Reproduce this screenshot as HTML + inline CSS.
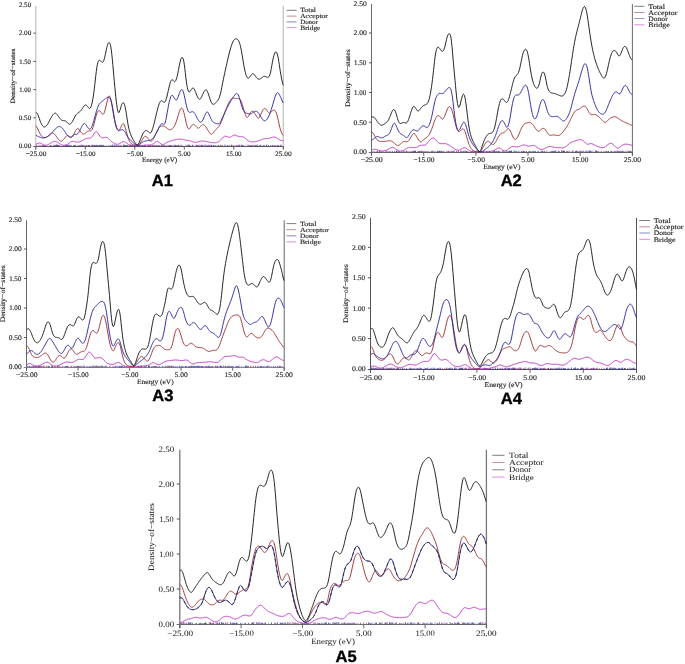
<!DOCTYPE html>
<html><head><meta charset="utf-8"><title>DOS</title>
<style>html,body{margin:0;padding:0;background:#fff}svg{display:block;opacity:0.999;will-change:transform}text{fill:#222;text-rendering:geometricPrecision;stroke:#333;stroke-width:0.15px}#A5 text{stroke-width:0.04px}</style>
</head><body>
<svg width="685" height="664" viewBox="0 0 685 664">
<rect width="685" height="664" fill="#fff"/>
<g id="A1">
<path d="M35.8,5.8 V149.6 M283.3,5.8 V149.6" fill="none" stroke="#c4c4c4" stroke-width="1.3"/>
<text x="25.0" y="148.2" font-family="Liberation Serif" font-size="6.71" font-weight="normal" text-anchor="middle" textLength="12.6" lengthAdjust="spacingAndGlyphs" >0.00</text>
<path d="M35.8,117.8 h-2.4" stroke="#444" stroke-width="0.9"/>
<text x="25.0" y="120.0" font-family="Liberation Serif" font-size="6.71" font-weight="normal" text-anchor="middle" textLength="12.6" lengthAdjust="spacingAndGlyphs" >0.50</text>
<path d="M35.8,89.6 h-2.4" stroke="#444" stroke-width="0.9"/>
<text x="25.0" y="91.8" font-family="Liberation Serif" font-size="6.71" font-weight="normal" text-anchor="middle" textLength="11.6" lengthAdjust="spacingAndGlyphs" >1.00</text>
<path d="M35.8,61.4 h-2.4" stroke="#444" stroke-width="0.9"/>
<text x="25.0" y="63.6" font-family="Liberation Serif" font-size="6.71" font-weight="normal" text-anchor="middle" textLength="11.6" lengthAdjust="spacingAndGlyphs" >1.50</text>
<path d="M35.8,33.2 h-2.4" stroke="#444" stroke-width="0.9"/>
<text x="25.0" y="35.4" font-family="Liberation Serif" font-size="6.71" font-weight="normal" text-anchor="middle" textLength="12.6" lengthAdjust="spacingAndGlyphs" >2.00</text>
<text x="25.0" y="7.2" font-family="Liberation Serif" font-size="6.71" font-weight="normal" text-anchor="middle" textLength="12.6" lengthAdjust="spacingAndGlyphs" >2.50</text>
<path d="M35.8,146.0 v3.6" stroke="#555" stroke-width="0.9"/>
<text x="36.1" y="155.7" font-family="Liberation Serif" font-size="6.71" font-weight="normal" text-anchor="middle" textLength="20.8" lengthAdjust="spacingAndGlyphs" >−25.00</text>
<path d="M85.3,146.0 v3.6" stroke="#555" stroke-width="0.9"/>
<text x="85.6" y="155.7" font-family="Liberation Serif" font-size="6.71" font-weight="normal" text-anchor="middle" textLength="19.8" lengthAdjust="spacingAndGlyphs" >−15.00</text>
<path d="M134.8,146.0 v3.6" stroke="#555" stroke-width="0.9"/>
<text x="135.1" y="155.7" font-family="Liberation Serif" font-size="6.71" font-weight="normal" text-anchor="middle" textLength="16.6" lengthAdjust="spacingAndGlyphs" >−5.00</text>
<path d="M184.3,146.0 v3.6" stroke="#555" stroke-width="0.9"/>
<text x="184.3" y="155.7" font-family="Liberation Serif" font-size="6.71" font-weight="normal" text-anchor="middle" textLength="12.6" lengthAdjust="spacingAndGlyphs" >5.00</text>
<path d="M233.8,146.0 v3.6" stroke="#555" stroke-width="0.9"/>
<text x="233.8" y="155.7" font-family="Liberation Serif" font-size="6.71" font-weight="normal" text-anchor="middle" textLength="15.6" lengthAdjust="spacingAndGlyphs" >15.00</text>
<path d="M283.3,146.0 v3.6" stroke="#555" stroke-width="0.9"/>
<text x="283.3" y="155.7" font-family="Liberation Serif" font-size="6.71" font-weight="normal" text-anchor="middle" textLength="16.6" lengthAdjust="spacingAndGlyphs" >25.00</text>
<text x="159.6" y="162.1" font-family="Liberation Serif" font-size="6.61" font-weight="normal" text-anchor="middle" textLength="35.3" lengthAdjust="spacingAndGlyphs" >Energy (eV)</text>
<text x="15.2" y="76.0" font-family="Liberation Serif" font-size="6.61" font-weight="normal" text-anchor="middle" textLength="54.8" lengthAdjust="spacingAndGlyphs" transform="rotate(-90 15.2 76.0)">Density−of−states</text>
<path d="M33.2,146.5 H283.8" stroke="#5a5a5a" stroke-width="1"/>
<path d="M41.9,146.3 v-1.1 M47.9,146.3 v-1.0 M64.4,146.3 v-1.3 M87.6,146.3 v-1.2 M108.5,146.3 v-1.5 M146.7,146.3 v-1.2 M155.2,146.3 v-1.4 M185.2,146.3 v-1.4 M194.1,146.3 v-1.4 M195.8,146.3 v-1.6 M200.5,146.3 v-1.4 M240.4,146.3 v-1.0 M243.7,146.3 v-1.2 M245.4,146.3 v-1.4" stroke="#9a9ae8" stroke-width="0.9" opacity="0.85" fill="none"/>
<path d="M45.5,146.3 v-1.0 M50.3,146.3 v-1.4 M51.4,146.3 v-0.9 M53.8,146.3 v-1.5 M56.5,146.3 v-1.7 M58.4,146.3 v-1.2 M59.3,146.3 v-1.2 M65.4,146.3 v-1.3 M66.3,146.3 v-1.7 M68.2,146.3 v-1.5 M69.2,146.3 v-1.6 M70.3,146.3 v-1.0 M71.2,146.3 v-1.1 M75.7,146.3 v-1.5 M78.1,146.3 v-1.1 M81.1,146.3 v-1.6 M82.4,146.3 v-1.4 M83.4,146.3 v-1.0 M85.4,146.3 v-0.9 M88.6,146.3 v-1.2 M94.4,146.3 v-1.2 M99.3,146.3 v-1.2 M100.2,146.3 v-1.6 M103.7,146.3 v-1.5 M110.2,146.3 v-1.1 M112.6,146.3 v-1.7 M114.3,146.3 v-1.7 M116.0,146.3 v-1.6 M118.8,146.3 v-1.1 M121.1,146.3 v-1.2 M123.5,146.3 v-1.6 M129.4,146.3 v-1.4 M130.5,146.3 v-1.5 M134.5,146.3 v-1.7 M135.4,146.3 v-1.3 M137.1,146.3 v-1.5 M140.0,146.3 v-1.7 M141.1,146.3 v-0.9 M142.2,146.3 v-1.4 M144.0,146.3 v-1.2 M149.8,146.3 v-1.2 M150.7,146.3 v-1.6 M156.3,146.3 v-1.4 M158.9,146.3 v-1.2 M161.5,146.3 v-1.7 M165.4,146.3 v-0.9 M168.1,146.3 v-1.0 M169.2,146.3 v-1.3 M170.2,146.3 v-1.3 M171.0,146.3 v-1.1 M175.5,146.3 v-1.0 M178.5,146.3 v-1.5 M179.8,146.3 v-0.9 M181.1,146.3 v-1.6 M189.1,146.3 v-1.6 M192.4,146.3 v-1.6 M196.7,146.3 v-1.5 M201.3,146.3 v-1.2 M202.9,146.3 v-1.0 M208.9,146.3 v-1.5 M211.5,146.3 v-1.4 M213.2,146.3 v-1.4 M214.0,146.3 v-1.2 M217.0,146.3 v-0.9 M218.7,146.3 v-1.4 M224.9,146.3 v-1.7 M227.3,146.3 v-1.2 M229.0,146.3 v-1.0 M231.5,146.3 v-1.6 M237.4,146.3 v-1.0 M239.3,146.3 v-1.6 M241.7,146.3 v-1.6 M242.7,146.3 v-1.4 M250.1,146.3 v-1.0 M250.9,146.3 v-0.9 M251.8,146.3 v-1.3 M256.4,146.3 v-1.0 M257.3,146.3 v-1.6 M260.7,146.3 v-1.6 M263.1,146.3 v-1.1 M266.6,146.3 v-1.7 M268.3,146.3 v-1.3 M272.4,146.3 v-1.3 M275.9,146.3 v-1.2 M277.6,146.3 v-1.2 M278.7,146.3 v-1.0" stroke="#2424a8" stroke-width="0.9" opacity="0.85" fill="none"/>
<path d="M44.6,146.3 v-0.9 M55.6,146.3 v-1.4 M80.2,146.3 v-1.2 M86.7,146.3 v-1.2 M91.8,146.3 v-1.6 M106.1,146.3 v-1.0 M117.1,146.3 v-1.1 M131.8,146.3 v-1.7 M147.5,146.3 v-1.1 M148.5,146.3 v-1.2 M152.4,146.3 v-1.3 M157.6,146.3 v-1.2 M159.8,146.3 v-1.3 M163.4,146.3 v-1.2 M176.5,146.3 v-1.2 M182.8,146.3 v-0.9 M215.3,146.3 v-1.2 M220.4,146.3 v-1.6 M221.7,146.3 v-1.1 M222.5,146.3 v-1.1 M233.9,146.3 v-1.2 M236.3,146.3 v-1.3 M248.8,146.3 v-1.4 M254.0,146.3 v-1.6 M280.4,146.3 v-1.5" stroke="#a03030" stroke-width="0.9" opacity="0.85" fill="none"/>
<path d="M36.7,146.3 v-1.5 M39.1,146.3 v-1.6 M61.7,146.3 v-0.9 M63.4,146.3 v-1.0 M84.3,146.3 v-1.1 M93.6,146.3 v-1.5 M98.3,146.3 v-1.2 M111.5,146.3 v-1.1 M120.1,146.3 v-1.5 M132.8,146.3 v-1.5 M138.0,146.3 v-0.9 M143.0,146.3 v-1.1 M153.3,146.3 v-1.4 M162.4,146.3 v-1.1 M167.1,146.3 v-1.3 M171.9,146.3 v-1.1 M173.0,146.3 v-1.3 M177.5,146.3 v-0.9 M186.9,146.3 v-1.4 M198.9,146.3 v-1.6 M199.7,146.3 v-1.1 M204.2,146.3 v-1.7 M209.7,146.3 v-0.9 M210.5,146.3 v-1.5 M229.8,146.3 v-1.0 M232.8,146.3 v-1.1 M238.5,146.3 v-1.1 M247.8,146.3 v-1.7 M252.9,146.3 v-1.2 M273.3,146.3 v-1.0 M274.2,146.3 v-1.4 M281.3,146.3 v-1.7" stroke="#c032c0" stroke-width="0.9" opacity="0.85" fill="none"/>
<path d="M40.8,146.3 v-0.9 M42.7,146.3 v-1.0 M43.8,146.3 v-1.2 M54.7,146.3 v-1.1 M57.4,146.3 v-1.6 M67.1,146.3 v-1.2 M73.6,146.3 v-1.2 M74.6,146.3 v-1.1 M79.2,146.3 v-1.0 M89.4,146.3 v-1.4 M92.7,146.3 v-1.4 M95.2,146.3 v-1.1 M96.3,146.3 v-1.4 M97.2,146.3 v-1.3 M101.5,146.3 v-1.4 M102.6,146.3 v-1.0 M124.4,146.3 v-1.5 M125.4,146.3 v-1.3 M126.7,146.3 v-1.1 M127.7,146.3 v-1.3 M139.1,146.3 v-1.0 M145.0,146.3 v-1.6 M154.2,146.3 v-1.4 M164.4,146.3 v-1.1 M174.7,146.3 v-1.6 M188.0,146.3 v-1.6 M190.0,146.3 v-1.3 M197.8,146.3 v-1.3 M202.1,146.3 v-1.5 M205.9,146.3 v-1.7 M207.6,146.3 v-1.0 M255.3,146.3 v-1.2 M259.7,146.3 v-1.0 M264.2,146.3 v-1.2 M270.7,146.3 v-1.0" stroke="#202060" stroke-width="0.9" opacity="0.85" fill="none"/>
<path d="M35.80,144.30 L36.30,144.09 L36.80,143.81 L37.30,143.55 L37.80,143.32 L38.30,143.15 L38.80,143.05 L39.30,143.03 L39.80,143.08 L40.30,143.21 L40.80,143.40 L41.30,143.63 L41.80,143.88 L42.30,144.14 L42.80,144.40 L43.30,144.64 L43.80,144.85 L44.30,145.04 L44.80,145.18 L45.30,145.26 L45.80,145.27 L46.30,145.21 L46.80,145.09 L47.30,144.93 L47.80,144.71 L48.30,144.47 L48.80,144.19 L49.30,143.91 L49.80,143.61 L50.30,143.32 L50.80,143.02 L51.30,142.73 L51.80,142.45 L52.30,142.19 L52.80,141.94 L53.30,141.73 L53.80,141.56 L54.30,141.44 L54.80,141.38 L55.30,141.39 L55.80,141.48 L56.30,141.64 L56.80,141.87 L57.30,142.16 L57.80,142.48 L58.30,142.82 L58.80,143.17 L59.30,143.51 L59.80,143.83 L60.30,144.12 L60.80,144.39 L61.30,144.64 L61.80,144.86 L62.30,145.04 L62.80,145.17 L63.30,145.26 L63.80,145.30 L64.30,145.29 L64.80,145.24 L65.30,145.15 L65.80,145.01 L66.30,144.84 L66.80,144.63 L67.30,144.38 L67.80,144.08 L68.30,143.75 L68.80,143.38 L69.30,143.00 L69.80,142.63 L70.30,142.27 L70.80,141.95 L71.30,141.69 L71.80,141.50 L72.30,141.39 L72.80,141.35 L73.30,141.38 L73.80,141.45 L74.30,141.55 L74.80,141.68 L75.30,141.82 L75.80,141.95 L76.30,142.06 L76.80,142.15 L77.30,142.19 L77.80,142.20 L78.30,142.15 L78.80,142.07 L79.30,141.94 L79.80,141.78 L80.30,141.59 L80.80,141.38 L81.30,141.14 L81.80,140.89 L82.30,140.61 L82.80,140.32 L83.30,140.01 L83.80,139.70 L84.30,139.39 L84.80,139.10 L85.30,138.84 L85.80,138.61 L86.30,138.44 L86.80,138.33 L87.30,138.27 L87.80,138.27 L88.30,138.28 L88.80,138.30 L89.30,138.30 L89.80,138.25 L90.30,138.13 L90.80,137.89 L91.30,137.52 L91.80,136.99 L92.30,136.34 L92.80,135.61 L93.30,134.85 L93.80,134.08 L94.30,133.35 L94.80,132.69 L95.30,132.13 L95.80,131.76 L96.30,131.64 L96.80,131.81 L97.30,132.24 L97.80,132.87 L98.30,133.62 L98.80,134.40 L99.30,135.18 L99.80,135.92 L100.30,136.57 L100.80,137.11 L101.30,137.48 L101.80,137.71 L102.30,137.81 L102.80,137.84 L103.30,137.80 L103.80,137.72 L104.30,137.61 L104.80,137.51 L105.30,137.41 L105.80,137.36 L106.30,137.35 L106.80,137.43 L107.30,137.60 L107.80,137.89 L108.30,138.29 L108.80,138.76 L109.30,139.28 L109.80,139.82 L110.30,140.35 L110.80,140.84 L111.30,141.31 L111.80,141.75 L112.30,142.17 L112.80,142.56 L113.30,142.91 L113.80,143.24 L114.30,143.52 L114.80,143.76 L115.30,143.95 L115.80,144.09 L116.30,144.19 L116.80,144.23 L117.30,144.24 L117.80,144.20 L118.30,144.12 L118.80,143.98 L119.30,143.79 L119.80,143.53 L120.30,143.21 L120.80,142.86 L121.30,142.49 L121.80,142.14 L122.30,141.83 L122.80,141.60 L123.30,141.47 L123.80,141.46 L124.30,141.58 L124.80,141.81 L125.30,142.12 L125.80,142.48 L126.30,142.86 L126.80,143.24 L127.30,143.60 L127.80,143.95 L128.30,144.27 L128.80,144.57 L129.30,144.82 L129.80,145.02 L130.30,145.19 L130.80,145.32 L131.30,145.42 L131.80,145.50 L132.30,145.57 L132.80,145.61 L133.30,145.64 L133.80,145.67 L134.30,145.68 L134.80,145.69 L135.30,145.70 L135.80,145.71 L136.30,145.72 L136.80,145.73 L137.30,145.74 L137.80,145.74 L138.30,145.75 L138.80,145.75 L139.30,145.74 L139.80,145.74 L140.30,145.72 L140.80,145.70 L141.30,145.67 L141.80,145.63 L142.30,145.58 L142.80,145.53 L143.30,145.47 L143.80,145.40 L144.30,145.34 L144.80,145.28 L145.30,145.22 L145.80,145.17 L146.30,145.13 L146.80,145.10 L147.30,145.08 L147.80,145.07 L148.30,145.06 L148.80,145.06 L149.30,145.04 L149.80,145.01 L150.30,144.95 L150.80,144.87 L151.30,144.75 L151.80,144.58 L152.30,144.35 L152.80,144.07 L153.30,143.73 L153.80,143.36 L154.30,142.97 L154.80,142.57 L155.30,142.21 L155.80,141.88 L156.30,141.63 L156.80,141.46 L157.30,141.40 L157.80,141.47 L158.30,141.68 L158.80,142.02 L159.30,142.44 L159.80,142.90 L160.30,143.34 L160.80,143.72 L161.30,144.02 L161.80,144.24 L162.30,144.38 L162.80,144.43 L163.30,144.39 L163.80,144.25 L164.30,144.02 L164.80,143.73 L165.30,143.39 L165.80,143.04 L166.30,142.72 L166.80,142.43 L167.30,142.17 L167.80,141.95 L168.30,141.75 L168.80,141.57 L169.30,141.41 L169.80,141.26 L170.30,141.12 L170.80,140.98 L171.30,140.85 L171.80,140.72 L172.30,140.58 L172.80,140.45 L173.30,140.33 L173.80,140.20 L174.30,140.08 L174.80,139.96 L175.30,139.84 L175.80,139.73 L176.30,139.63 L176.80,139.52 L177.30,139.43 L177.80,139.34 L178.30,139.26 L178.80,139.20 L179.30,139.15 L179.80,139.13 L180.30,139.12 L180.80,139.14 L181.30,139.19 L181.80,139.25 L182.30,139.34 L182.80,139.45 L183.30,139.57 L183.80,139.69 L184.30,139.81 L184.80,139.92 L185.30,140.03 L185.80,140.12 L186.30,140.19 L186.80,140.26 L187.30,140.32 L187.80,140.38 L188.30,140.45 L188.80,140.53 L189.30,140.62 L189.80,140.74 L190.30,140.88 L190.80,141.05 L191.30,141.24 L191.80,141.44 L192.30,141.64 L192.80,141.83 L193.30,142.00 L193.80,142.14 L194.30,142.25 L194.80,142.31 L195.30,142.32 L195.80,142.29 L196.30,142.22 L196.80,142.13 L197.30,142.01 L197.80,141.88 L198.30,141.74 L198.80,141.61 L199.30,141.48 L199.80,141.36 L200.30,141.25 L200.80,141.16 L201.30,141.09 L201.80,141.03 L202.30,141.00 L202.80,141.00 L203.30,141.02 L203.80,141.06 L204.30,141.13 L204.80,141.21 L205.30,141.31 L205.80,141.41 L206.30,141.52 L206.80,141.63 L207.30,141.74 L207.80,141.84 L208.30,141.94 L208.80,142.04 L209.30,142.14 L209.80,142.23 L210.30,142.32 L210.80,142.40 L211.30,142.48 L211.80,142.54 L212.30,142.60 L212.80,142.65 L213.30,142.69 L213.80,142.72 L214.30,142.73 L214.80,142.73 L215.30,142.71 L215.80,142.67 L216.30,142.59 L216.80,142.49 L217.30,142.35 L217.80,142.16 L218.30,141.91 L218.80,141.60 L219.30,141.22 L219.80,140.78 L220.30,140.31 L220.80,139.81 L221.30,139.29 L221.80,138.75 L222.30,138.20 L222.80,137.66 L223.30,137.17 L223.80,136.75 L224.30,136.44 L224.80,136.25 L225.30,136.19 L225.80,136.23 L226.30,136.35 L226.80,136.53 L227.30,136.73 L227.80,136.93 L228.30,137.11 L228.80,137.25 L229.30,137.32 L229.80,137.29 L230.30,137.16 L230.80,136.92 L231.30,136.60 L231.80,136.26 L232.30,135.92 L232.80,135.63 L233.30,135.41 L233.80,135.25 L234.30,135.16 L234.80,135.14 L235.30,135.19 L235.80,135.31 L236.30,135.50 L236.80,135.74 L237.30,136.00 L237.80,136.26 L238.30,136.48 L238.80,136.64 L239.30,136.73 L239.80,136.75 L240.30,136.73 L240.80,136.69 L241.30,136.66 L241.80,136.65 L242.30,136.70 L242.80,136.82 L243.30,137.01 L243.80,137.28 L244.30,137.60 L244.80,137.96 L245.30,138.35 L245.80,138.75 L246.30,139.17 L246.80,139.59 L247.30,140.01 L247.80,140.42 L248.30,140.80 L248.80,141.13 L249.30,141.40 L249.80,141.60 L250.30,141.74 L250.80,141.83 L251.30,141.89 L251.80,141.92 L252.30,141.92 L252.80,141.90 L253.30,141.87 L253.80,141.82 L254.30,141.76 L254.80,141.69 L255.30,141.62 L255.80,141.53 L256.30,141.43 L256.80,141.32 L257.30,141.19 L257.80,141.05 L258.30,140.91 L258.80,140.75 L259.30,140.58 L259.80,140.39 L260.30,140.19 L260.80,139.98 L261.30,139.76 L261.80,139.53 L262.30,139.32 L262.80,139.12 L263.30,138.94 L263.80,138.80 L264.30,138.69 L264.80,138.62 L265.30,138.58 L265.80,138.56 L266.30,138.55 L266.80,138.55 L267.30,138.54 L267.80,138.52 L268.30,138.47 L268.80,138.39 L269.30,138.27 L269.80,138.12 L270.30,137.96 L270.80,137.79 L271.30,137.62 L271.80,137.45 L272.30,137.31 L272.80,137.19 L273.30,137.10 L273.80,137.04 L274.30,137.04 L274.80,137.11 L275.30,137.24 L275.80,137.44 L276.30,137.68 L276.80,137.97 L277.30,138.28 L277.80,138.60 L278.30,138.93 L278.80,139.25 L279.30,139.56 L279.80,139.86 L280.30,140.11 L280.80,140.30 L281.30,140.43 L281.80,140.50 L282.30,140.52 L282.80,140.51 L283.30,140.49" fill="none" stroke="#c032c0" stroke-width="0.95" stroke-linejoin="round"/>
<path d="M35.80,125.64 L36.30,126.26 L36.80,127.11 L37.30,128.06 L37.80,129.05 L38.30,130.09 L38.80,131.17 L39.30,132.25 L39.80,133.31 L40.30,134.28 L40.80,135.13 L41.30,135.82 L41.80,136.38 L42.30,136.81 L42.80,137.14 L43.30,137.38 L43.80,137.52 L44.30,137.59 L44.80,137.59 L45.30,137.52 L45.80,137.38 L46.30,137.19 L46.80,136.95 L47.30,136.66 L47.80,136.34 L48.30,135.98 L48.80,135.60 L49.30,135.19 L49.80,134.76 L50.30,134.33 L50.80,133.94 L51.30,133.59 L51.80,133.33 L52.30,133.17 L52.80,133.13 L53.30,133.25 L53.80,133.52 L54.30,133.93 L54.80,134.43 L55.30,135.01 L55.80,135.66 L56.30,136.35 L56.80,137.07 L57.30,137.80 L57.80,138.50 L58.30,139.15 L58.80,139.74 L59.30,140.25 L59.80,140.68 L60.30,141.00 L60.80,141.19 L61.30,141.22 L61.80,141.08 L62.30,140.78 L62.80,140.35 L63.30,139.83 L63.80,139.25 L64.30,138.62 L64.80,137.97 L65.30,137.32 L65.80,136.71 L66.30,136.20 L66.80,135.83 L67.30,135.64 L67.80,135.62 L68.30,135.74 L68.80,135.98 L69.30,136.30 L69.80,136.67 L70.30,137.04 L70.80,137.32 L71.30,137.44 L71.80,137.32 L72.30,136.92 L72.80,136.26 L73.30,135.42 L73.80,134.45 L74.30,133.44 L74.80,132.43 L75.30,131.45 L75.80,130.53 L76.30,129.72 L76.80,129.08 L77.30,128.68 L77.80,128.55 L78.30,128.70 L78.80,129.10 L79.30,129.70 L79.80,130.41 L80.30,131.16 L80.80,131.89 L81.30,132.56 L81.80,133.16 L82.30,133.64 L82.80,133.97 L83.30,134.13 L83.80,134.10 L84.30,133.91 L84.80,133.59 L85.30,133.18 L85.80,132.71 L86.30,132.23 L86.80,131.77 L87.30,131.38 L87.80,131.08 L88.30,130.90 L88.80,130.83 L89.30,130.83 L89.80,130.86 L90.30,130.85 L90.80,130.74 L91.30,130.45 L91.80,129.90 L92.30,129.05 L92.80,127.89 L93.30,126.47 L93.80,124.82 L94.30,122.97 L94.80,120.96 L95.30,118.90 L95.80,116.93 L96.30,115.16 L96.80,113.66 L97.30,112.44 L97.80,111.50 L98.30,110.88 L98.80,110.59 L99.30,110.61 L99.80,110.91 L100.30,111.41 L100.80,112.04 L101.30,112.74 L101.80,113.43 L102.30,114.00 L102.80,114.32 L103.30,114.22 L103.80,113.63 L104.30,112.53 L104.80,111.00 L105.30,109.15 L105.80,107.11 L106.30,104.99 L106.80,102.88 L107.30,100.86 L107.80,99.01 L108.30,97.47 L108.80,96.42 L109.30,96.04 L109.80,96.44 L110.30,97.62 L110.80,99.49 L111.30,101.89 L111.80,104.64 L112.30,107.60 L112.80,110.59 L113.30,113.45 L113.80,116.11 L114.30,118.51 L114.80,120.69 L115.30,122.65 L115.80,124.43 L116.30,126.03 L116.80,127.47 L117.30,128.72 L117.80,129.69 L118.30,130.28 L118.80,130.42 L119.30,130.09 L119.80,129.38 L120.30,128.41 L120.80,127.32 L121.30,126.23 L121.80,125.22 L122.30,124.38 L122.80,123.81 L123.30,123.63 L123.80,123.94 L124.30,124.77 L124.80,126.07 L125.30,127.67 L125.80,129.44 L126.30,131.32 L126.80,133.24 L127.30,135.11 L127.80,136.87 L128.30,138.44 L128.80,139.78 L129.30,140.90 L129.80,141.83 L130.30,142.59 L130.80,143.20 L131.30,143.69 L131.80,144.09 L132.30,144.41 L132.80,144.67 L133.30,144.89 L133.80,145.07 L134.30,145.20 L134.80,145.29 L135.30,145.35 L135.80,145.37 L136.30,145.36 L136.80,145.31 L137.30,145.22 L137.80,145.06 L138.30,144.83 L138.80,144.50 L139.30,144.07 L139.80,143.55 L140.30,142.94 L140.80,142.24 L141.30,141.45 L141.80,140.59 L142.30,139.68 L142.80,138.81 L143.30,138.02 L143.80,137.35 L144.30,136.83 L144.80,136.47 L145.30,136.29 L145.80,136.33 L146.30,136.59 L146.80,137.05 L147.30,137.64 L147.80,138.31 L148.30,138.99 L148.80,139.63 L149.30,140.20 L149.80,140.68 L150.30,141.02 L150.80,141.18 L151.30,141.11 L151.80,140.83 L152.30,140.35 L152.80,139.70 L153.30,138.92 L153.80,138.04 L154.30,137.07 L154.80,136.02 L155.30,134.91 L155.80,133.77 L156.30,132.65 L156.80,131.58 L157.30,130.57 L157.80,129.65 L158.30,128.80 L158.80,128.05 L159.30,127.41 L159.80,126.90 L160.30,126.52 L160.80,126.27 L161.30,126.11 L161.80,126.02 L162.30,126.00 L162.80,126.03 L163.30,126.11 L163.80,126.24 L164.30,126.43 L164.80,126.67 L165.30,126.95 L165.80,127.26 L166.30,127.61 L166.80,127.98 L167.30,128.38 L167.80,128.77 L168.30,129.14 L168.80,129.45 L169.30,129.66 L169.80,129.75 L170.30,129.73 L170.80,129.60 L171.30,129.38 L171.80,129.06 L172.30,128.66 L172.80,128.18 L173.30,127.61 L173.80,126.95 L174.30,126.16 L174.80,125.24 L175.30,124.18 L175.80,122.98 L176.30,121.61 L176.80,120.08 L177.30,118.39 L177.80,116.60 L178.30,114.82 L178.80,113.14 L179.30,111.64 L179.80,110.36 L180.30,109.34 L180.80,108.59 L181.30,108.16 L181.80,108.11 L182.30,108.51 L182.80,109.37 L183.30,110.66 L183.80,112.29 L184.30,114.21 L184.80,116.36 L185.30,118.67 L185.80,121.00 L186.30,123.20 L186.80,125.12 L187.30,126.68 L187.80,127.87 L188.30,128.64 L188.80,128.97 L189.30,128.86 L189.80,128.41 L190.30,127.73 L190.80,126.96 L191.30,126.22 L191.80,125.55 L192.30,125.01 L192.80,124.61 L193.30,124.42 L193.80,124.44 L194.30,124.67 L194.80,125.07 L195.30,125.59 L195.80,126.15 L196.30,126.72 L196.80,127.24 L197.30,127.70 L197.80,128.02 L198.30,128.15 L198.80,128.06 L199.30,127.74 L199.80,127.26 L200.30,126.70 L200.80,126.14 L201.30,125.63 L201.80,125.22 L202.30,124.91 L202.80,124.73 L203.30,124.70 L203.80,124.84 L204.30,125.15 L204.80,125.62 L205.30,126.20 L205.80,126.86 L206.30,127.57 L206.80,128.33 L207.30,129.13 L207.80,129.95 L208.30,130.77 L208.80,131.57 L209.30,132.35 L209.80,133.07 L210.30,133.68 L210.80,134.11 L211.30,134.31 L211.80,134.24 L212.30,133.92 L212.80,133.40 L213.30,132.76 L213.80,132.06 L214.30,131.35 L214.80,130.70 L215.30,130.11 L215.80,129.57 L216.30,129.08 L216.80,128.60 L217.30,128.12 L217.80,127.62 L218.30,127.06 L218.80,126.43 L219.30,125.71 L219.80,124.88 L220.30,123.95 L220.80,122.91 L221.30,121.78 L221.80,120.58 L222.30,119.33 L222.80,118.05 L223.30,116.73 L223.80,115.40 L224.30,114.05 L224.80,112.69 L225.30,111.32 L225.80,109.97 L226.30,108.64 L226.80,107.35 L227.30,106.11 L227.80,104.91 L228.30,103.77 L228.80,102.69 L229.30,101.70 L229.80,100.82 L230.30,100.06 L230.80,99.41 L231.30,98.89 L231.80,98.48 L232.30,98.19 L232.80,98.03 L233.30,97.99 L233.80,98.04 L234.30,98.14 L234.80,98.27 L235.30,98.39 L235.80,98.48 L236.30,98.51 L236.80,98.49 L237.30,98.46 L237.80,98.43 L238.30,98.45 L238.80,98.54 L239.30,98.76 L239.80,99.16 L240.30,99.78 L240.80,100.62 L241.30,101.69 L241.80,102.98 L242.30,104.52 L242.80,106.24 L243.30,108.06 L243.80,109.86 L244.30,111.58 L244.80,113.18 L245.30,114.63 L245.80,115.84 L246.30,116.76 L246.80,117.31 L247.30,117.43 L247.80,117.15 L248.30,116.53 L248.80,115.70 L249.30,114.78 L249.80,113.88 L250.30,113.04 L250.80,112.31 L251.30,111.72 L251.80,111.32 L252.30,111.15 L252.80,111.22 L253.30,111.53 L253.80,112.04 L254.30,112.70 L254.80,113.48 L255.30,114.31 L255.80,115.16 L256.30,116.00 L256.80,116.79 L257.30,117.47 L257.80,117.95 L258.30,118.15 L258.80,118.00 L259.30,117.48 L259.80,116.64 L260.30,115.58 L260.80,114.41 L261.30,113.23 L261.80,112.11 L262.30,111.07 L262.80,110.14 L263.30,109.37 L263.80,108.80 L264.30,108.49 L264.80,108.44 L265.30,108.66 L265.80,109.09 L266.30,109.67 L266.80,110.34 L267.30,111.04 L267.80,111.72 L268.30,112.33 L268.80,112.83 L269.30,113.14 L269.80,113.20 L270.30,112.99 L270.80,112.54 L271.30,111.95 L271.80,111.32 L272.30,110.76 L272.80,110.33 L273.30,110.06 L273.80,109.96 L274.30,110.04 L274.80,110.35 L275.30,110.91 L275.80,111.76 L276.30,112.91 L276.80,114.36 L277.30,116.11 L277.80,118.17 L278.30,120.44 L278.80,122.77 L279.30,125.04 L279.80,127.15 L280.30,129.07 L280.80,130.78 L281.30,132.24 L281.80,133.44 L282.30,134.38 L282.80,135.07 L283.30,135.50" fill="none" stroke="#a03030" stroke-width="0.95" stroke-linejoin="round"/>
<path d="M35.80,135.28 L36.30,135.47 L36.80,135.73 L37.30,136.01 L37.80,136.28 L38.30,136.53 L38.80,136.77 L39.30,136.99 L39.80,137.19 L40.30,137.38 L40.80,137.54 L41.30,137.68 L41.80,137.80 L42.30,137.89 L42.80,137.95 L43.30,137.98 L43.80,137.96 L44.30,137.89 L44.80,137.79 L45.30,137.63 L45.80,137.44 L46.30,137.21 L46.80,136.94 L47.30,136.65 L47.80,136.33 L48.30,135.98 L48.80,135.60 L49.30,135.19 L49.80,134.74 L50.30,134.27 L50.80,133.76 L51.30,133.24 L51.80,132.71 L52.30,132.17 L52.80,131.63 L53.30,131.10 L53.80,130.57 L54.30,130.04 L54.80,129.52 L55.30,129.01 L55.80,128.53 L56.30,128.07 L56.80,127.65 L57.30,127.28 L57.80,126.98 L58.30,126.75 L58.80,126.59 L59.30,126.53 L59.80,126.57 L60.30,126.71 L60.80,126.96 L61.30,127.30 L61.80,127.71 L62.30,128.20 L62.80,128.75 L63.30,129.35 L63.80,130.00 L64.30,130.71 L64.80,131.47 L65.30,132.26 L65.80,133.05 L66.30,133.81 L66.80,134.53 L67.30,135.19 L67.80,135.79 L68.30,136.31 L68.80,136.74 L69.30,137.05 L69.80,137.23 L70.30,137.25 L70.80,137.11 L71.30,136.81 L71.80,136.41 L72.30,135.95 L72.80,135.48 L73.30,135.06 L73.80,134.74 L74.30,134.53 L74.80,134.41 L75.30,134.37 L75.80,134.36 L76.30,134.33 L76.80,134.25 L77.30,134.07 L77.80,133.73 L78.30,133.21 L78.80,132.48 L79.30,131.59 L79.80,130.59 L80.30,129.55 L80.80,128.50 L81.30,127.47 L81.80,126.49 L82.30,125.57 L82.80,124.77 L83.30,124.14 L83.80,123.73 L84.30,123.57 L84.80,123.68 L85.30,124.05 L85.80,124.60 L86.30,125.28 L86.80,126.03 L87.30,126.79 L87.80,127.53 L88.30,128.20 L88.80,128.72 L89.30,129.04 L89.80,129.08 L90.30,128.85 L90.80,128.34 L91.30,127.58 L91.80,126.60 L92.30,125.43 L92.80,124.07 L93.30,122.51 L93.80,120.78 L94.30,118.94 L94.80,117.05 L95.30,115.18 L95.80,113.38 L96.30,111.67 L96.80,110.06 L97.30,108.56 L97.80,107.21 L98.30,106.01 L98.80,105.00 L99.30,104.17 L99.80,103.48 L100.30,102.91 L100.80,102.43 L101.30,102.01 L101.80,101.61 L102.30,101.23 L102.80,100.84 L103.30,100.42 L103.80,99.99 L104.30,99.56 L104.80,99.12 L105.30,98.71 L105.80,98.31 L106.30,97.96 L106.80,97.64 L107.30,97.39 L107.80,97.20 L108.30,97.13 L108.80,97.20 L109.30,97.49 L109.80,98.03 L110.30,98.87 L110.80,100.03 L111.30,101.54 L111.80,103.43 L112.30,105.76 L112.80,108.51 L113.30,111.60 L113.80,114.84 L114.30,118.05 L114.80,121.02 L115.30,123.60 L115.80,125.71 L116.30,127.37 L116.80,128.65 L117.30,129.58 L117.80,130.21 L118.30,130.56 L118.80,130.67 L119.30,130.61 L119.80,130.43 L120.30,130.20 L120.80,129.96 L121.30,129.76 L121.80,129.65 L122.30,129.65 L122.80,129.78 L123.30,130.03 L123.80,130.42 L124.30,130.96 L124.80,131.64 L125.30,132.47 L125.80,133.39 L126.30,134.36 L126.80,135.31 L127.30,136.19 L127.80,136.99 L128.30,137.69 L128.80,138.33 L129.30,138.91 L129.80,139.45 L130.30,139.96 L130.80,140.45 L131.30,140.93 L131.80,141.41 L132.30,141.89 L132.80,142.36 L133.30,142.82 L133.80,143.26 L134.30,143.67 L134.80,144.04 L135.30,144.39 L135.80,144.70 L136.30,144.95 L136.80,145.14 L137.30,145.25 L137.80,145.25 L138.30,145.14 L138.80,144.91 L139.30,144.60 L139.80,144.22 L140.30,143.81 L140.80,143.41 L141.30,143.02 L141.80,142.65 L142.30,142.32 L142.80,142.01 L143.30,141.74 L143.80,141.51 L144.30,141.32 L144.80,141.17 L145.30,141.04 L145.80,140.95 L146.30,140.86 L146.80,140.79 L147.30,140.72 L147.80,140.65 L148.30,140.58 L148.80,140.50 L149.30,140.40 L149.80,140.26 L150.30,140.08 L150.80,139.85 L151.30,139.55 L151.80,139.19 L152.30,138.77 L152.80,138.28 L153.30,137.73 L153.80,137.11 L154.30,136.42 L154.80,135.66 L155.30,134.84 L155.80,133.97 L156.30,133.07 L156.80,132.13 L157.30,131.16 L157.80,130.15 L158.30,129.14 L158.80,128.13 L159.30,127.13 L159.80,126.17 L160.30,125.28 L160.80,124.50 L161.30,123.93 L161.80,123.63 L162.30,123.65 L162.80,123.91 L163.30,124.27 L163.80,124.50 L164.30,124.38 L164.80,123.69 L165.30,122.29 L165.80,120.25 L166.30,117.75 L166.80,115.01 L167.30,112.19 L167.80,109.37 L168.30,106.62 L168.80,104.05 L169.30,101.73 L169.80,99.73 L170.30,98.04 L170.80,96.70 L171.30,95.75 L171.80,95.25 L172.30,95.21 L172.80,95.60 L173.30,96.29 L173.80,97.16 L174.30,98.07 L174.80,98.90 L175.30,99.58 L175.80,100.01 L176.30,100.08 L176.80,99.71 L177.30,98.92 L177.80,97.77 L178.30,96.41 L178.80,94.97 L179.30,93.57 L179.80,92.29 L180.30,91.18 L180.80,90.28 L181.30,89.69 L181.80,89.47 L182.30,89.72 L182.80,90.50 L183.30,91.79 L183.80,93.51 L184.30,95.56 L184.80,97.84 L185.30,100.29 L185.80,102.77 L186.30,105.10 L186.80,107.13 L187.30,108.83 L187.80,110.19 L188.30,111.21 L188.80,111.90 L189.30,112.26 L189.80,112.37 L190.30,112.30 L190.80,112.13 L191.30,111.93 L191.80,111.76 L192.30,111.68 L192.80,111.74 L193.30,111.96 L193.80,112.33 L194.30,112.85 L194.80,113.52 L195.30,114.33 L195.80,115.27 L196.30,116.30 L196.80,117.37 L197.30,118.39 L197.80,119.34 L198.30,120.18 L198.80,120.89 L199.30,121.49 L199.80,121.93 L200.30,122.18 L200.80,122.23 L201.30,122.03 L201.80,121.57 L202.30,120.88 L202.80,120.00 L203.30,118.98 L203.80,117.87 L204.30,116.71 L204.80,115.52 L205.30,114.37 L205.80,113.33 L206.30,112.51 L206.80,112.02 L207.30,111.92 L207.80,112.24 L208.30,112.93 L208.80,113.88 L209.30,114.97 L209.80,116.11 L210.30,117.25 L210.80,118.35 L211.30,119.39 L211.80,120.32 L212.30,121.11 L212.80,121.74 L213.30,122.21 L213.80,122.56 L214.30,122.82 L214.80,123.02 L215.30,123.18 L215.80,123.33 L216.30,123.48 L216.80,123.63 L217.30,123.76 L217.80,123.84 L218.30,123.84 L218.80,123.71 L219.30,123.42 L219.80,122.91 L220.30,122.18 L220.80,121.26 L221.30,120.21 L221.80,119.09 L222.30,117.95 L222.80,116.82 L223.30,115.71 L223.80,114.60 L224.30,113.50 L224.80,112.41 L225.30,111.36 L225.80,110.32 L226.30,109.32 L226.80,108.35 L227.30,107.40 L227.80,106.47 L228.30,105.57 L228.80,104.67 L229.30,103.79 L229.80,102.92 L230.30,102.05 L230.80,101.19 L231.30,100.33 L231.80,99.49 L232.30,98.66 L232.80,97.85 L233.30,97.06 L233.80,96.29 L234.30,95.56 L234.80,94.88 L235.30,94.29 L235.80,93.84 L236.30,93.57 L236.80,93.53 L237.30,93.75 L237.80,94.25 L238.30,95.02 L238.80,96.08 L239.30,97.44 L239.80,99.09 L240.30,100.96 L240.80,102.90 L241.30,104.76 L241.80,106.42 L242.30,107.86 L242.80,109.09 L243.30,110.12 L243.80,110.98 L244.30,111.66 L244.80,112.18 L245.30,112.59 L245.80,112.91 L246.30,113.15 L246.80,113.36 L247.30,113.52 L247.80,113.67 L248.30,113.80 L248.80,113.92 L249.30,114.00 L249.80,114.02 L250.30,113.98 L250.80,113.84 L251.30,113.61 L251.80,113.32 L252.30,112.97 L252.80,112.62 L253.30,112.27 L253.80,111.96 L254.30,111.68 L254.80,111.45 L255.30,111.29 L255.80,111.22 L256.30,111.26 L256.80,111.43 L257.30,111.76 L257.80,112.23 L258.30,112.82 L258.80,113.50 L259.30,114.24 L259.80,115.03 L260.30,115.86 L260.80,116.72 L261.30,117.57 L261.80,118.36 L262.30,119.06 L262.80,119.65 L263.30,120.12 L263.80,120.48 L264.30,120.70 L264.80,120.79 L265.30,120.72 L265.80,120.47 L266.30,120.05 L266.80,119.48 L267.30,118.78 L267.80,117.97 L268.30,117.05 L268.80,116.04 L269.30,114.91 L269.80,113.68 L270.30,112.34 L270.80,110.92 L271.30,109.42 L271.80,107.84 L272.30,106.19 L272.80,104.47 L273.30,102.71 L273.80,100.96 L274.30,99.27 L274.80,97.69 L275.30,96.26 L275.80,95.00 L276.30,93.94 L276.80,93.16 L277.30,92.72 L277.80,92.67 L278.30,93.00 L278.80,93.64 L279.30,94.50 L279.80,95.50 L280.30,96.56 L280.80,97.66 L281.30,98.78 L281.80,99.93 L282.30,101.08 L282.80,102.16 L283.30,102.96" fill="none" stroke="#2828a4" stroke-width="0.95" stroke-linejoin="round"/>
<path d="M35.80,112.33 L36.30,112.58 L36.80,113.01 L37.30,113.65 L37.80,114.55 L38.30,115.69 L38.80,117.05 L39.30,118.51 L39.80,119.98 L40.30,121.36 L40.80,122.60 L41.30,123.69 L41.80,124.64 L42.30,125.43 L42.80,126.07 L43.30,126.54 L43.80,126.84 L44.30,126.95 L44.80,126.89 L45.30,126.68 L45.80,126.33 L46.30,125.86 L46.80,125.29 L47.30,124.63 L47.80,123.89 L48.30,123.05 L48.80,122.13 L49.30,121.16 L49.80,120.16 L50.30,119.17 L50.80,118.20 L51.30,117.29 L51.80,116.45 L52.30,115.67 L52.80,114.97 L53.30,114.35 L53.80,113.84 L54.30,113.46 L54.80,113.23 L55.30,113.19 L55.80,113.33 L56.30,113.67 L56.80,114.17 L57.30,114.78 L57.80,115.47 L58.30,116.18 L58.80,116.91 L59.30,117.63 L59.80,118.33 L60.30,118.96 L60.80,119.51 L61.30,119.94 L61.80,120.24 L62.30,120.41 L62.80,120.51 L63.30,120.56 L63.80,120.59 L64.30,120.64 L64.80,120.74 L65.30,120.93 L65.80,121.23 L66.30,121.62 L66.80,122.10 L67.30,122.62 L67.80,123.13 L68.30,123.58 L68.80,123.94 L69.30,124.15 L69.80,124.19 L70.30,124.02 L70.80,123.66 L71.30,123.13 L71.80,122.46 L72.30,121.69 L72.80,120.84 L73.30,119.92 L73.80,118.95 L74.30,117.94 L74.80,116.95 L75.30,116.01 L75.80,115.16 L76.30,114.45 L76.80,113.88 L77.30,113.43 L77.80,113.08 L78.30,112.78 L78.80,112.48 L79.30,112.14 L79.80,111.72 L80.30,111.21 L80.80,110.62 L81.30,109.95 L81.80,109.24 L82.30,108.50 L82.80,107.75 L83.30,107.00 L83.80,106.30 L84.30,105.68 L84.80,105.22 L85.30,104.97 L85.80,104.96 L86.30,105.18 L86.80,105.59 L87.30,106.14 L87.80,106.78 L88.30,107.45 L88.80,108.04 L89.30,108.44 L89.80,108.49 L90.30,108.10 L90.80,107.24 L91.30,105.92 L91.80,104.19 L92.30,102.04 L92.80,99.43 L93.30,96.35 L93.80,92.80 L94.30,88.81 L94.80,84.48 L95.30,79.99 L95.80,75.58 L96.30,71.44 L96.80,67.77 L97.30,64.80 L97.80,62.68 L98.30,61.34 L98.80,60.64 L99.30,60.38 L99.80,60.43 L100.30,60.68 L100.80,61.11 L101.30,61.62 L101.80,62.09 L102.30,62.32 L102.80,62.15 L103.30,61.52 L103.80,60.42 L104.30,58.87 L104.80,56.90 L105.30,54.62 L105.80,52.20 L106.30,49.80 L106.80,47.56 L107.30,45.62 L107.80,44.11 L108.30,43.11 L108.80,42.61 L109.30,42.64 L109.80,43.25 L110.30,44.60 L110.80,46.86 L111.30,50.10 L111.80,54.26 L112.30,59.11 L112.80,64.44 L113.30,70.02 L113.80,75.67 L114.30,81.26 L114.80,86.72 L115.30,91.96 L115.80,96.89 L116.30,101.40 L116.80,105.33 L117.30,108.57 L117.80,110.98 L118.30,112.38 L118.80,112.71 L119.30,112.10 L119.80,110.81 L120.30,109.15 L120.80,107.40 L121.30,105.78 L121.80,104.42 L122.30,103.40 L122.80,102.78 L123.30,102.66 L123.80,103.09 L124.30,104.11 L124.80,105.70 L125.30,107.80 L125.80,110.40 L126.30,113.44 L126.80,116.74 L127.30,120.07 L127.80,123.17 L128.30,125.92 L128.80,128.29 L129.30,130.32 L129.80,132.07 L130.30,133.58 L130.80,134.90 L131.30,136.07 L131.80,137.13 L132.30,138.10 L132.80,139.02 L133.30,139.90 L133.80,140.73 L134.30,141.52 L134.80,142.27 L135.30,142.99 L135.80,143.67 L136.30,144.25 L136.80,144.67 L137.30,144.83 L137.80,144.66 L138.30,144.13 L138.80,143.28 L139.30,142.21 L139.80,141.01 L140.30,139.76 L140.80,138.51 L141.30,137.29 L141.80,136.10 L142.30,134.99 L142.80,133.98 L143.30,133.08 L143.80,132.32 L144.30,131.68 L144.80,131.17 L145.30,130.80 L145.80,130.59 L146.30,130.55 L146.80,130.65 L147.30,130.90 L147.80,131.25 L148.30,131.68 L148.80,132.16 L149.30,132.62 L149.80,132.94 L150.30,133.00 L150.80,132.70 L151.30,132.02 L151.80,131.00 L152.30,129.72 L152.80,128.23 L153.30,126.55 L153.80,124.70 L154.30,122.72 L154.80,120.64 L155.30,118.52 L155.80,116.40 L156.30,114.28 L156.80,112.19 L157.30,110.15 L157.80,108.22 L158.30,106.46 L158.80,104.89 L159.30,103.54 L159.80,102.42 L160.30,101.55 L160.80,100.95 L161.30,100.66 L161.80,100.69 L162.30,100.97 L162.80,101.39 L163.30,101.84 L163.80,102.18 L164.30,102.29 L164.80,102.03 L165.30,101.34 L165.80,100.22 L166.30,98.75 L166.80,96.99 L167.30,95.00 L167.80,92.82 L168.30,90.53 L168.80,88.25 L169.30,86.11 L169.80,84.20 L170.30,82.56 L170.80,81.22 L171.30,80.26 L171.80,79.74 L172.30,79.68 L172.80,80.00 L173.30,80.55 L173.80,81.13 L174.30,81.57 L174.80,81.67 L175.30,81.33 L175.80,80.49 L176.30,79.21 L176.80,77.55 L177.30,75.57 L177.80,73.32 L178.30,70.84 L178.80,68.21 L179.30,65.59 L179.80,63.16 L180.30,61.05 L180.80,59.36 L181.30,58.19 L181.80,57.56 L182.30,57.47 L182.80,57.99 L183.30,59.26 L183.80,61.44 L184.30,64.55 L184.80,68.39 L185.30,72.66 L185.80,77.02 L186.30,81.11 L186.80,84.65 L187.30,87.50 L187.80,89.64 L188.30,91.08 L188.80,91.83 L189.30,91.99 L189.80,91.68 L190.30,91.08 L190.80,90.34 L191.30,89.58 L191.80,88.88 L192.30,88.33 L192.80,88.02 L193.30,88.04 L193.80,88.44 L194.30,89.19 L194.80,90.22 L195.30,91.41 L195.80,92.70 L196.30,94.02 L196.80,95.32 L197.30,96.52 L197.80,97.54 L198.30,98.36 L198.80,98.95 L199.30,99.26 L199.80,99.26 L200.30,98.93 L200.80,98.29 L201.30,97.41 L201.80,96.38 L202.30,95.29 L202.80,94.20 L203.30,93.13 L203.80,92.13 L204.30,91.25 L204.80,90.55 L205.30,90.05 L205.80,89.81 L206.30,89.89 L206.80,90.36 L207.30,91.23 L207.80,92.40 L208.30,93.77 L208.80,95.26 L209.30,96.80 L209.80,98.34 L210.30,99.81 L210.80,101.14 L211.30,102.28 L211.80,103.21 L212.30,103.88 L212.80,104.27 L213.30,104.38 L213.80,104.25 L214.30,103.96 L214.80,103.56 L215.30,103.10 L215.80,102.64 L216.30,102.17 L216.80,101.71 L217.30,101.19 L217.80,100.57 L218.30,99.79 L218.80,98.79 L219.30,97.53 L219.80,96.01 L220.30,94.21 L220.80,92.15 L221.30,89.85 L221.80,87.37 L222.30,84.79 L222.80,82.22 L223.30,79.70 L223.80,77.27 L224.30,74.90 L224.80,72.58 L225.30,70.29 L225.80,68.02 L226.30,65.76 L226.80,63.53 L227.30,61.32 L227.80,59.15 L228.30,57.03 L228.80,54.96 L229.30,52.96 L229.80,51.03 L230.30,49.19 L230.80,47.46 L231.30,45.88 L231.80,44.44 L232.30,43.16 L232.80,42.02 L233.30,41.06 L233.80,40.28 L234.30,39.69 L234.80,39.27 L235.30,38.99 L235.80,38.84 L236.30,38.81 L236.80,38.91 L237.30,39.17 L237.80,39.59 L238.30,40.21 L238.80,41.08 L239.30,42.26 L239.80,43.77 L240.30,45.61 L240.80,47.77 L241.30,50.26 L241.80,53.05 L242.30,56.06 L242.80,59.15 L243.30,62.17 L243.80,65.05 L244.30,67.74 L244.80,70.20 L245.30,72.38 L245.80,74.23 L246.30,75.75 L246.80,76.92 L247.30,77.73 L247.80,78.14 L248.30,78.19 L248.80,77.94 L249.30,77.46 L249.80,76.86 L250.30,76.19 L250.80,75.51 L251.30,74.86 L251.80,74.30 L252.30,73.89 L252.80,73.68 L253.30,73.73 L253.80,74.03 L254.30,74.56 L254.80,75.23 L255.30,75.96 L255.80,76.67 L256.30,77.32 L256.80,77.90 L257.30,78.40 L257.80,78.79 L258.30,79.06 L258.80,79.19 L259.30,79.17 L259.80,79.02 L260.30,78.76 L260.80,78.43 L261.30,78.05 L261.80,77.67 L262.30,77.30 L262.80,76.95 L263.30,76.66 L263.80,76.44 L264.30,76.32 L264.80,76.32 L265.30,76.43 L265.80,76.62 L266.30,76.86 L266.80,77.09 L267.30,77.27 L267.80,77.33 L268.30,77.21 L268.80,76.82 L269.30,76.11 L269.80,74.98 L270.30,73.34 L270.80,71.16 L271.30,68.52 L271.80,65.65 L272.30,62.80 L272.80,60.14 L273.30,57.78 L273.80,55.77 L274.30,54.16 L274.80,52.97 L275.30,52.20 L275.80,51.88 L276.30,52.04 L276.80,52.75 L277.30,54.05 L277.80,55.97 L278.30,58.50 L278.80,61.50 L279.30,64.74 L279.80,68.04 L280.30,71.27 L280.80,74.33 L281.30,77.15 L281.80,79.69 L282.30,81.97 L282.80,83.89 L283.30,85.24" fill="none" stroke="#1a1a1a" stroke-width="0.95" stroke-linejoin="round"/>
<path d="M286.5,10.3 H296.6" stroke="#1a1a1a" stroke-width="0.8" opacity="0.7"/>
<text x="300.2" y="12.4" font-family="Liberation Serif" font-size="6.41" font-weight="normal" text-anchor="start" textLength="15.8" lengthAdjust="spacingAndGlyphs" stroke="#222" stroke-width="0.12">Total</text>
<path d="M286.5,16.1 H296.6" stroke="#a03030" stroke-width="0.8" opacity="0.7"/>
<text x="300.2" y="18.2" font-family="Liberation Serif" font-size="6.41" font-weight="normal" text-anchor="start" textLength="27.6" lengthAdjust="spacingAndGlyphs" stroke="#222" stroke-width="0.12">Acceptor</text>
<path d="M286.5,21.9 H296.6" stroke="#2828a4" stroke-width="0.8" opacity="0.7"/>
<text x="300.2" y="24.0" font-family="Liberation Serif" font-size="6.41" font-weight="normal" text-anchor="start" textLength="17.6" lengthAdjust="spacingAndGlyphs" stroke="#222" stroke-width="0.12">Donor</text>
<path d="M286.5,27.6 H296.6" stroke="#c032c0" stroke-width="0.8" opacity="0.7"/>
<text x="300.2" y="29.7" font-family="Liberation Serif" font-size="6.41" font-weight="normal" text-anchor="start" textLength="20.2" lengthAdjust="spacingAndGlyphs" stroke="#222" stroke-width="0.12">Bridge</text>
<text x="162.3" y="186.2" font-family="Liberation Sans" font-size="16.50" font-weight="bold" text-anchor="middle" style="fill:#000;stroke:#000;stroke-width:0.35px">A1</text>
</g>
<g id="A2">
<path d="M371.5,4.0 V155.7 M632.4,4.0 V155.7" fill="none" stroke="#6a6a6a" stroke-width="1.0"/>
<text x="360.1" y="154.4" font-family="Liberation Serif" font-size="7.07" font-weight="normal" text-anchor="middle" textLength="13.3" lengthAdjust="spacingAndGlyphs" >0.00</text>
<path d="M371.5,122.2 h-2.5" stroke="#444" stroke-width="0.9"/>
<text x="360.1" y="124.6" font-family="Liberation Serif" font-size="7.07" font-weight="normal" text-anchor="middle" textLength="13.3" lengthAdjust="spacingAndGlyphs" >0.50</text>
<path d="M371.5,92.5 h-2.5" stroke="#444" stroke-width="0.9"/>
<text x="360.1" y="94.9" font-family="Liberation Serif" font-size="7.07" font-weight="normal" text-anchor="middle" textLength="12.2" lengthAdjust="spacingAndGlyphs" >1.00</text>
<path d="M371.5,62.8 h-2.5" stroke="#444" stroke-width="0.9"/>
<text x="360.1" y="65.1" font-family="Liberation Serif" font-size="7.07" font-weight="normal" text-anchor="middle" textLength="12.2" lengthAdjust="spacingAndGlyphs" >1.50</text>
<path d="M371.5,33.0 h-2.5" stroke="#444" stroke-width="0.9"/>
<text x="360.1" y="35.4" font-family="Liberation Serif" font-size="7.07" font-weight="normal" text-anchor="middle" textLength="13.3" lengthAdjust="spacingAndGlyphs" >2.00</text>
<text x="360.1" y="5.6" font-family="Liberation Serif" font-size="7.07" font-weight="normal" text-anchor="middle" textLength="13.3" lengthAdjust="spacingAndGlyphs" >2.50</text>
<path d="M371.5,152.0 v3.7" stroke="#555" stroke-width="0.9"/>
<text x="371.8" y="162.2" font-family="Liberation Serif" font-size="7.07" font-weight="normal" text-anchor="middle" textLength="21.9" lengthAdjust="spacingAndGlyphs" >−25.00</text>
<path d="M423.7,152.0 v3.7" stroke="#555" stroke-width="0.9"/>
<text x="424.0" y="162.2" font-family="Liberation Serif" font-size="7.07" font-weight="normal" text-anchor="middle" textLength="20.9" lengthAdjust="spacingAndGlyphs" >−15.00</text>
<path d="M475.9,152.0 v3.7" stroke="#555" stroke-width="0.9"/>
<text x="476.2" y="162.2" font-family="Liberation Serif" font-size="7.07" font-weight="normal" text-anchor="middle" textLength="17.5" lengthAdjust="spacingAndGlyphs" >−5.00</text>
<path d="M528.0,152.0 v3.7" stroke="#555" stroke-width="0.9"/>
<text x="528.0" y="162.2" font-family="Liberation Serif" font-size="7.07" font-weight="normal" text-anchor="middle" textLength="13.3" lengthAdjust="spacingAndGlyphs" >5.00</text>
<path d="M580.2,152.0 v3.7" stroke="#555" stroke-width="0.9"/>
<text x="580.2" y="162.2" font-family="Liberation Serif" font-size="7.07" font-weight="normal" text-anchor="middle" textLength="16.5" lengthAdjust="spacingAndGlyphs" >15.00</text>
<path d="M632.4,152.0 v3.7" stroke="#555" stroke-width="0.9"/>
<text x="632.4" y="162.2" font-family="Liberation Serif" font-size="7.07" font-weight="normal" text-anchor="middle" textLength="17.5" lengthAdjust="spacingAndGlyphs" >25.00</text>
<text x="501.9" y="169.2" font-family="Liberation Serif" font-size="6.96" font-weight="normal" text-anchor="middle" textLength="37.2" lengthAdjust="spacingAndGlyphs" >Energy (eV)</text>
<text x="349.8" y="78.1" font-family="Liberation Serif" font-size="6.96" font-weight="normal" text-anchor="middle" textLength="57.8" lengthAdjust="spacingAndGlyphs" transform="rotate(-90 349.8 78.1)">Density−of−states</text>
<path d="M368.8,152.5 H632.9" stroke="#666" stroke-width="1"/>
<path d="M372.4,152.3 v-1.6 M373.5,152.3 v-1.0 M383.6,152.3 v-1.5 M387.0,152.3 v-1.6 M405.1,152.3 v-1.7 M446.5,152.3 v-1.4 M464.0,152.3 v-1.2 M474.6,152.3 v-1.8 M500.9,152.3 v-1.0 M517.9,152.3 v-1.6 M520.1,152.3 v-1.6 M549.2,152.3 v-1.1 M569.9,152.3 v-1.4 M584.3,152.3 v-1.0 M592.9,152.3 v-1.7 M598.9,152.3 v-1.8" stroke="#9a9ae8" stroke-width="0.9" opacity="0.85" fill="none"/>
<path d="M377.6,152.3 v-1.6 M386.0,152.3 v-1.8 M398.7,152.3 v-1.3 M403.1,152.3 v-1.6 M406.4,152.3 v-1.6 M415.5,152.3 v-1.7 M417.9,152.3 v-1.3 M419.7,152.3 v-1.5 M421.7,152.3 v-1.4 M425.0,152.3 v-1.3 M428.9,152.3 v-1.2 M435.0,152.3 v-1.4 M437.4,152.3 v-1.6 M438.7,152.3 v-1.3 M439.5,152.3 v-1.5 M440.8,152.3 v-1.6 M443.1,152.3 v-1.1 M458.4,152.3 v-1.5 M463.2,152.3 v-1.6 M465.0,152.3 v-1.7 M467.8,152.3 v-1.0 M471.9,152.3 v-1.1 M472.9,152.3 v-1.8 M476.3,152.3 v-1.7 M478.5,152.3 v-1.6 M480.2,152.3 v-1.0 M483.2,152.3 v-1.2 M486.5,152.3 v-1.1 M489.5,152.3 v-1.2 M494.6,152.3 v-1.8 M497.8,152.3 v-1.1 M498.7,152.3 v-1.5 M499.8,152.3 v-1.0 M503.9,152.3 v-1.4 M506.3,152.3 v-1.6 M509.1,152.3 v-1.4 M509.9,152.3 v-1.5 M511.6,152.3 v-1.7 M516.2,152.3 v-1.6 M518.8,152.3 v-1.0 M523.1,152.3 v-1.5 M523.9,152.3 v-1.5 M529.7,152.3 v-1.0 M533.1,152.3 v-1.4 M535.3,152.3 v-1.4 M538.6,152.3 v-1.0 M541.0,152.3 v-1.6 M542.3,152.3 v-1.7 M544.4,152.3 v-1.4 M553.0,152.3 v-1.2 M554.0,152.3 v-1.7 M555.0,152.3 v-1.6 M555.9,152.3 v-1.5 M558.3,152.3 v-1.5 M559.2,152.3 v-1.1 M561.6,152.3 v-1.7 M566.9,152.3 v-1.5 M567.7,152.3 v-1.0 M573.1,152.3 v-1.7 M575.5,152.3 v-1.2 M577.3,152.3 v-1.1 M579.0,152.3 v-1.4 M581.0,152.3 v-1.6 M582.3,152.3 v-1.1 M586.0,152.3 v-1.8 M587.1,152.3 v-1.0 M588.8,152.3 v-1.7 M589.8,152.3 v-1.7 M590.8,152.3 v-1.6 M595.3,152.3 v-1.8 M596.3,152.3 v-1.8 M601.3,152.3 v-1.2 M614.1,152.3 v-1.2 M615.0,152.3 v-1.2 M617.7,152.3 v-1.7 M622.8,152.3 v-1.7 M629.1,152.3 v-1.3 M630.1,152.3 v-1.6" stroke="#2424a8" stroke-width="0.9" opacity="0.85" fill="none"/>
<path d="M401.4,152.3 v-1.0 M404.2,152.3 v-1.1 M410.0,152.3 v-1.2 M420.8,152.3 v-1.6 M423.7,152.3 v-1.2 M431.3,152.3 v-1.3 M447.3,152.3 v-1.0 M461.9,152.3 v-1.3 M465.8,152.3 v-1.2 M484.1,152.3 v-1.7 M490.4,152.3 v-1.0 M492.8,152.3 v-1.1 M502.6,152.3 v-1.5 M530.5,152.3 v-1.2 M537.7,152.3 v-1.2 M543.1,152.3 v-1.1 M546.8,152.3 v-1.5 M562.4,152.3 v-1.6 M598.0,152.3 v-1.3 M603.7,152.3 v-1.2 M607.1,152.3 v-1.2 M610.8,152.3 v-1.4 M618.7,152.3 v-1.2 M628.1,152.3 v-1.5" stroke="#a03030" stroke-width="0.9" opacity="0.85" fill="none"/>
<path d="M374.4,152.3 v-1.3 M376.8,152.3 v-1.2 M380.6,152.3 v-1.1 M381.9,152.3 v-1.6 M388.1,152.3 v-1.6 M389.8,152.3 v-1.2 M390.6,152.3 v-1.1 M399.7,152.3 v-1.0 M407.2,152.3 v-1.4 M408.9,152.3 v-1.2 M412.8,152.3 v-1.8 M418.9,152.3 v-1.3 M422.7,152.3 v-1.3 M426.1,152.3 v-1.2 M427.2,152.3 v-1.4 M433.3,152.3 v-1.2 M444.1,152.3 v-1.3 M449.2,152.3 v-1.1 M450.9,152.3 v-1.6 M451.7,152.3 v-1.3 M452.5,152.3 v-1.5 M453.4,152.3 v-1.7 M454.3,152.3 v-1.7 M470.2,152.3 v-1.2 M477.2,152.3 v-1.0 M487.8,152.3 v-1.1 M496.8,152.3 v-1.6 M515.1,152.3 v-1.2 M532.2,152.3 v-1.2 M569.0,152.3 v-1.6 M572.3,152.3 v-1.6 M580.1,152.3 v-1.6 M583.3,152.3 v-1.7 M591.8,152.3 v-1.3 M597.2,152.3 v-1.4 M605.0,152.3 v-1.2 M616.0,152.3 v-1.7 M616.9,152.3 v-1.1 M621.7,152.3 v-1.0 M623.7,152.3 v-1.2 M627.1,152.3 v-1.7" stroke="#c032c0" stroke-width="0.9" opacity="0.85" fill="none"/>
<path d="M379.3,152.3 v-1.7 M392.3,152.3 v-1.4 M394.7,152.3 v-1.4 M396.4,152.3 v-1.7 M397.7,152.3 v-1.0 M411.7,152.3 v-1.0 M413.6,152.3 v-1.2 M414.4,152.3 v-1.5 M432.2,152.3 v-1.7 M441.8,152.3 v-1.4 M448.3,152.3 v-1.5 M456.7,152.3 v-1.3 M460.8,152.3 v-1.7 M466.8,152.3 v-1.3 M481.5,152.3 v-1.1 M493.8,152.3 v-1.4 M495.9,152.3 v-1.1 M508.0,152.3 v-1.2 M510.7,152.3 v-1.5 M514.0,152.3 v-1.8 M521.8,152.3 v-1.2 M524.8,152.3 v-1.0 M526.5,152.3 v-1.3 M528.9,152.3 v-1.2 M534.0,152.3 v-1.3 M550.9,152.3 v-1.1 M552.0,152.3 v-1.7 M563.5,152.3 v-1.7 M564.5,152.3 v-1.4 M576.4,152.3 v-1.6 M606.3,152.3 v-1.6 M608.4,152.3 v-1.4 M611.7,152.3 v-1.2 M619.8,152.3 v-1.1 M620.9,152.3 v-1.5 M625.4,152.3 v-1.0 M631.2,152.3 v-1.1" stroke="#202060" stroke-width="0.9" opacity="0.85" fill="none"/>
<path d="M371.50,150.00 L372.00,149.85 L372.50,149.66 L373.00,149.47 L373.50,149.32 L374.00,149.22 L374.50,149.17 L375.00,149.18 L375.50,149.24 L376.00,149.37 L376.50,149.53 L377.00,149.71 L377.50,149.91 L378.00,150.11 L378.50,150.30 L379.00,150.47 L379.50,150.61 L380.00,150.74 L380.50,150.84 L381.00,150.92 L381.50,150.98 L382.00,151.02 L382.50,151.04 L383.00,151.03 L383.50,151.00 L384.00,150.95 L384.50,150.86 L385.00,150.73 L385.50,150.57 L386.00,150.38 L386.50,150.16 L387.00,149.92 L387.50,149.66 L388.00,149.39 L388.50,149.10 L389.00,148.81 L389.50,148.50 L390.00,148.20 L390.50,147.91 L391.00,147.66 L391.50,147.47 L392.00,147.36 L392.50,147.34 L393.00,147.43 L393.50,147.60 L394.00,147.86 L394.50,148.17 L395.00,148.52 L395.50,148.88 L396.00,149.23 L396.50,149.57 L397.00,149.88 L397.50,150.17 L398.00,150.44 L398.50,150.67 L399.00,150.85 L399.50,150.98 L400.00,151.05 L400.50,151.07 L401.00,151.03 L401.50,150.94 L402.00,150.81 L402.50,150.65 L403.00,150.46 L403.50,150.24 L404.00,149.99 L404.50,149.72 L405.00,149.42 L405.50,149.11 L406.00,148.81 L406.50,148.52 L407.00,148.26 L407.50,148.04 L408.00,147.85 L408.50,147.70 L409.00,147.58 L409.50,147.49 L410.00,147.43 L410.50,147.39 L411.00,147.39 L411.50,147.41 L412.00,147.46 L412.50,147.51 L413.00,147.57 L413.50,147.63 L414.00,147.67 L414.50,147.68 L415.00,147.66 L415.50,147.60 L416.00,147.48 L416.50,147.30 L417.00,147.06 L417.50,146.79 L418.00,146.50 L418.50,146.22 L419.00,145.95 L419.50,145.72 L420.00,145.53 L420.50,145.39 L421.00,145.30 L421.50,145.23 L422.00,145.18 L422.50,145.16 L423.00,145.15 L423.50,145.14 L424.00,145.13 L424.50,145.10 L425.00,145.01 L425.50,144.84 L426.00,144.54 L426.50,144.12 L427.00,143.59 L427.50,142.97 L428.00,142.33 L428.50,141.68 L429.00,141.05 L429.50,140.44 L430.00,139.87 L430.50,139.35 L431.00,138.90 L431.50,138.55 L432.00,138.30 L432.50,138.14 L433.00,138.08 L433.50,138.13 L434.00,138.31 L434.50,138.61 L435.00,139.03 L435.50,139.52 L436.00,140.05 L436.50,140.61 L437.00,141.18 L437.50,141.74 L438.00,142.26 L438.50,142.72 L439.00,143.08 L439.50,143.34 L440.00,143.51 L440.50,143.61 L441.00,143.66 L441.50,143.68 L442.00,143.67 L442.50,143.65 L443.00,143.62 L443.50,143.61 L444.00,143.60 L444.50,143.61 L445.00,143.64 L445.50,143.69 L446.00,143.78 L446.50,143.91 L447.00,144.09 L447.50,144.29 L448.00,144.53 L448.50,144.79 L449.00,145.07 L449.50,145.37 L450.00,145.70 L450.50,146.04 L451.00,146.41 L451.50,146.78 L452.00,147.16 L452.50,147.53 L453.00,147.89 L453.50,148.24 L454.00,148.57 L454.50,148.89 L455.00,149.19 L455.50,149.47 L456.00,149.70 L456.50,149.89 L457.00,150.03 L457.50,150.11 L458.00,150.14 L458.50,150.13 L459.00,150.07 L459.50,149.97 L460.00,149.82 L460.50,149.62 L461.00,149.37 L461.50,149.07 L462.00,148.76 L462.50,148.45 L463.00,148.18 L463.50,147.95 L464.00,147.79 L464.50,147.72 L465.00,147.77 L465.50,147.94 L466.00,148.20 L466.50,148.53 L467.00,148.90 L467.50,149.27 L468.00,149.63 L468.50,149.97 L469.00,150.29 L469.50,150.59 L470.00,150.87 L470.50,151.11 L471.00,151.33 L471.50,151.52 L472.00,151.67 L472.50,151.80 L473.00,151.90 L473.50,151.90 L474.00,151.90 L474.50,151.90 L475.00,151.90 L475.50,151.90 L476.00,151.90 L476.50,151.90 L477.00,151.90 L477.50,151.90 L478.00,151.90 L478.50,151.90 L479.00,151.90 L479.50,151.90 L480.00,151.90 L480.50,151.90 L481.00,151.90 L481.50,151.90 L482.00,151.90 L482.50,151.90 L483.00,151.90 L483.50,151.90 L484.00,151.90 L484.50,151.90 L485.00,151.86 L485.50,151.82 L486.00,151.79 L486.50,151.76 L487.00,151.72 L487.50,151.69 L488.00,151.66 L488.50,151.62 L489.00,151.58 L489.50,151.54 L490.00,151.48 L490.50,151.41 L491.00,151.32 L491.50,151.22 L492.00,151.10 L492.50,150.95 L493.00,150.78 L493.50,150.58 L494.00,150.35 L494.50,150.08 L495.00,149.78 L495.50,149.48 L496.00,149.17 L496.50,148.88 L497.00,148.60 L497.50,148.35 L498.00,148.14 L498.50,148.00 L499.00,147.94 L499.50,148.00 L500.00,148.19 L500.50,148.50 L501.00,148.89 L501.50,149.32 L502.00,149.73 L502.50,150.10 L503.00,150.41 L503.50,150.65 L504.00,150.83 L504.50,150.94 L505.00,150.97 L505.50,150.91 L506.00,150.76 L506.50,150.50 L507.00,150.17 L507.50,149.77 L508.00,149.34 L508.50,148.91 L509.00,148.49 L509.50,148.09 L510.00,147.72 L510.50,147.39 L511.00,147.09 L511.50,146.83 L512.00,146.63 L512.50,146.50 L513.00,146.44 L513.50,146.44 L514.00,146.50 L514.50,146.59 L515.00,146.70 L515.50,146.81 L516.00,146.90 L516.50,146.96 L517.00,146.97 L517.50,146.93 L518.00,146.85 L518.50,146.73 L519.00,146.57 L519.50,146.39 L520.00,146.20 L520.50,146.00 L521.00,145.79 L521.50,145.59 L522.00,145.39 L522.50,145.21 L523.00,145.07 L523.50,144.98 L524.00,144.95 L524.50,144.99 L525.00,145.11 L525.50,145.28 L526.00,145.48 L526.50,145.68 L527.00,145.87 L527.50,146.02 L528.00,146.11 L528.50,146.14 L529.00,146.13 L529.50,146.07 L530.00,145.98 L530.50,145.88 L531.00,145.76 L531.50,145.64 L532.00,145.53 L532.50,145.44 L533.00,145.38 L533.50,145.38 L534.00,145.44 L534.50,145.60 L535.00,145.84 L535.50,146.17 L536.00,146.55 L536.50,146.95 L537.00,147.36 L537.50,147.75 L538.00,148.10 L538.50,148.41 L539.00,148.68 L539.50,148.92 L540.00,149.12 L540.50,149.28 L541.00,149.39 L541.50,149.45 L542.00,149.46 L542.50,149.40 L543.00,149.30 L543.50,149.14 L544.00,148.94 L544.50,148.71 L545.00,148.46 L545.50,148.20 L546.00,147.93 L546.50,147.65 L547.00,147.38 L547.50,147.12 L548.00,146.88 L548.50,146.68 L549.00,146.53 L549.50,146.45 L550.00,146.43 L550.50,146.47 L551.00,146.56 L551.50,146.68 L552.00,146.83 L552.50,146.98 L553.00,147.13 L553.50,147.26 L554.00,147.37 L554.50,147.45 L555.00,147.51 L555.50,147.55 L556.00,147.57 L556.50,147.58 L557.00,147.59 L557.50,147.60 L558.00,147.61 L558.50,147.62 L559.00,147.64 L559.50,147.67 L560.00,147.71 L560.50,147.75 L561.00,147.78 L561.50,147.80 L562.00,147.81 L562.50,147.80 L563.00,147.75 L563.50,147.67 L564.00,147.54 L564.50,147.35 L565.00,147.09 L565.50,146.77 L566.00,146.41 L566.50,146.03 L567.00,145.62 L567.50,145.22 L568.00,144.82 L568.50,144.42 L569.00,144.02 L569.50,143.63 L570.00,143.25 L570.50,142.89 L571.00,142.55 L571.50,142.25 L572.00,141.98 L572.50,141.74 L573.00,141.54 L573.50,141.36 L574.00,141.20 L574.50,141.05 L575.00,140.92 L575.50,140.78 L576.00,140.65 L576.50,140.51 L577.00,140.36 L577.50,140.20 L578.00,140.04 L578.50,139.89 L579.00,139.76 L579.50,139.66 L580.00,139.61 L580.50,139.62 L581.00,139.70 L581.50,139.85 L582.00,140.08 L582.50,140.38 L583.00,140.72 L583.50,141.12 L584.00,141.56 L584.50,142.03 L585.00,142.53 L585.50,143.02 L586.00,143.46 L586.50,143.83 L587.00,144.08 L587.50,144.21 L588.00,144.23 L588.50,144.17 L589.00,144.05 L589.50,143.90 L590.00,143.75 L590.50,143.65 L591.00,143.60 L591.50,143.63 L592.00,143.74 L592.50,143.92 L593.00,144.15 L593.50,144.42 L594.00,144.70 L594.50,144.98 L595.00,145.25 L595.50,145.51 L596.00,145.75 L596.50,145.98 L597.00,146.20 L597.50,146.41 L598.00,146.61 L598.50,146.79 L599.00,146.96 L599.50,147.12 L600.00,147.27 L600.50,147.41 L601.00,147.53 L601.50,147.62 L602.00,147.67 L602.50,147.69 L603.00,147.66 L603.50,147.56 L604.00,147.40 L604.50,147.15 L605.00,146.84 L605.50,146.48 L606.00,146.10 L606.50,145.70 L607.00,145.30 L607.50,144.92 L608.00,144.55 L608.50,144.20 L609.00,143.89 L609.50,143.64 L610.00,143.46 L610.50,143.37 L611.00,143.38 L611.50,143.49 L612.00,143.69 L612.50,143.97 L613.00,144.32 L613.50,144.72 L614.00,145.16 L614.50,145.65 L615.00,146.17 L615.50,146.68 L616.00,147.17 L616.50,147.59 L617.00,147.91 L617.50,148.09 L618.00,148.12 L618.50,148.00 L619.00,147.75 L619.50,147.41 L620.00,147.01 L620.50,146.58 L621.00,146.16 L621.50,145.77 L622.00,145.42 L622.50,145.11 L623.00,144.84 L623.50,144.61 L624.00,144.43 L624.50,144.29 L625.00,144.20 L625.50,144.16 L626.00,144.15 L626.50,144.17 L627.00,144.22 L627.50,144.28 L628.00,144.36 L628.50,144.45 L629.00,144.55 L629.50,144.67 L630.00,144.80 L630.50,144.93 L631.00,145.08 L631.50,145.21 L632.00,145.32" fill="none" stroke="#c032c0" stroke-width="0.95" stroke-linejoin="round"/>
<path d="M371.50,132.20 L372.00,132.35 L372.50,132.62 L373.00,133.05 L373.50,133.66 L374.00,134.48 L374.50,135.46 L375.00,136.50 L375.50,137.51 L376.00,138.39 L376.50,139.12 L377.00,139.72 L377.50,140.19 L378.00,140.55 L378.50,140.82 L379.00,141.02 L379.50,141.16 L380.00,141.26 L380.50,141.34 L381.00,141.41 L381.50,141.45 L382.00,141.47 L382.50,141.48 L383.00,141.47 L383.50,141.45 L384.00,141.41 L384.50,141.36 L385.00,141.30 L385.50,141.23 L386.00,141.16 L386.50,141.08 L387.00,141.01 L387.50,140.94 L388.00,140.88 L388.50,140.83 L389.00,140.81 L389.50,140.80 L390.00,140.82 L390.50,140.88 L391.00,140.98 L391.50,141.14 L392.00,141.36 L392.50,141.64 L393.00,141.99 L393.50,142.41 L394.00,142.88 L394.50,143.37 L395.00,143.85 L395.50,144.29 L396.00,144.67 L396.50,144.99 L397.00,145.24 L397.50,145.39 L398.00,145.44 L398.50,145.37 L399.00,145.17 L399.50,144.87 L400.00,144.48 L400.50,144.05 L401.00,143.59 L401.50,143.12 L402.00,142.65 L402.50,142.23 L403.00,141.87 L403.50,141.61 L404.00,141.48 L404.50,141.45 L405.00,141.49 L405.50,141.57 L406.00,141.66 L406.50,141.71 L407.00,141.69 L407.50,141.56 L408.00,141.29 L408.50,140.84 L409.00,140.25 L409.50,139.54 L410.00,138.74 L410.50,137.90 L411.00,137.02 L411.50,136.14 L412.00,135.29 L412.50,134.54 L413.00,133.97 L413.50,133.64 L414.00,133.58 L414.50,133.79 L415.00,134.22 L415.50,134.83 L416.00,135.56 L416.50,136.37 L417.00,137.24 L417.50,138.14 L418.00,139.01 L418.50,139.82 L419.00,140.52 L419.50,141.11 L420.00,141.56 L420.50,141.82 L421.00,141.86 L421.50,141.68 L422.00,141.32 L422.50,140.83 L423.00,140.30 L423.50,139.77 L424.00,139.30 L424.50,138.90 L425.00,138.54 L425.50,138.21 L426.00,137.89 L426.50,137.54 L427.00,137.16 L427.50,136.72 L428.00,136.20 L428.50,135.60 L429.00,134.89 L429.50,134.08 L430.00,133.16 L430.50,132.12 L431.00,130.96 L431.50,129.67 L432.00,128.28 L432.50,126.83 L433.00,125.35 L433.50,123.89 L434.00,122.45 L434.50,121.06 L435.00,119.76 L435.50,118.59 L436.00,117.60 L436.50,116.80 L437.00,116.19 L437.50,115.77 L438.00,115.55 L438.50,115.55 L439.00,115.76 L439.50,116.15 L440.00,116.68 L440.50,117.30 L441.00,117.95 L441.50,118.56 L442.00,119.00 L442.50,119.17 L443.00,118.98 L443.50,118.42 L444.00,117.56 L444.50,116.47 L445.00,115.24 L445.50,113.93 L446.00,112.59 L446.50,111.26 L447.00,110.00 L447.50,108.87 L448.00,107.94 L448.50,107.23 L449.00,106.75 L449.50,106.54 L450.00,106.66 L450.50,107.12 L451.00,107.91 L451.50,109.00 L452.00,110.37 L452.50,112.00 L453.00,113.86 L453.50,115.87 L454.00,117.97 L454.50,120.12 L455.00,122.27 L455.50,124.34 L456.00,126.23 L456.50,127.86 L457.00,129.19 L457.50,130.24 L458.00,131.00 L458.50,131.48 L459.00,131.65 L459.50,131.54 L460.00,131.21 L460.50,130.74 L461.00,130.22 L461.50,129.72 L462.00,129.29 L462.50,128.99 L463.00,128.89 L463.50,129.06 L464.00,129.56 L464.50,130.39 L465.00,131.51 L465.50,132.89 L466.00,134.48 L466.50,136.22 L467.00,138.02 L467.50,139.78 L468.00,141.42 L468.50,142.93 L469.00,144.30 L469.50,145.53 L470.00,146.62 L470.50,147.55 L471.00,148.33 L471.50,148.99 L472.00,149.55 L472.50,150.02 L473.00,150.42 L473.50,150.76 L474.00,151.04 L474.50,151.29 L475.00,151.51 L475.50,151.71 L476.00,151.89 L476.50,151.90 L477.00,151.90 L477.50,151.90 L478.00,151.90 L478.50,151.90 L479.00,151.90 L479.50,151.90 L480.00,151.60 L480.50,151.16 L481.00,150.59 L481.50,149.92 L482.00,149.16 L482.50,148.34 L483.00,147.48 L483.50,146.59 L484.00,145.68 L484.50,144.76 L485.00,143.90 L485.50,143.12 L486.00,142.47 L486.50,141.96 L487.00,141.58 L487.50,141.36 L488.00,141.31 L488.50,141.45 L489.00,141.73 L489.50,142.13 L490.00,142.59 L490.50,143.05 L491.00,143.48 L491.50,143.86 L492.00,144.17 L492.50,144.36 L493.00,144.41 L493.50,144.29 L494.00,143.97 L494.50,143.48 L495.00,142.85 L495.50,142.12 L496.00,141.31 L496.50,140.44 L497.00,139.54 L497.50,138.60 L498.00,137.67 L498.50,136.76 L499.00,135.92 L499.50,135.17 L500.00,134.52 L500.50,133.99 L501.00,133.58 L501.50,133.31 L502.00,133.14 L502.50,133.02 L503.00,132.90 L503.50,132.74 L504.00,132.48 L504.50,132.11 L505.00,131.65 L505.50,131.11 L506.00,130.55 L506.50,129.98 L507.00,129.45 L507.50,128.99 L508.00,128.69 L508.50,128.62 L509.00,128.86 L509.50,129.43 L510.00,130.27 L510.50,131.31 L511.00,132.46 L511.50,133.66 L512.00,134.88 L512.50,136.05 L513.00,137.11 L513.50,137.99 L514.00,138.66 L514.50,139.12 L515.00,139.36 L515.50,139.37 L516.00,139.15 L516.50,138.69 L517.00,138.04 L517.50,137.23 L518.00,136.29 L518.50,135.22 L519.00,134.06 L519.50,132.83 L520.00,131.58 L520.50,130.36 L521.00,129.21 L521.50,128.14 L522.00,127.16 L522.50,126.27 L523.00,125.49 L523.50,124.82 L524.00,124.28 L524.50,123.87 L525.00,123.55 L525.50,123.31 L526.00,123.13 L526.50,122.98 L527.00,122.87 L527.50,122.77 L528.00,122.68 L528.50,122.61 L529.00,122.58 L529.50,122.59 L530.00,122.68 L530.50,122.85 L531.00,123.11 L531.50,123.45 L532.00,123.87 L532.50,124.35 L533.00,124.89 L533.50,125.50 L534.00,126.17 L534.50,126.89 L535.00,127.62 L535.50,128.35 L536.00,129.07 L536.50,129.75 L537.00,130.36 L537.50,130.87 L538.00,131.20 L538.50,131.32 L539.00,131.22 L539.50,130.93 L540.00,130.51 L540.50,130.02 L541.00,129.54 L541.50,129.11 L542.00,128.76 L542.50,128.51 L543.00,128.38 L543.50,128.38 L544.00,128.53 L544.50,128.87 L545.00,129.38 L545.50,130.03 L546.00,130.75 L546.50,131.50 L547.00,132.25 L547.50,132.98 L548.00,133.66 L548.50,134.26 L549.00,134.74 L549.50,135.06 L550.00,135.24 L550.50,135.30 L551.00,135.28 L551.50,135.20 L552.00,135.10 L552.50,134.99 L553.00,134.92 L553.50,134.89 L554.00,134.91 L554.50,134.99 L555.00,135.10 L555.50,135.23 L556.00,135.36 L556.50,135.47 L557.00,135.55 L557.50,135.59 L558.00,135.57 L558.50,135.50 L559.00,135.37 L559.50,135.17 L560.00,134.89 L560.50,134.52 L561.00,134.07 L561.50,133.56 L562.00,133.00 L562.50,132.41 L563.00,131.80 L563.50,131.18 L564.00,130.54 L564.50,129.89 L565.00,129.22 L565.50,128.53 L566.00,127.80 L566.50,127.04 L567.00,126.25 L567.50,125.41 L568.00,124.53 L568.50,123.60 L569.00,122.63 L569.50,121.62 L570.00,120.60 L570.50,119.56 L571.00,118.52 L571.50,117.50 L572.00,116.48 L572.50,115.49 L573.00,114.51 L573.50,113.58 L574.00,112.72 L574.50,111.95 L575.00,111.30 L575.50,110.79 L576.00,110.41 L576.50,110.13 L577.00,109.92 L577.50,109.76 L578.00,109.61 L578.50,109.45 L579.00,109.24 L579.50,108.96 L580.00,108.62 L580.50,108.22 L581.00,107.79 L581.50,107.36 L582.00,106.98 L582.50,106.65 L583.00,106.40 L583.50,106.22 L584.00,106.14 L584.50,106.16 L585.00,106.32 L585.50,106.63 L586.00,107.10 L586.50,107.73 L587.00,108.53 L587.50,109.47 L588.00,110.50 L588.50,111.52 L589.00,112.43 L589.50,113.18 L590.00,113.77 L590.50,114.20 L591.00,114.48 L591.50,114.64 L592.00,114.69 L592.50,114.67 L593.00,114.60 L593.50,114.51 L594.00,114.45 L594.50,114.42 L595.00,114.46 L595.50,114.58 L596.00,114.77 L596.50,115.04 L597.00,115.35 L597.50,115.71 L598.00,116.10 L598.50,116.52 L599.00,116.98 L599.50,117.46 L600.00,117.97 L600.50,118.50 L601.00,119.04 L601.50,119.60 L602.00,120.16 L602.50,120.73 L603.00,121.27 L603.50,121.74 L604.00,122.12 L604.50,122.35 L605.00,122.42 L605.50,122.32 L606.00,122.05 L606.50,121.66 L607.00,121.19 L607.50,120.68 L608.00,120.16 L608.50,119.68 L609.00,119.23 L609.50,118.82 L610.00,118.45 L610.50,118.12 L611.00,117.82 L611.50,117.55 L612.00,117.31 L612.50,117.10 L613.00,116.92 L613.50,116.78 L614.00,116.69 L614.50,116.66 L615.00,116.71 L615.50,116.83 L616.00,117.03 L616.50,117.28 L617.00,117.57 L617.50,117.89 L618.00,118.22 L618.50,118.57 L619.00,118.91 L619.50,119.26 L620.00,119.61 L620.50,119.95 L621.00,120.28 L621.50,120.59 L622.00,120.89 L622.50,121.16 L623.00,121.42 L623.50,121.66 L624.00,121.89 L624.50,122.11 L625.00,122.33 L625.50,122.54 L626.00,122.74 L626.50,122.95 L627.00,123.17 L627.50,123.38 L628.00,123.61 L628.50,123.83 L629.00,124.06 L629.50,124.29 L630.00,124.52 L630.50,124.76 L631.00,124.99 L631.50,125.21 L632.00,125.36" fill="none" stroke="#a03030" stroke-width="0.95" stroke-linejoin="round"/>
<path d="M371.50,140.27 L372.00,140.02 L372.50,139.69 L373.00,139.32 L373.50,138.95 L374.00,138.57 L374.50,138.18 L375.00,137.78 L375.50,137.38 L376.00,137.03 L376.50,136.75 L377.00,136.58 L377.50,136.54 L378.00,136.61 L378.50,136.77 L379.00,136.99 L379.50,137.23 L380.00,137.47 L380.50,137.68 L381.00,137.82 L381.50,137.87 L382.00,137.83 L382.50,137.70 L383.00,137.49 L383.50,137.22 L384.00,136.92 L384.50,136.61 L385.00,136.31 L385.50,136.03 L386.00,135.78 L386.50,135.57 L387.00,135.37 L387.50,135.14 L388.00,134.85 L388.50,134.46 L389.00,133.94 L389.50,133.24 L390.00,132.32 L390.50,131.19 L391.00,129.91 L391.50,128.57 L392.00,127.24 L392.50,125.97 L393.00,124.83 L393.50,123.91 L394.00,123.34 L394.50,123.19 L395.00,123.52 L395.50,124.28 L396.00,125.33 L396.50,126.54 L397.00,127.78 L397.50,128.98 L398.00,130.10 L398.50,131.10 L399.00,131.97 L399.50,132.67 L400.00,133.21 L400.50,133.64 L401.00,133.97 L401.50,134.26 L402.00,134.53 L402.50,134.81 L403.00,135.14 L403.50,135.52 L404.00,135.95 L404.50,136.41 L405.00,136.85 L405.50,137.22 L406.00,137.48 L406.50,137.59 L407.00,137.49 L407.50,137.16 L408.00,136.62 L408.50,135.91 L409.00,135.10 L409.50,134.25 L410.00,133.39 L410.50,132.57 L411.00,131.80 L411.50,131.10 L412.00,130.51 L412.50,130.07 L413.00,129.81 L413.50,129.72 L414.00,129.79 L414.50,129.97 L415.00,130.22 L415.50,130.49 L416.00,130.74 L416.50,130.93 L417.00,131.02 L417.50,130.97 L418.00,130.75 L418.50,130.34 L419.00,129.80 L419.50,129.18 L420.00,128.52 L420.50,127.87 L421.00,127.27 L421.50,126.72 L422.00,126.27 L422.50,125.95 L423.00,125.80 L423.50,125.82 L424.00,125.98 L424.50,126.24 L425.00,126.56 L425.50,126.88 L426.00,127.17 L426.50,127.37 L427.00,127.44 L427.50,127.32 L428.00,126.97 L428.50,126.35 L429.00,125.48 L429.50,124.38 L430.00,123.04 L430.50,121.47 L431.00,119.64 L431.50,117.59 L432.00,115.35 L432.50,112.94 L433.00,110.41 L433.50,107.82 L434.00,105.30 L434.50,102.97 L435.00,100.92 L435.50,99.17 L436.00,97.72 L436.50,96.53 L437.00,95.58 L437.50,94.85 L438.00,94.29 L438.50,93.86 L439.00,93.57 L439.50,93.40 L440.00,93.35 L440.50,93.38 L441.00,93.47 L441.50,93.55 L442.00,93.58 L442.50,93.53 L443.00,93.36 L443.50,93.07 L444.00,92.68 L444.50,92.20 L445.00,91.65 L445.50,91.06 L446.00,90.42 L446.50,89.76 L447.00,89.12 L447.50,88.55 L448.00,88.09 L448.50,87.76 L449.00,87.57 L449.50,87.57 L450.00,87.86 L450.50,88.57 L451.00,89.82 L451.50,91.74 L452.00,94.42 L452.50,97.84 L453.00,101.81 L453.50,106.02 L454.00,110.26 L454.50,114.35 L455.00,118.10 L455.50,121.37 L456.00,124.12 L456.50,126.35 L457.00,128.07 L457.50,129.32 L458.00,130.14 L458.50,130.50 L459.00,130.41 L459.50,129.87 L460.00,128.99 L460.50,127.89 L461.00,126.70 L461.50,125.53 L462.00,124.45 L462.50,123.52 L463.00,122.79 L463.50,122.34 L464.00,122.25 L464.50,122.57 L465.00,123.29 L465.50,124.37 L466.00,125.76 L466.50,127.40 L467.00,129.25 L467.50,131.18 L468.00,133.06 L468.50,134.81 L469.00,136.39 L469.50,137.80 L470.00,139.07 L470.50,140.22 L471.00,141.25 L471.50,142.19 L472.00,143.05 L472.50,143.85 L473.00,144.59 L473.50,145.29 L474.00,145.95 L474.50,146.59 L475.00,147.19 L475.50,147.78 L476.00,148.35 L476.50,148.91 L477.00,149.47 L477.50,150.01 L478.00,150.52 L478.50,150.98 L479.00,151.36 L479.50,151.66 L480.00,151.85 L480.50,151.90 L481.00,151.88 L481.50,151.75 L482.00,151.55 L482.50,151.28 L483.00,150.96 L483.50,150.62 L484.00,150.25 L484.50,149.88 L485.00,149.51 L485.50,149.13 L486.00,148.75 L486.50,148.36 L487.00,147.97 L487.50,147.55 L488.00,147.13 L488.50,146.69 L489.00,146.22 L489.50,145.74 L490.00,145.22 L490.50,144.67 L491.00,144.08 L491.50,143.43 L492.00,142.73 L492.50,141.96 L493.00,141.12 L493.50,140.19 L494.00,139.16 L494.50,138.04 L495.00,136.83 L495.50,135.55 L496.00,134.19 L496.50,132.76 L497.00,131.27 L497.50,129.75 L498.00,128.24 L498.50,126.80 L499.00,125.46 L499.50,124.22 L500.00,123.11 L500.50,122.15 L501.00,121.38 L501.50,120.84 L502.00,120.58 L502.50,120.62 L503.00,120.95 L503.50,121.54 L504.00,122.35 L504.50,123.34 L505.00,124.46 L505.50,125.59 L506.00,126.56 L506.50,127.21 L507.00,127.38 L507.50,127.03 L508.00,126.16 L508.50,124.81 L509.00,123.01 L509.50,120.76 L510.00,118.09 L510.50,115.11 L511.00,112.00 L511.50,108.95 L512.00,106.08 L512.50,103.46 L513.00,101.14 L513.50,99.17 L514.00,97.63 L514.50,96.51 L515.00,95.76 L515.50,95.28 L516.00,95.03 L516.50,94.95 L517.00,94.98 L517.50,95.06 L518.00,95.09 L518.50,95.01 L519.00,94.74 L519.50,94.25 L520.00,93.58 L520.50,92.76 L521.00,91.85 L521.50,90.87 L522.00,89.84 L522.50,88.82 L523.00,87.85 L523.50,86.99 L524.00,86.26 L524.50,85.69 L525.00,85.30 L525.50,85.17 L526.00,85.35 L526.50,85.91 L527.00,86.89 L527.50,88.29 L528.00,90.14 L528.50,92.47 L529.00,95.20 L529.50,98.19 L530.00,101.27 L530.50,104.30 L531.00,107.22 L531.50,109.95 L532.00,112.40 L532.50,114.48 L533.00,116.13 L533.50,117.36 L534.00,118.22 L534.50,118.70 L535.00,118.81 L535.50,118.54 L536.00,117.93 L536.50,117.00 L537.00,115.80 L537.50,114.34 L538.00,112.65 L538.50,110.74 L539.00,108.70 L539.50,106.66 L540.00,104.78 L540.50,103.14 L541.00,101.78 L541.50,100.72 L542.00,99.97 L542.50,99.58 L543.00,99.58 L543.50,99.95 L544.00,100.68 L544.50,101.71 L545.00,103.00 L545.50,104.51 L546.00,106.22 L546.50,108.02 L547.00,109.79 L547.50,111.38 L548.00,112.72 L548.50,113.79 L549.00,114.64 L549.50,115.28 L550.00,115.74 L550.50,116.07 L551.00,116.30 L551.50,116.46 L552.00,116.57 L552.50,116.63 L553.00,116.65 L553.50,116.63 L554.00,116.58 L554.50,116.51 L555.00,116.42 L555.50,116.34 L556.00,116.28 L556.50,116.26 L557.00,116.29 L557.50,116.39 L558.00,116.58 L558.50,116.88 L559.00,117.28 L559.50,117.76 L560.00,118.27 L560.50,118.80 L561.00,119.32 L561.50,119.82 L562.00,120.29 L562.50,120.67 L563.00,120.94 L563.50,121.06 L564.00,121.00 L564.50,120.77 L565.00,120.38 L565.50,119.86 L566.00,119.23 L566.50,118.53 L567.00,117.76 L567.50,116.91 L568.00,115.99 L568.50,114.97 L569.00,113.83 L569.50,112.58 L570.00,111.20 L570.50,109.67 L571.00,107.98 L571.50,106.13 L572.00,104.16 L572.50,102.13 L573.00,100.11 L573.50,98.16 L574.00,96.33 L574.50,94.60 L575.00,92.96 L575.50,91.38 L576.00,89.84 L576.50,88.32 L577.00,86.78 L577.50,85.22 L578.00,83.64 L578.50,82.04 L579.00,80.42 L579.50,78.77 L580.00,77.09 L580.50,75.38 L581.00,73.64 L581.50,71.88 L582.00,70.12 L582.50,68.44 L583.00,66.92 L583.50,65.63 L584.00,64.62 L584.50,63.93 L585.00,63.64 L585.50,63.80 L586.00,64.42 L586.50,65.51 L587.00,67.08 L587.50,69.12 L588.00,71.61 L588.50,74.48 L589.00,77.65 L589.50,81.01 L590.00,84.40 L590.50,87.63 L591.00,90.55 L591.50,93.10 L592.00,95.30 L592.50,97.22 L593.00,98.91 L593.50,100.44 L594.00,101.87 L594.50,103.24 L595.00,104.56 L595.50,105.84 L596.00,107.06 L596.50,108.18 L597.00,109.21 L597.50,110.12 L598.00,110.92 L598.50,111.62 L599.00,112.23 L599.50,112.75 L600.00,113.19 L600.50,113.55 L601.00,113.85 L601.50,114.08 L602.00,114.23 L602.50,114.30 L603.00,114.25 L603.50,114.06 L604.00,113.74 L604.50,113.26 L605.00,112.63 L605.50,111.85 L606.00,110.90 L606.50,109.80 L607.00,108.57 L607.50,107.28 L608.00,105.97 L608.50,104.66 L609.00,103.38 L609.50,102.12 L610.00,100.90 L610.50,99.71 L611.00,98.57 L611.50,97.49 L612.00,96.47 L612.50,95.52 L613.00,94.64 L613.50,93.85 L614.00,93.18 L614.50,92.64 L615.00,92.24 L615.50,92.00 L616.00,91.92 L616.50,92.00 L617.00,92.25 L617.50,92.62 L618.00,93.06 L618.50,93.50 L619.00,93.85 L619.50,93.98 L620.00,93.75 L620.50,93.16 L621.00,92.28 L621.50,91.24 L622.00,90.13 L622.50,89.05 L623.00,88.03 L623.50,87.12 L624.00,86.36 L624.50,85.80 L625.00,85.46 L625.50,85.37 L626.00,85.57 L626.50,86.08 L627.00,86.85 L627.50,87.78 L628.00,88.80 L628.50,89.86 L629.00,90.90 L629.50,91.86 L630.00,92.69 L630.50,93.37 L631.00,93.90 L631.50,94.29 L632.00,94.54" fill="none" stroke="#2828a4" stroke-width="0.95" stroke-linejoin="round"/>
<path d="M371.50,116.96 L372.00,116.94 L372.50,116.93 L373.00,116.97 L373.50,117.09 L374.00,117.32 L374.50,117.68 L375.00,118.19 L375.50,118.83 L376.00,119.55 L376.50,120.31 L377.00,121.08 L377.50,121.81 L378.00,122.49 L378.50,123.11 L379.00,123.68 L379.50,124.18 L380.00,124.59 L380.50,124.91 L381.00,125.12 L381.50,125.21 L382.00,125.18 L382.50,125.05 L383.00,124.84 L383.50,124.57 L384.00,124.25 L384.50,123.91 L385.00,123.56 L385.50,123.21 L386.00,122.83 L386.50,122.42 L387.00,121.94 L387.50,121.36 L388.00,120.67 L388.50,119.83 L389.00,118.83 L389.50,117.68 L390.00,116.44 L390.50,115.16 L391.00,113.90 L391.50,112.69 L392.00,111.57 L392.50,110.61 L393.00,109.89 L393.50,109.51 L394.00,109.53 L394.50,109.95 L395.00,110.73 L395.50,111.85 L396.00,113.26 L396.50,114.93 L397.00,116.73 L397.50,118.51 L398.00,120.10 L398.50,121.40 L399.00,122.39 L399.50,123.07 L400.00,123.44 L400.50,123.55 L401.00,123.45 L401.50,123.22 L402.00,122.96 L402.50,122.72 L403.00,122.57 L403.50,122.53 L404.00,122.59 L404.50,122.72 L405.00,122.87 L405.50,122.98 L406.00,122.99 L406.50,122.86 L407.00,122.50 L407.50,121.85 L408.00,120.90 L408.50,119.70 L409.00,118.31 L409.50,116.80 L410.00,115.18 L410.50,113.52 L411.00,111.87 L411.50,110.33 L412.00,108.97 L412.50,107.83 L413.00,106.97 L413.50,106.47 L414.00,106.38 L414.50,106.66 L415.00,107.23 L415.50,107.97 L416.00,108.78 L416.50,109.57 L417.00,110.26 L417.50,110.77 L418.00,111.01 L418.50,110.93 L419.00,110.57 L419.50,110.01 L420.00,109.34 L420.50,108.65 L421.00,107.98 L421.50,107.37 L422.00,106.81 L422.50,106.32 L423.00,105.91 L423.50,105.58 L424.00,105.34 L424.50,105.15 L425.00,104.99 L425.50,104.81 L426.00,104.57 L426.50,104.23 L427.00,103.77 L427.50,103.12 L428.00,102.25 L428.50,101.08 L429.00,99.58 L429.50,97.73 L430.00,95.52 L430.50,92.95 L431.00,90.03 L431.50,86.77 L432.00,83.19 L432.50,79.31 L433.00,75.14 L433.50,70.70 L434.00,66.10 L434.50,61.58 L435.00,57.47 L435.50,54.06 L436.00,51.42 L436.50,49.52 L437.00,48.25 L437.50,47.50 L438.00,47.17 L438.50,47.21 L439.00,47.58 L439.50,48.17 L440.00,48.89 L440.50,49.62 L441.00,50.28 L441.50,50.81 L442.00,51.16 L442.50,51.25 L443.00,51.01 L443.50,50.38 L444.00,49.36 L444.50,47.95 L445.00,46.13 L445.50,43.98 L446.00,41.68 L446.50,39.48 L447.00,37.57 L447.50,36.03 L448.00,34.88 L448.50,34.09 L449.00,33.65 L449.50,33.65 L450.00,34.23 L450.50,35.63 L451.00,38.11 L451.50,41.81 L452.00,46.62 L452.50,52.17 L453.00,58.02 L453.50,63.86 L454.00,69.47 L454.50,74.89 L455.00,80.28 L455.50,85.70 L456.00,90.99 L456.50,95.86 L457.00,100.06 L457.50,103.42 L458.00,105.83 L458.50,107.17 L459.00,107.38 L459.50,106.57 L460.00,105.02 L460.50,103.04 L461.00,100.94 L461.50,98.89 L462.00,97.04 L462.50,95.54 L463.00,94.54 L463.50,94.20 L464.00,94.61 L464.50,95.78 L465.00,97.73 L465.50,100.47 L466.00,103.94 L466.50,107.92 L467.00,112.09 L467.50,116.19 L468.00,120.09 L468.50,123.71 L469.00,126.99 L469.50,129.86 L470.00,132.31 L470.50,134.40 L471.00,136.18 L471.50,137.71 L472.00,139.04 L472.50,140.22 L473.00,141.30 L473.50,142.30 L474.00,143.24 L474.50,144.15 L475.00,145.04 L475.50,145.92 L476.00,146.81 L476.50,147.72 L477.00,148.65 L477.50,149.55 L478.00,150.37 L478.50,151.03 L479.00,151.46 L479.50,151.59 L480.00,151.32 L480.50,150.63 L481.00,149.54 L481.50,148.16 L482.00,146.63 L482.50,145.09 L483.00,143.62 L483.50,142.23 L484.00,140.93 L484.50,139.73 L485.00,138.63 L485.50,137.64 L486.00,136.75 L486.50,135.96 L487.00,135.28 L487.50,134.70 L488.00,134.25 L488.50,133.91 L489.00,133.68 L489.50,133.52 L490.00,133.40 L490.50,133.30 L491.00,133.17 L491.50,132.99 L492.00,132.70 L492.50,132.27 L493.00,131.63 L493.50,130.74 L494.00,129.53 L494.50,127.94 L495.00,125.99 L495.50,123.73 L496.00,121.25 L496.50,118.58 L497.00,115.78 L497.50,112.94 L498.00,110.19 L498.50,107.66 L499.00,105.43 L499.50,103.52 L500.00,101.91 L500.50,100.62 L501.00,99.66 L501.50,99.06 L502.00,98.80 L502.50,98.85 L503.00,99.13 L503.50,99.57 L504.00,100.13 L504.50,100.74 L505.00,101.36 L505.50,101.92 L506.00,102.32 L506.50,102.48 L507.00,102.29 L507.50,101.73 L508.00,100.80 L508.50,99.58 L509.00,98.11 L509.50,96.45 L510.00,94.62 L510.50,92.64 L511.00,90.59 L511.50,88.51 L512.00,86.46 L512.50,84.45 L513.00,82.54 L513.50,80.76 L514.00,79.19 L514.50,77.90 L515.00,76.90 L515.50,76.16 L516.00,75.62 L516.50,75.16 L517.00,74.70 L517.50,74.13 L518.00,73.38 L518.50,72.38 L519.00,71.04 L519.50,69.32 L520.00,67.22 L520.50,64.85 L521.00,62.35 L521.50,59.83 L522.00,57.42 L522.50,55.23 L523.00,53.36 L523.50,51.85 L524.00,50.70 L524.50,49.90 L525.00,49.42 L525.50,49.24 L526.00,49.40 L526.50,49.96 L527.00,50.98 L527.50,52.51 L528.00,54.59 L528.50,57.19 L529.00,60.18 L529.50,63.42 L530.00,66.75 L530.50,70.01 L531.00,73.02 L531.50,75.69 L532.00,78.03 L532.50,80.07 L533.00,81.84 L533.50,83.35 L534.00,84.63 L534.50,85.73 L535.00,86.65 L535.50,87.40 L536.00,87.93 L536.50,88.21 L537.00,88.21 L537.50,87.89 L538.00,87.24 L538.50,86.21 L539.00,84.77 L539.50,82.89 L540.00,80.66 L540.50,78.31 L541.00,76.13 L541.50,74.35 L542.00,73.10 L542.50,72.34 L543.00,72.04 L543.50,72.17 L544.00,72.77 L544.50,73.90 L545.00,75.61 L545.50,77.85 L546.00,80.42 L546.50,83.01 L547.00,85.37 L547.50,87.33 L548.00,88.89 L548.50,90.10 L549.00,91.03 L549.50,91.70 L550.00,92.17 L550.50,92.49 L551.00,92.72 L551.50,92.89 L552.00,93.02 L552.50,93.12 L553.00,93.22 L553.50,93.32 L554.00,93.43 L554.50,93.55 L555.00,93.68 L555.50,93.84 L556.00,94.00 L556.50,94.18 L557.00,94.37 L557.50,94.57 L558.00,94.77 L558.50,94.99 L559.00,95.22 L559.50,95.44 L560.00,95.65 L560.50,95.83 L561.00,95.97 L561.50,96.05 L562.00,96.06 L562.50,95.95 L563.00,95.73 L563.50,95.35 L564.00,94.82 L564.50,94.13 L565.00,93.25 L565.50,92.17 L566.00,90.85 L566.50,89.25 L567.00,87.37 L567.50,85.21 L568.00,82.81 L568.50,80.19 L569.00,77.39 L569.50,74.44 L570.00,71.36 L570.50,68.18 L571.00,64.89 L571.50,61.51 L572.00,58.08 L572.50,54.70 L573.00,51.42 L573.50,48.31 L574.00,45.37 L574.50,42.60 L575.00,40.00 L575.50,37.57 L576.00,35.30 L576.50,33.18 L577.00,31.16 L577.50,29.21 L578.00,27.29 L578.50,25.37 L579.00,23.43 L579.50,21.45 L580.00,19.46 L580.50,17.44 L581.00,15.42 L581.50,13.40 L582.00,11.48 L582.50,9.75 L583.00,8.34 L583.50,7.32 L584.00,6.72 L584.50,6.60 L585.00,6.99 L585.50,7.91 L586.00,9.39 L586.50,11.42 L587.00,13.98 L587.50,16.99 L588.00,20.31 L588.50,23.85 L589.00,27.49 L589.50,31.12 L590.00,34.62 L590.50,37.94 L591.00,41.07 L591.50,44.00 L592.00,46.72 L592.50,49.23 L593.00,51.56 L593.50,53.72 L594.00,55.73 L594.50,57.62 L595.00,59.39 L595.50,61.06 L596.00,62.65 L596.50,64.16 L597.00,65.59 L597.50,66.95 L598.00,68.22 L598.50,69.43 L599.00,70.58 L599.50,71.66 L600.00,72.70 L600.50,73.67 L601.00,74.60 L601.50,75.48 L602.00,76.31 L602.50,77.06 L603.00,77.67 L603.50,78.06 L604.00,78.16 L604.50,77.89 L605.00,77.24 L605.50,76.22 L606.00,74.88 L606.50,73.25 L607.00,71.36 L607.50,69.23 L608.00,66.94 L608.50,64.62 L609.00,62.37 L609.50,60.25 L610.00,58.27 L610.50,56.49 L611.00,54.93 L611.50,53.61 L612.00,52.54 L612.50,51.69 L613.00,51.05 L613.50,50.63 L614.00,50.41 L614.50,50.41 L615.00,50.60 L615.50,50.98 L616.00,51.53 L616.50,52.25 L617.00,53.13 L617.50,54.09 L618.00,55.00 L618.50,55.71 L619.00,56.06 L619.50,55.96 L620.00,55.39 L620.50,54.45 L621.00,53.28 L621.50,52.00 L622.00,50.70 L622.50,49.45 L623.00,48.35 L623.50,47.45 L624.00,46.81 L624.50,46.45 L625.00,46.36 L625.50,46.60 L626.00,47.15 L626.50,47.98 L627.00,49.04 L627.50,50.26 L628.00,51.61 L628.50,53.02 L629.00,54.39 L629.50,55.66 L630.00,56.80 L630.50,57.80 L631.00,58.68 L631.50,59.42 L632.00,59.93" fill="none" stroke="#1a1a1a" stroke-width="0.95" stroke-linejoin="round"/>
<path d="M634.2,6.3 H644.4" stroke="#1a1a1a" stroke-width="0.8" opacity="0.7"/>
<text x="648.2" y="8.5" font-family="Liberation Serif" font-size="6.72" font-weight="normal" text-anchor="start" textLength="16.9" lengthAdjust="spacingAndGlyphs" stroke="#222" stroke-width="0.12">Total</text>
<path d="M634.2,12.5 H644.4" stroke="#a03030" stroke-width="0.8" opacity="0.7"/>
<text x="648.2" y="14.7" font-family="Liberation Serif" font-size="6.72" font-weight="normal" text-anchor="start" textLength="29.3" lengthAdjust="spacingAndGlyphs" stroke="#222" stroke-width="0.12">Acceptor</text>
<path d="M634.2,18.6 H644.4" stroke="#2828a4" stroke-width="0.8" opacity="0.7"/>
<text x="648.2" y="20.8" font-family="Liberation Serif" font-size="6.72" font-weight="normal" text-anchor="start" textLength="19.5" lengthAdjust="spacingAndGlyphs" stroke="#222" stroke-width="0.12">Donor</text>
<path d="M634.2,24.8 H644.4" stroke="#c032c0" stroke-width="0.8" opacity="0.7"/>
<text x="648.2" y="27.0" font-family="Liberation Serif" font-size="6.72" font-weight="normal" text-anchor="start" textLength="21.6" lengthAdjust="spacingAndGlyphs" stroke="#222" stroke-width="0.12">Bridge</text>
<text x="511.2" y="186.4" font-family="Liberation Sans" font-size="16.50" font-weight="bold" text-anchor="middle" style="fill:#000;stroke:#000;stroke-width:0.35px">A2</text>
</g>
<g id="A3">
<path d="M26.5,220.3 V370.7 M284.2,220.3 V370.7" fill="none" stroke="#666" stroke-width="1.0"/>
<text x="15.2" y="369.3" font-family="Liberation Serif" font-size="6.98" font-weight="normal" text-anchor="middle" textLength="13.1" lengthAdjust="spacingAndGlyphs" >0.00</text>
<path d="M26.5,337.5 h-2.5" stroke="#444" stroke-width="0.9"/>
<text x="15.2" y="339.8" font-family="Liberation Serif" font-size="6.98" font-weight="normal" text-anchor="middle" textLength="13.1" lengthAdjust="spacingAndGlyphs" >0.50</text>
<path d="M26.5,308.0 h-2.5" stroke="#444" stroke-width="0.9"/>
<text x="15.2" y="310.3" font-family="Liberation Serif" font-size="6.98" font-weight="normal" text-anchor="middle" textLength="12.1" lengthAdjust="spacingAndGlyphs" >1.00</text>
<path d="M26.5,278.5 h-2.5" stroke="#444" stroke-width="0.9"/>
<text x="15.2" y="280.8" font-family="Liberation Serif" font-size="6.98" font-weight="normal" text-anchor="middle" textLength="12.1" lengthAdjust="spacingAndGlyphs" >1.50</text>
<path d="M26.5,249.0 h-2.5" stroke="#444" stroke-width="0.9"/>
<text x="15.2" y="251.3" font-family="Liberation Serif" font-size="6.98" font-weight="normal" text-anchor="middle" textLength="13.1" lengthAdjust="spacingAndGlyphs" >2.00</text>
<text x="15.2" y="221.8" font-family="Liberation Serif" font-size="6.98" font-weight="normal" text-anchor="middle" textLength="13.1" lengthAdjust="spacingAndGlyphs" >2.50</text>
<path d="M26.5,367.0 v3.7" stroke="#555" stroke-width="0.9"/>
<text x="26.8" y="376.9" font-family="Liberation Serif" font-size="6.98" font-weight="normal" text-anchor="middle" textLength="21.7" lengthAdjust="spacingAndGlyphs" >−25.00</text>
<path d="M78.0,367.0 v3.7" stroke="#555" stroke-width="0.9"/>
<text x="78.4" y="376.9" font-family="Liberation Serif" font-size="6.98" font-weight="normal" text-anchor="middle" textLength="20.6" lengthAdjust="spacingAndGlyphs" >−15.00</text>
<path d="M129.6,367.0 v3.7" stroke="#555" stroke-width="0.9"/>
<text x="129.9" y="376.9" font-family="Liberation Serif" font-size="6.98" font-weight="normal" text-anchor="middle" textLength="17.3" lengthAdjust="spacingAndGlyphs" >−5.00</text>
<path d="M181.1,367.0 v3.7" stroke="#555" stroke-width="0.9"/>
<text x="181.1" y="376.9" font-family="Liberation Serif" font-size="6.98" font-weight="normal" text-anchor="middle" textLength="13.1" lengthAdjust="spacingAndGlyphs" >5.00</text>
<path d="M232.7,367.0 v3.7" stroke="#555" stroke-width="0.9"/>
<text x="232.7" y="376.9" font-family="Liberation Serif" font-size="6.98" font-weight="normal" text-anchor="middle" textLength="16.3" lengthAdjust="spacingAndGlyphs" >15.00</text>
<path d="M284.2,367.0 v3.7" stroke="#555" stroke-width="0.9"/>
<text x="284.2" y="376.9" font-family="Liberation Serif" font-size="6.98" font-weight="normal" text-anchor="middle" textLength="17.3" lengthAdjust="spacingAndGlyphs" >25.00</text>
<text x="155.3" y="383.7" font-family="Liberation Serif" font-size="6.88" font-weight="normal" text-anchor="middle" textLength="36.8" lengthAdjust="spacingAndGlyphs" >Energy (eV)</text>
<text x="5.0" y="293.8" font-family="Liberation Serif" font-size="6.88" font-weight="normal" text-anchor="middle" textLength="57.1" lengthAdjust="spacingAndGlyphs" transform="rotate(-90 5.0 293.8)">Density−of−states</text>
<path d="M23.8,367.5 H284.7" stroke="#888" stroke-width="1"/>
<path d="M45.7,367.3 v-1.0 M59.6,367.3 v-1.7 M64.1,367.3 v-1.2 M103.4,367.3 v-1.2 M107.1,367.3 v-1.4 M110.8,367.3 v-1.8 M116.4,367.3 v-1.3 M118.4,367.3 v-1.5 M130.8,367.3 v-1.7 M134.7,367.3 v-1.1 M162.1,367.3 v-1.7 M166.1,367.3 v-1.7 M172.8,367.3 v-1.1 M184.5,367.3 v-1.1 M214.3,367.3 v-1.3 M241.3,367.3 v-1.5 M243.0,367.3 v-1.4 M265.0,367.3 v-1.6 M268.6,367.3 v-1.6" stroke="#9a9ae8" stroke-width="0.9" opacity="0.85" fill="none"/>
<path d="M27.4,367.3 v-1.1 M29.1,367.3 v-1.6 M29.9,367.3 v-1.0 M31.2,367.3 v-1.0 M32.3,367.3 v-1.0 M33.4,367.3 v-1.4 M36.0,367.3 v-1.7 M37.0,367.3 v-1.4 M38.3,367.3 v-1.6 M39.2,367.3 v-1.4 M40.1,367.3 v-1.4 M44.0,367.3 v-1.6 M48.4,367.3 v-1.4 M49.2,367.3 v-1.3 M51.6,367.3 v-1.7 M52.7,367.3 v-1.5 M57.5,367.3 v-1.5 M66.3,367.3 v-1.4 M67.4,367.3 v-1.6 M74.2,367.3 v-1.4 M75.9,367.3 v-1.2 M77.9,367.3 v-1.5 M79.7,367.3 v-1.1 M81.0,367.3 v-1.4 M87.8,367.3 v-1.0 M89.5,367.3 v-1.1 M90.4,367.3 v-1.0 M91.7,367.3 v-0.9 M93.9,367.3 v-1.7 M95.2,367.3 v-1.5 M99.0,367.3 v-1.2 M101.3,367.3 v-1.7 M102.6,367.3 v-1.5 M113.2,367.3 v-1.1 M120.3,367.3 v-1.3 M121.3,367.3 v-1.5 M124.3,367.3 v-1.5 M130.0,367.3 v-1.5 M133.6,367.3 v-1.4 M138.1,367.3 v-1.4 M138.9,367.3 v-1.7 M140.6,367.3 v-1.6 M141.5,367.3 v-1.7 M144.8,367.3 v-1.1 M146.1,367.3 v-1.4 M148.5,367.3 v-1.7 M153.2,367.3 v-1.1 M154.5,367.3 v-1.3 M156.3,367.3 v-1.3 M158.0,367.3 v-1.0 M162.9,367.3 v-1.2 M165.3,367.3 v-1.3 M167.2,367.3 v-1.7 M173.6,367.3 v-1.2 M175.3,367.3 v-1.0 M177.0,367.3 v-1.0 M179.4,367.3 v-1.5 M181.1,367.3 v-1.1 M182.8,367.3 v-1.3 M186.7,367.3 v-1.2 M188.4,367.3 v-1.2 M189.5,367.3 v-1.0 M191.3,367.3 v-1.7 M193.2,367.3 v-1.7 M194.1,367.3 v-1.0 M196.2,367.3 v-1.4 M198.3,367.3 v-1.6 M199.2,367.3 v-1.0 M205.5,367.3 v-1.0 M206.4,367.3 v-1.1 M208.3,367.3 v-1.4 M209.2,367.3 v-1.6 M210.2,367.3 v-1.0 M212.6,367.3 v-1.3 M216.7,367.3 v-1.1 M217.6,367.3 v-1.6 M221.1,367.3 v-1.6 M222.1,367.3 v-1.0 M227.2,367.3 v-1.3 M228.1,367.3 v-0.9 M230.4,367.3 v-1.0 M231.4,367.3 v-1.1 M232.4,367.3 v-1.3 M236.1,367.3 v-1.2 M236.9,367.3 v-1.4 M238.0,367.3 v-1.2 M238.9,367.3 v-1.7 M245.4,367.3 v-1.8 M246.3,367.3 v-1.5 M247.2,367.3 v-1.6 M255.7,367.3 v-1.5 M260.6,367.3 v-1.2 M261.4,367.3 v-1.3 M263.9,367.3 v-1.2 M267.6,367.3 v-1.6 M273.6,367.3 v-1.3 M275.3,367.3 v-1.0 M277.9,367.3 v-1.5 M279.6,367.3 v-1.4 M282.1,367.3 v-1.1" stroke="#2424a8" stroke-width="0.9" opacity="0.85" fill="none"/>
<path d="M35.1,367.3 v-1.3 M40.9,367.3 v-1.5 M43.0,367.3 v-1.7 M46.7,367.3 v-1.7 M55.1,367.3 v-1.6 M58.8,367.3 v-1.6 M70.7,367.3 v-1.1 M71.8,367.3 v-1.7 M78.7,367.3 v-1.4 M92.6,367.3 v-1.7 M98.1,367.3 v-1.2 M100.0,367.3 v-1.5 M106.1,367.3 v-1.7 M109.5,367.3 v-1.5 M115.6,367.3 v-1.5 M131.9,367.3 v-1.6 M159.7,367.3 v-1.4 M168.5,367.3 v-1.5 M169.6,367.3 v-1.6 M190.5,367.3 v-1.2 M197.5,367.3 v-1.5 M211.5,367.3 v-1.1 M215.4,367.3 v-1.7 M250.9,367.3 v-1.7 M253.3,367.3 v-1.6 M280.4,367.3 v-1.3" stroke="#a03030" stroke-width="0.9" opacity="0.85" fill="none"/>
<path d="M34.3,367.3 v-1.4 M42.0,367.3 v-1.3 M60.7,367.3 v-1.0 M62.4,367.3 v-1.5 M68.3,367.3 v-1.3 M81.9,367.3 v-1.4 M83.2,367.3 v-1.6 M86.7,367.3 v-1.4 M96.2,367.3 v-1.3 M114.3,367.3 v-1.1 M117.3,367.3 v-1.7 M126.7,367.3 v-1.7 M129.1,367.3 v-1.1 M132.7,367.3 v-1.1 M137.1,367.3 v-1.3 M155.4,367.3 v-1.6 M200.0,367.3 v-1.6 M200.8,367.3 v-1.1 M203.8,367.3 v-1.0 M207.4,367.3 v-1.4 M219.3,367.3 v-1.1 M233.7,367.3 v-1.1 M248.5,367.3 v-1.5 M259.8,367.3 v-1.0 M262.2,367.3 v-1.5 M269.5,367.3 v-1.1 M271.2,367.3 v-1.3 M277.0,367.3 v-1.0" stroke="#c032c0" stroke-width="0.9" opacity="0.85" fill="none"/>
<path d="M65.2,367.3 v-1.2 M77.0,367.3 v-1.1 M84.3,367.3 v-1.6 M97.0,367.3 v-1.8 M105.1,367.3 v-1.5 M119.4,367.3 v-1.2 M122.6,367.3 v-1.3 M143.9,367.3 v-1.0 M149.5,367.3 v-1.5 M151.9,367.3 v-1.3 M170.9,367.3 v-1.5 M171.9,367.3 v-1.7 M182.0,367.3 v-1.1 M185.6,367.3 v-1.3 M192.2,367.3 v-1.0 M195.2,367.3 v-1.5 M201.8,367.3 v-1.3 M202.8,367.3 v-1.3 M220.3,367.3 v-1.6 M223.8,367.3 v-1.7 M225.5,367.3 v-1.4 M229.1,367.3 v-1.7 M258.1,367.3 v-1.5 M266.3,367.3 v-1.0" stroke="#202060" stroke-width="0.9" opacity="0.85" fill="none"/>
<path d="M26.50,365.01 L27.00,364.72 L27.50,364.36 L28.00,364.02 L28.50,363.73 L29.00,363.54 L29.50,363.44 L30.00,363.45 L30.50,363.59 L31.00,363.83 L31.50,364.15 L32.00,364.50 L32.50,364.84 L33.00,365.15 L33.50,365.42 L34.00,365.63 L34.50,365.80 L35.00,365.92 L35.50,366.00 L36.00,366.05 L36.50,366.06 L37.00,366.04 L37.50,365.99 L38.00,365.92 L38.50,365.82 L39.00,365.70 L39.50,365.55 L40.00,365.38 L40.50,365.18 L41.00,364.95 L41.50,364.68 L42.00,364.39 L42.50,364.09 L43.00,363.78 L43.50,363.47 L44.00,363.18 L44.50,362.91 L45.00,362.67 L45.50,362.46 L46.00,362.30 L46.50,362.19 L47.00,362.16 L47.50,362.22 L48.00,362.37 L48.50,362.61 L49.00,362.92 L49.50,363.27 L50.00,363.66 L50.50,364.05 L51.00,364.46 L51.50,364.86 L52.00,365.23 L52.50,365.57 L53.00,365.83 L53.50,366.02 L54.00,366.13 L54.50,366.18 L55.00,366.19 L55.50,366.15 L56.00,366.08 L56.50,365.99 L57.00,365.88 L57.50,365.74 L58.00,365.59 L58.50,365.42 L59.00,365.22 L59.50,365.01 L60.00,364.79 L60.50,364.55 L61.00,364.31 L61.50,364.05 L62.00,363.78 L62.50,363.50 L63.00,363.23 L63.50,362.98 L64.00,362.76 L64.50,362.57 L65.00,362.41 L65.50,362.29 L66.00,362.20 L66.50,362.13 L67.00,362.10 L67.50,362.08 L68.00,362.10 L68.50,362.14 L69.00,362.20 L69.50,362.27 L70.00,362.35 L70.50,362.42 L71.00,362.47 L71.50,362.48 L72.00,362.45 L72.50,362.36 L73.00,362.20 L73.50,361.98 L74.00,361.72 L74.50,361.43 L75.00,361.13 L75.50,360.83 L76.00,360.54 L76.50,360.26 L77.00,360.01 L77.50,359.77 L78.00,359.58 L78.50,359.43 L79.00,359.33 L79.50,359.30 L80.00,359.32 L80.50,359.38 L81.00,359.45 L81.50,359.52 L82.00,359.54 L82.50,359.51 L83.00,359.39 L83.50,359.14 L84.00,358.74 L84.50,358.18 L85.00,357.50 L85.50,356.73 L86.00,355.92 L86.50,355.09 L87.00,354.27 L87.50,353.49 L88.00,352.84 L88.50,352.35 L89.00,352.06 L89.50,352.01 L90.00,352.22 L90.50,352.66 L91.00,353.27 L91.50,353.97 L92.00,354.70 L92.50,355.43 L93.00,356.13 L93.50,356.77 L94.00,357.32 L94.50,357.73 L95.00,358.00 L95.50,358.11 L96.00,358.11 L96.50,358.03 L97.00,357.92 L97.50,357.80 L98.00,357.70 L98.50,357.64 L99.00,357.61 L99.50,357.62 L100.00,357.67 L100.50,357.76 L101.00,357.90 L101.50,358.10 L102.00,358.34 L102.50,358.65 L103.00,359.02 L103.50,359.47 L104.00,360.00 L104.50,360.58 L105.00,361.18 L105.50,361.76 L106.00,362.27 L106.50,362.70 L107.00,363.07 L107.50,363.38 L108.00,363.63 L108.50,363.84 L109.00,364.01 L109.50,364.13 L110.00,364.22 L110.50,364.28 L111.00,364.33 L111.50,364.36 L112.00,364.37 L112.50,364.35 L113.00,364.30 L113.50,364.20 L114.00,364.06 L114.50,363.86 L115.00,363.62 L115.50,363.36 L116.00,363.09 L116.50,362.85 L117.00,362.65 L117.50,362.50 L118.00,362.42 L118.50,362.44 L119.00,362.57 L119.50,362.82 L120.00,363.15 L120.50,363.53 L121.00,363.91 L121.50,364.29 L122.00,364.65 L122.50,365.00 L123.00,365.32 L123.50,365.61 L124.00,365.86 L124.50,366.08 L125.00,366.25 L125.50,366.39 L126.00,366.51 L126.50,366.60 L127.00,366.68 L127.50,366.74 L128.00,366.79 L128.50,366.83 L129.00,366.85 L129.50,366.86 L130.00,366.87 L130.50,366.86 L131.00,366.86 L131.50,366.84 L132.00,366.83 L132.50,366.82 L133.00,366.80 L133.50,366.79 L134.00,366.77 L134.50,366.75 L135.00,366.74 L135.50,366.72 L136.00,366.70 L136.50,366.67 L137.00,366.65 L137.50,366.62 L138.00,366.59 L138.50,366.55 L139.00,366.51 L139.50,366.47 L140.00,366.41 L140.50,366.36 L141.00,366.30 L141.50,366.23 L142.00,366.17 L142.50,366.10 L143.00,366.03 L143.50,365.97 L144.00,365.91 L144.50,365.85 L145.00,365.80 L145.50,365.75 L146.00,365.69 L146.50,365.63 L147.00,365.54 L147.50,365.44 L148.00,365.30 L148.50,365.12 L149.00,364.89 L149.50,364.62 L150.00,364.32 L150.50,363.99 L151.00,363.66 L151.50,363.33 L152.00,363.03 L152.50,362.78 L153.00,362.63 L153.50,362.60 L154.00,362.72 L154.50,362.94 L155.00,363.22 L155.50,363.52 L156.00,363.80 L156.50,364.04 L157.00,364.25 L157.50,364.40 L158.00,364.50 L158.50,364.55 L159.00,364.53 L159.50,364.45 L160.00,364.31 L160.50,364.11 L161.00,363.88 L161.50,363.62 L162.00,363.34 L162.50,363.05 L163.00,362.74 L163.50,362.43 L164.00,362.13 L164.50,361.84 L165.00,361.58 L165.50,361.36 L166.00,361.18 L166.50,361.03 L167.00,360.92 L167.50,360.83 L168.00,360.75 L168.50,360.70 L169.00,360.65 L169.50,360.60 L170.00,360.56 L170.50,360.51 L171.00,360.46 L171.50,360.39 L172.00,360.33 L172.50,360.26 L173.00,360.19 L173.50,360.13 L174.00,360.07 L174.50,360.03 L175.00,360.01 L175.50,360.00 L176.00,360.01 L176.50,360.03 L177.00,360.07 L177.50,360.11 L178.00,360.17 L178.50,360.23 L179.00,360.31 L179.50,360.38 L180.00,360.46 L180.50,360.53 L181.00,360.58 L181.50,360.59 L182.00,360.58 L182.50,360.53 L183.00,360.45 L183.50,360.35 L184.00,360.25 L184.50,360.15 L185.00,360.07 L185.50,360.03 L186.00,360.02 L186.50,360.07 L187.00,360.17 L187.50,360.34 L188.00,360.60 L188.50,360.94 L189.00,361.37 L189.50,361.84 L190.00,362.30 L190.50,362.74 L191.00,363.12 L191.50,363.44 L192.00,363.68 L192.50,363.84 L193.00,363.90 L193.50,363.86 L194.00,363.74 L194.50,363.57 L195.00,363.38 L195.50,363.18 L196.00,363.01 L196.50,362.87 L197.00,362.76 L197.50,362.68 L198.00,362.62 L198.50,362.57 L199.00,362.54 L199.50,362.52 L200.00,362.51 L200.50,362.49 L201.00,362.48 L201.50,362.46 L202.00,362.44 L202.50,362.41 L203.00,362.38 L203.50,362.34 L204.00,362.30 L204.50,362.26 L205.00,362.21 L205.50,362.16 L206.00,362.10 L206.50,362.04 L207.00,361.98 L207.50,361.92 L208.00,361.86 L208.50,361.81 L209.00,361.77 L209.50,361.75 L210.00,361.75 L210.50,361.77 L211.00,361.81 L211.50,361.88 L212.00,361.96 L212.50,362.06 L213.00,362.17 L213.50,362.27 L214.00,362.37 L214.50,362.45 L215.00,362.52 L215.50,362.56 L216.00,362.58 L216.50,362.57 L217.00,362.51 L217.50,362.40 L218.00,362.21 L218.50,361.95 L219.00,361.59 L219.50,361.13 L220.00,360.61 L220.50,360.06 L221.00,359.52 L221.50,359.00 L222.00,358.52 L222.50,358.09 L223.00,357.69 L223.50,357.35 L224.00,357.06 L224.50,356.84 L225.00,356.67 L225.50,356.55 L226.00,356.46 L226.50,356.39 L227.00,356.35 L227.50,356.32 L228.00,356.29 L228.50,356.27 L229.00,356.24 L229.50,356.21 L230.00,356.17 L230.50,356.12 L231.00,356.06 L231.50,355.98 L232.00,355.89 L232.50,355.79 L233.00,355.69 L233.50,355.62 L234.00,355.58 L234.50,355.61 L235.00,355.71 L235.50,355.87 L236.00,356.08 L236.50,356.30 L237.00,356.54 L237.50,356.77 L238.00,356.98 L238.50,357.16 L239.00,357.29 L239.50,357.34 L240.00,357.34 L240.50,357.28 L241.00,357.21 L241.50,357.14 L242.00,357.09 L242.50,357.10 L243.00,357.18 L243.50,357.37 L244.00,357.67 L244.50,358.04 L245.00,358.45 L245.50,358.85 L246.00,359.21 L246.50,359.53 L247.00,359.83 L247.50,360.12 L248.00,360.40 L248.50,360.67 L249.00,360.91 L249.50,361.12 L250.00,361.31 L250.50,361.47 L251.00,361.60 L251.50,361.72 L252.00,361.83 L252.50,361.93 L253.00,362.02 L253.50,362.12 L254.00,362.22 L254.50,362.31 L255.00,362.40 L255.50,362.46 L256.00,362.51 L256.50,362.51 L257.00,362.46 L257.50,362.36 L258.00,362.18 L258.50,361.94 L259.00,361.66 L259.50,361.36 L260.00,361.05 L260.50,360.76 L261.00,360.47 L261.50,360.21 L262.00,359.99 L262.50,359.82 L263.00,359.72 L263.50,359.70 L264.00,359.76 L264.50,359.90 L265.00,360.10 L265.50,360.34 L266.00,360.60 L266.50,360.87 L267.00,361.12 L267.50,361.35 L268.00,361.53 L268.50,361.64 L269.00,361.64 L269.50,361.53 L270.00,361.30 L270.50,360.98 L271.00,360.58 L271.50,360.15 L272.00,359.70 L272.50,359.24 L273.00,358.78 L273.50,358.34 L274.00,357.95 L274.50,357.60 L275.00,357.33 L275.50,357.12 L276.00,357.00 L276.50,356.98 L277.00,357.05 L277.50,357.21 L278.00,357.44 L278.50,357.73 L279.00,358.04 L279.50,358.37 L280.00,358.71 L280.50,359.05 L281.00,359.37 L281.50,359.67 L282.00,359.94 L282.50,360.16 L283.00,360.34 L283.50,360.46 L284.00,360.54" fill="none" stroke="#c032c0" stroke-width="0.95" stroke-linejoin="round"/>
<path d="M26.50,345.53 L27.00,345.82 L27.50,346.27 L28.00,346.88 L28.50,347.67 L29.00,348.65 L29.50,349.83 L30.00,351.11 L30.50,352.39 L31.00,353.54 L31.50,354.51 L32.00,355.29 L32.50,355.91 L33.00,356.39 L33.50,356.75 L34.00,357.00 L34.50,357.18 L35.00,357.30 L35.50,357.39 L36.00,357.45 L36.50,357.48 L37.00,357.47 L37.50,357.44 L38.00,357.35 L38.50,357.22 L39.00,357.03 L39.50,356.79 L40.00,356.50 L40.50,356.17 L41.00,355.82 L41.50,355.44 L42.00,355.04 L42.50,354.62 L43.00,354.20 L43.50,353.81 L44.00,353.48 L44.50,353.24 L45.00,353.10 L45.50,353.08 L46.00,353.19 L46.50,353.43 L47.00,353.83 L47.50,354.42 L48.00,355.15 L48.50,356.00 L49.00,356.92 L49.50,357.85 L50.00,358.77 L50.50,359.67 L51.00,360.50 L51.50,361.23 L52.00,361.81 L52.50,362.17 L53.00,362.29 L53.50,362.17 L54.00,361.83 L54.50,361.33 L55.00,360.71 L55.50,360.01 L56.00,359.26 L56.50,358.48 L57.00,357.73 L57.50,357.03 L58.00,356.44 L58.50,355.96 L59.00,355.62 L59.50,355.45 L60.00,355.48 L60.50,355.68 L61.00,356.03 L61.50,356.47 L62.00,356.95 L62.50,357.41 L63.00,357.82 L63.50,358.12 L64.00,358.25 L64.50,358.14 L65.00,357.76 L65.50,357.12 L66.00,356.29 L66.50,355.35 L67.00,354.36 L67.50,353.39 L68.00,352.44 L68.50,351.54 L69.00,350.70 L69.50,349.96 L70.00,349.35 L70.50,348.91 L71.00,348.71 L71.50,348.79 L72.00,349.16 L72.50,349.73 L73.00,350.42 L73.50,351.15 L74.00,351.88 L74.50,352.58 L75.00,353.22 L75.50,353.73 L76.00,354.10 L76.50,354.28 L77.00,354.29 L77.50,354.15 L78.00,353.90 L78.50,353.58 L79.00,353.22 L79.50,352.86 L80.00,352.53 L80.50,352.22 L81.00,351.96 L81.50,351.76 L82.00,351.62 L82.50,351.53 L83.00,351.46 L83.50,351.35 L84.00,351.16 L84.50,350.81 L85.00,350.27 L85.50,349.52 L86.00,348.56 L86.50,347.35 L87.00,345.89 L87.50,344.22 L88.00,342.41 L88.50,340.55 L89.00,338.73 L89.50,336.97 L90.00,335.33 L90.50,333.85 L91.00,332.62 L91.50,331.65 L92.00,330.97 L92.50,330.55 L93.00,330.42 L93.50,330.57 L94.00,330.99 L94.50,331.56 L95.00,332.19 L95.50,332.75 L96.00,333.15 L96.50,333.29 L97.00,333.07 L97.50,332.42 L98.00,331.38 L98.50,329.98 L99.00,328.26 L99.50,326.27 L100.00,324.10 L100.50,321.89 L101.00,319.83 L101.50,318.08 L102.00,316.72 L102.50,315.81 L103.00,315.35 L103.50,315.36 L104.00,315.88 L104.50,316.90 L105.00,318.38 L105.50,320.29 L106.00,322.60 L106.50,325.24 L107.00,328.09 L107.50,331.03 L108.00,334.00 L108.50,336.91 L109.00,339.66 L109.50,342.14 L110.00,344.28 L110.50,346.07 L111.00,347.54 L111.50,348.72 L112.00,349.64 L112.50,350.28 L113.00,350.64 L113.50,350.60 L114.00,350.09 L114.50,349.14 L115.00,347.92 L115.50,346.62 L116.00,345.41 L116.50,344.35 L117.00,343.50 L117.50,342.88 L118.00,342.55 L118.50,342.57 L119.00,343.02 L119.50,343.95 L120.00,345.33 L120.50,347.10 L121.00,349.20 L121.50,351.49 L122.00,353.79 L122.50,355.92 L123.00,357.81 L123.50,359.46 L124.00,360.86 L124.50,362.03 L125.00,362.98 L125.50,363.75 L126.00,364.38 L126.50,364.89 L127.00,365.29 L127.50,365.60 L128.00,365.84 L128.50,366.03 L129.00,366.18 L129.50,366.29 L130.00,366.38 L130.50,366.44 L131.00,366.47 L131.50,366.47 L132.00,366.44 L132.50,366.37 L133.00,366.24 L133.50,366.03 L134.00,365.73 L134.50,365.32 L135.00,364.78 L135.50,364.12 L136.00,363.34 L136.50,362.50 L137.00,361.63 L137.50,360.79 L138.00,360.01 L138.50,359.28 L139.00,358.61 L139.50,358.01 L140.00,357.48 L140.50,357.02 L141.00,356.67 L141.50,356.48 L142.00,356.51 L142.50,356.77 L143.00,357.21 L143.50,357.76 L144.00,358.35 L144.50,358.94 L145.00,359.49 L145.50,360.00 L146.00,360.44 L146.50,360.79 L147.00,361.02 L147.50,361.08 L148.00,360.90 L148.50,360.43 L149.00,359.69 L149.50,358.72 L150.00,357.60 L150.50,356.34 L151.00,354.98 L151.50,353.58 L152.00,352.20 L152.50,350.91 L153.00,349.76 L153.50,348.75 L154.00,347.89 L154.50,347.18 L155.00,346.62 L155.50,346.19 L156.00,345.88 L156.50,345.66 L157.00,345.50 L157.50,345.41 L158.00,345.36 L158.50,345.35 L159.00,345.38 L159.50,345.46 L160.00,345.62 L160.50,345.85 L161.00,346.18 L161.50,346.58 L162.00,347.02 L162.50,347.47 L163.00,347.91 L163.50,348.33 L164.00,348.73 L164.50,349.08 L165.00,349.37 L165.50,349.58 L166.00,349.70 L166.50,349.77 L167.00,349.79 L167.50,349.78 L168.00,349.75 L168.50,349.71 L169.00,349.65 L169.50,349.52 L170.00,349.27 L170.50,348.81 L171.00,348.08 L171.50,346.98 L172.00,345.50 L172.50,343.69 L173.00,341.59 L173.50,339.32 L174.00,337.01 L174.50,334.85 L175.00,332.94 L175.50,331.35 L176.00,330.10 L176.50,329.20 L177.00,328.64 L177.50,328.40 L178.00,328.49 L178.50,328.92 L179.00,329.72 L179.50,330.83 L180.00,332.20 L180.50,333.80 L181.00,335.55 L181.50,337.34 L182.00,339.06 L182.50,340.62 L183.00,341.98 L183.50,343.14 L184.00,344.09 L184.50,344.82 L185.00,345.35 L185.50,345.69 L186.00,345.87 L186.50,345.90 L187.00,345.78 L187.50,345.52 L188.00,345.15 L188.50,344.74 L189.00,344.31 L189.50,343.91 L190.00,343.58 L190.50,343.35 L191.00,343.25 L191.50,343.32 L192.00,343.53 L192.50,343.86 L193.00,344.27 L193.50,344.71 L194.00,345.17 L194.50,345.63 L195.00,346.08 L195.50,346.48 L196.00,346.83 L196.50,347.10 L197.00,347.29 L197.50,347.41 L198.00,347.48 L198.50,347.52 L199.00,347.54 L199.50,347.54 L200.00,347.55 L200.50,347.57 L201.00,347.62 L201.50,347.70 L202.00,347.82 L202.50,347.99 L203.00,348.18 L203.50,348.42 L204.00,348.68 L204.50,348.97 L205.00,349.29 L205.50,349.64 L206.00,350.01 L206.50,350.37 L207.00,350.71 L207.50,351.01 L208.00,351.26 L208.50,351.42 L209.00,351.49 L209.50,351.46 L210.00,351.34 L210.50,351.17 L211.00,350.96 L211.50,350.75 L212.00,350.56 L212.50,350.42 L213.00,350.34 L213.50,350.31 L214.00,350.31 L214.50,350.33 L215.00,350.33 L215.50,350.29 L216.00,350.18 L216.50,349.96 L217.00,349.59 L217.50,349.04 L218.00,348.33 L218.50,347.46 L219.00,346.44 L219.50,345.29 L220.00,343.99 L220.50,342.59 L221.00,341.13 L221.50,339.64 L222.00,338.18 L222.50,336.75 L223.00,335.36 L223.50,334.00 L224.00,332.67 L224.50,331.35 L225.00,330.05 L225.50,328.76 L226.00,327.48 L226.50,326.20 L227.00,324.94 L227.50,323.71 L228.00,322.54 L228.50,321.44 L229.00,320.42 L229.50,319.49 L230.00,318.65 L230.50,317.92 L231.00,317.30 L231.50,316.79 L232.00,316.39 L232.50,316.07 L233.00,315.81 L233.50,315.62 L234.00,315.46 L234.50,315.34 L235.00,315.24 L235.50,315.16 L236.00,315.09 L236.50,315.04 L237.00,315.00 L237.50,315.00 L238.00,315.05 L238.50,315.22 L239.00,315.55 L239.50,316.11 L240.00,316.96 L240.50,318.16 L241.00,319.72 L241.50,321.55 L242.00,323.54 L242.50,325.57 L243.00,327.61 L243.50,329.58 L244.00,331.41 L244.50,333.05 L245.00,334.47 L245.50,335.62 L246.00,336.46 L246.50,336.93 L247.00,337.01 L247.50,336.75 L248.00,336.26 L248.50,335.65 L249.00,335.01 L249.50,334.43 L250.00,333.93 L250.50,333.57 L251.00,333.38 L251.50,333.38 L252.00,333.57 L252.50,333.91 L253.00,334.35 L253.50,334.83 L254.00,335.32 L254.50,335.79 L255.00,336.23 L255.50,336.64 L256.00,337.00 L256.50,337.30 L257.00,337.55 L257.50,337.73 L258.00,337.86 L258.50,337.93 L259.00,337.94 L259.50,337.88 L260.00,337.71 L260.50,337.43 L261.00,337.02 L261.50,336.50 L262.00,335.88 L262.50,335.17 L263.00,334.36 L263.50,333.47 L264.00,332.52 L264.50,331.56 L265.00,330.65 L265.50,329.85 L266.00,329.19 L266.50,328.69 L267.00,328.33 L267.50,328.13 L268.00,328.08 L268.50,328.16 L269.00,328.33 L269.50,328.57 L270.00,328.86 L270.50,329.18 L271.00,329.53 L271.50,329.91 L272.00,330.34 L272.50,330.83 L273.00,331.38 L273.50,332.00 L274.00,332.71 L274.50,333.49 L275.00,334.32 L275.50,335.19 L276.00,336.08 L276.50,336.96 L277.00,337.81 L277.50,338.63 L278.00,339.43 L278.50,340.19 L279.00,340.94 L279.50,341.67 L280.00,342.39 L280.50,343.11 L281.00,343.83 L281.50,344.55 L282.00,345.28 L282.50,346.00 L283.00,346.71 L283.50,347.36 L284.00,347.84" fill="none" stroke="#a03030" stroke-width="0.95" stroke-linejoin="round"/>
<path d="M26.50,353.84 L27.00,353.54 L27.50,353.13 L28.00,352.69 L28.50,352.26 L29.00,351.83 L29.50,351.41 L30.00,351.02 L30.50,350.70 L31.00,350.51 L31.50,350.49 L32.00,350.66 L32.50,351.00 L33.00,351.46 L33.50,351.98 L34.00,352.49 L34.50,352.97 L35.00,353.39 L35.50,353.74 L36.00,354.03 L36.50,354.23 L37.00,354.33 L37.50,354.32 L38.00,354.21 L38.50,353.98 L39.00,353.66 L39.50,353.26 L40.00,352.78 L40.50,352.24 L41.00,351.64 L41.50,350.98 L42.00,350.26 L42.50,349.47 L43.00,348.64 L43.50,347.76 L44.00,346.86 L44.50,345.94 L45.00,345.00 L45.50,344.05 L46.00,343.10 L46.50,342.17 L47.00,341.28 L47.50,340.46 L48.00,339.73 L48.50,339.12 L49.00,338.66 L49.50,338.41 L50.00,338.42 L50.50,338.69 L51.00,339.20 L51.50,339.86 L52.00,340.61 L52.50,341.40 L53.00,342.21 L53.50,343.04 L54.00,343.87 L54.50,344.72 L55.00,345.56 L55.50,346.40 L56.00,347.25 L56.50,348.09 L57.00,348.93 L57.50,349.76 L58.00,350.55 L58.50,351.29 L59.00,351.95 L59.50,352.52 L60.00,352.99 L60.50,353.33 L61.00,353.51 L61.50,353.50 L62.00,353.25 L62.50,352.77 L63.00,352.09 L63.50,351.28 L64.00,350.39 L64.50,349.46 L65.00,348.51 L65.50,347.61 L66.00,346.81 L66.50,346.14 L67.00,345.66 L67.50,345.36 L68.00,345.28 L68.50,345.43 L69.00,345.79 L69.50,346.31 L70.00,346.89 L70.50,347.45 L71.00,347.91 L71.50,348.20 L72.00,348.21 L72.50,347.86 L73.00,347.15 L73.50,346.15 L74.00,344.99 L74.50,343.77 L75.00,342.56 L75.50,341.42 L76.00,340.38 L76.50,339.48 L77.00,338.79 L77.50,338.33 L78.00,338.14 L78.50,338.25 L79.00,338.69 L79.50,339.38 L80.00,340.21 L80.50,341.06 L81.00,341.83 L81.50,342.47 L82.00,342.96 L82.50,343.24 L83.00,343.29 L83.50,343.05 L84.00,342.52 L84.50,341.68 L85.00,340.55 L85.50,339.12 L86.00,337.39 L86.50,335.41 L87.00,333.27 L87.50,331.03 L88.00,328.76 L88.50,326.48 L89.00,324.20 L89.50,321.97 L90.00,319.83 L90.50,317.81 L91.00,315.91 L91.50,314.17 L92.00,312.58 L92.50,311.17 L93.00,309.97 L93.50,308.98 L94.00,308.17 L94.50,307.50 L95.00,306.94 L95.50,306.43 L96.00,305.94 L96.50,305.44 L97.00,304.93 L97.50,304.41 L98.00,303.88 L98.50,303.39 L99.00,302.93 L99.50,302.52 L100.00,302.18 L100.50,301.88 L101.00,301.65 L101.50,301.48 L102.00,301.39 L102.50,301.41 L103.00,301.59 L103.50,301.98 L104.00,302.65 L104.50,303.69 L105.00,305.20 L105.50,307.23 L106.00,309.76 L106.50,312.71 L107.00,315.99 L107.50,319.53 L108.00,323.18 L108.50,326.76 L109.00,330.14 L109.50,333.27 L110.00,336.12 L110.50,338.66 L111.00,340.88 L111.50,342.77 L112.00,344.30 L112.50,345.43 L113.00,346.05 L113.50,346.08 L114.00,345.55 L114.50,344.61 L115.00,343.46 L115.50,342.31 L116.00,341.27 L116.50,340.39 L117.00,339.67 L117.50,339.14 L118.00,338.87 L118.50,338.96 L119.00,339.49 L119.50,340.45 L120.00,341.80 L120.50,343.44 L121.00,345.25 L121.50,347.09 L122.00,348.82 L122.50,350.41 L123.00,351.84 L123.50,353.12 L124.00,354.23 L124.50,355.20 L125.00,356.05 L125.50,356.80 L126.00,357.47 L126.50,358.10 L127.00,358.70 L127.50,359.28 L128.00,359.86 L128.50,360.43 L129.00,361.01 L129.50,361.59 L130.00,362.18 L130.50,362.77 L131.00,363.38 L131.50,364.00 L132.00,364.60 L132.50,365.15 L133.00,365.59 L133.50,365.87 L134.00,365.98 L134.50,365.92 L135.00,365.72 L135.50,365.41 L136.00,365.02 L136.50,364.59 L137.00,364.15 L137.50,363.71 L138.00,363.27 L138.50,362.84 L139.00,362.42 L139.50,362.01 L140.00,361.60 L140.50,361.20 L141.00,360.80 L141.50,360.41 L142.00,360.01 L142.50,359.61 L143.00,359.20 L143.50,358.78 L144.00,358.34 L144.50,357.88 L145.00,357.39 L145.50,356.87 L146.00,356.32 L146.50,355.72 L147.00,355.07 L147.50,354.35 L148.00,353.56 L148.50,352.68 L149.00,351.71 L149.50,350.66 L150.00,349.54 L150.50,348.34 L151.00,347.08 L151.50,345.81 L152.00,344.56 L152.50,343.40 L153.00,342.36 L153.50,341.43 L154.00,340.63 L154.50,339.95 L155.00,339.41 L155.50,339.01 L156.00,338.76 L156.50,338.68 L157.00,338.80 L157.50,339.10 L158.00,339.53 L158.50,339.98 L159.00,340.39 L159.50,340.71 L160.00,340.89 L160.50,340.90 L161.00,340.66 L161.50,340.13 L162.00,339.24 L162.50,337.98 L163.00,336.31 L163.50,334.22 L164.00,331.76 L164.50,329.00 L165.00,326.04 L165.50,323.04 L166.00,320.19 L166.50,317.65 L167.00,315.52 L167.50,313.82 L168.00,312.56 L168.50,311.73 L169.00,311.33 L169.50,311.35 L170.00,311.80 L170.50,312.61 L171.00,313.64 L171.50,314.77 L172.00,315.90 L172.50,316.92 L173.00,317.74 L173.50,318.23 L174.00,318.29 L174.50,317.89 L175.00,317.08 L175.50,316.00 L176.00,314.79 L176.50,313.56 L177.00,312.37 L177.50,311.25 L178.00,310.23 L178.50,309.33 L179.00,308.58 L179.50,308.00 L180.00,307.58 L180.50,307.34 L181.00,307.32 L181.50,307.57 L182.00,308.14 L182.50,309.04 L183.00,310.27 L183.50,311.82 L184.00,313.63 L184.50,315.57 L185.00,317.46 L185.50,319.18 L186.00,320.66 L186.50,321.90 L187.00,322.94 L187.50,323.78 L188.00,324.46 L188.50,324.96 L189.00,325.25 L189.50,325.31 L190.00,325.13 L190.50,324.78 L191.00,324.33 L191.50,323.84 L192.00,323.39 L192.50,322.99 L193.00,322.70 L193.50,322.55 L194.00,322.58 L194.50,322.80 L195.00,323.18 L195.50,323.69 L196.00,324.29 L196.50,324.96 L197.00,325.68 L197.50,326.43 L198.00,327.15 L198.50,327.82 L199.00,328.39 L199.50,328.85 L200.00,329.17 L200.50,329.33 L201.00,329.30 L201.50,329.05 L202.00,328.60 L202.50,328.02 L203.00,327.38 L203.50,326.75 L204.00,326.18 L204.50,325.74 L205.00,325.50 L205.50,325.55 L206.00,325.90 L206.50,326.49 L207.00,327.25 L207.50,328.06 L208.00,328.86 L208.50,329.61 L209.00,330.29 L209.50,330.89 L210.00,331.39 L210.50,331.79 L211.00,332.10 L211.50,332.35 L212.00,332.57 L212.50,332.79 L213.00,333.03 L213.50,333.31 L214.00,333.65 L214.50,334.05 L215.00,334.51 L215.50,335.00 L216.00,335.52 L216.50,336.06 L217.00,336.58 L217.50,337.04 L218.00,337.35 L218.50,337.43 L219.00,337.18 L219.50,336.58 L220.00,335.64 L220.50,334.38 L221.00,332.82 L221.50,330.98 L222.00,328.91 L222.50,326.72 L223.00,324.50 L223.50,322.34 L224.00,320.28 L224.50,318.33 L225.00,316.49 L225.50,314.78 L226.00,313.20 L226.50,311.74 L227.00,310.38 L227.50,309.09 L228.00,307.85 L228.50,306.63 L229.00,305.41 L229.50,304.19 L230.00,302.96 L230.50,301.69 L231.00,300.37 L231.50,298.99 L232.00,297.53 L232.50,295.98 L233.00,294.35 L233.50,292.67 L234.00,291.01 L234.50,289.40 L235.00,287.92 L235.50,286.68 L236.00,285.88 L236.50,285.73 L237.00,286.29 L237.50,287.46 L238.00,289.05 L238.50,290.96 L239.00,293.12 L239.50,295.51 L240.00,298.13 L240.50,300.94 L241.00,303.91 L241.50,306.95 L242.00,309.87 L242.50,312.46 L243.00,314.59 L243.50,316.29 L244.00,317.63 L244.50,318.71 L245.00,319.59 L245.50,320.34 L246.00,320.99 L246.50,321.58 L247.00,322.12 L247.50,322.63 L248.00,323.11 L248.50,323.55 L249.00,323.92 L249.50,324.21 L250.00,324.37 L250.50,324.39 L251.00,324.27 L251.50,324.04 L252.00,323.74 L252.50,323.40 L253.00,323.08 L253.50,322.81 L254.00,322.60 L254.50,322.44 L255.00,322.30 L255.50,322.16 L256.00,321.99 L256.50,321.75 L257.00,321.43 L257.50,321.02 L258.00,320.52 L258.50,319.96 L259.00,319.33 L259.50,318.66 L260.00,317.99 L260.50,317.36 L261.00,316.85 L261.50,316.52 L262.00,316.42 L262.50,316.61 L263.00,317.09 L263.50,317.83 L264.00,318.72 L264.50,319.74 L265.00,320.84 L265.50,321.98 L266.00,323.12 L266.50,324.22 L267.00,325.24 L267.50,326.12 L268.00,326.74 L268.50,327.01 L269.00,326.85 L269.50,326.24 L270.00,325.24 L270.50,323.90 L271.00,322.26 L271.50,320.35 L272.00,318.20 L272.50,315.87 L273.00,313.43 L273.50,310.96 L274.00,308.51 L274.50,306.19 L275.00,304.11 L275.50,302.36 L276.00,300.95 L276.50,299.86 L277.00,299.06 L277.50,298.53 L278.00,298.21 L278.50,298.11 L279.00,298.21 L279.50,298.53 L280.00,299.05 L280.50,299.75 L281.00,300.62 L281.50,301.66 L282.00,302.83 L282.50,304.10 L283.00,305.41 L283.50,306.63 L284.00,307.55" fill="none" stroke="#2828a4" stroke-width="0.95" stroke-linejoin="round"/>
<path d="M26.50,329.61 L27.00,329.30 L27.50,328.97 L28.00,328.76 L28.50,328.76 L29.00,329.03 L29.50,329.60 L30.00,330.43 L30.50,331.45 L31.00,332.59 L31.50,333.81 L32.00,335.08 L32.50,336.36 L33.00,337.61 L33.50,338.77 L34.00,339.79 L34.50,340.65 L35.00,341.36 L35.50,341.92 L36.00,342.35 L36.50,342.63 L37.00,342.76 L37.50,342.74 L38.00,342.55 L38.50,342.22 L39.00,341.75 L39.50,341.15 L40.00,340.45 L40.50,339.65 L41.00,338.74 L41.50,337.70 L42.00,336.55 L42.50,335.30 L43.00,333.95 L43.50,332.52 L44.00,331.02 L44.50,329.45 L45.00,327.84 L45.50,326.26 L46.00,324.82 L46.50,323.61 L47.00,322.69 L47.50,322.08 L48.00,321.82 L48.50,321.93 L49.00,322.45 L49.50,323.33 L50.00,324.53 L50.50,325.98 L51.00,327.66 L51.50,329.46 L52.00,331.25 L52.50,332.88 L53.00,334.24 L53.50,335.30 L54.00,336.10 L54.50,336.67 L55.00,337.04 L55.50,337.25 L56.00,337.35 L56.50,337.39 L57.00,337.42 L57.50,337.47 L58.00,337.57 L58.50,337.76 L59.00,338.03 L59.50,338.37 L60.00,338.74 L60.50,339.07 L61.00,339.32 L61.50,339.41 L62.00,339.28 L62.50,338.87 L63.00,338.15 L63.50,337.15 L64.00,335.95 L64.50,334.62 L65.00,333.23 L65.50,331.79 L66.00,330.37 L66.50,329.03 L67.00,327.83 L67.50,326.80 L68.00,325.96 L68.50,325.30 L69.00,324.86 L69.50,324.64 L70.00,324.61 L70.50,324.73 L71.00,324.97 L71.50,325.28 L72.00,325.61 L72.50,325.87 L73.00,325.95 L73.50,325.75 L74.00,325.20 L74.50,324.33 L75.00,323.23 L75.50,322.02 L76.00,320.79 L76.50,319.60 L77.00,318.52 L77.50,317.63 L78.00,317.04 L78.50,316.80 L79.00,316.88 L79.50,317.21 L80.00,317.72 L80.50,318.30 L81.00,318.89 L81.50,319.42 L82.00,319.83 L82.50,320.04 L83.00,319.96 L83.50,319.48 L84.00,318.54 L84.50,317.04 L85.00,314.93 L85.50,312.30 L86.00,309.31 L86.50,306.17 L87.00,302.88 L87.50,299.28 L88.00,295.15 L88.50,290.41 L89.00,285.23 L89.50,280.02 L90.00,275.19 L90.50,271.10 L91.00,267.93 L91.50,265.64 L92.00,264.07 L92.50,263.09 L93.00,262.55 L93.50,262.37 L94.00,262.48 L94.50,262.76 L95.00,263.08 L95.50,263.31 L96.00,263.36 L96.50,263.17 L97.00,262.65 L97.50,261.67 L98.00,260.17 L98.50,258.12 L99.00,255.59 L99.50,252.76 L100.00,249.89 L100.50,247.22 L101.00,244.94 L101.50,243.20 L102.00,242.07 L102.50,241.51 L103.00,241.51 L103.50,242.10 L104.00,243.40 L104.50,245.55 L105.00,248.66 L105.50,252.71 L106.00,257.52 L106.50,262.84 L107.00,268.38 L107.50,273.92 L108.00,279.33 L108.50,284.66 L109.00,290.05 L109.50,295.73 L110.00,301.72 L110.50,307.83 L111.00,313.63 L111.50,318.64 L112.00,322.49 L112.50,325.04 L113.00,326.34 L113.50,326.46 L114.00,325.55 L114.50,323.83 L115.00,321.61 L115.50,319.14 L116.00,316.61 L116.50,314.22 L117.00,312.16 L117.50,310.59 L118.00,309.62 L118.50,309.34 L119.00,309.88 L119.50,311.39 L120.00,313.98 L120.50,317.68 L121.00,322.23 L121.50,327.09 L122.00,331.70 L122.50,335.79 L123.00,339.32 L123.50,342.36 L124.00,344.99 L124.50,347.29 L125.00,349.30 L125.50,351.06 L126.00,352.60 L126.50,353.94 L127.00,355.11 L127.50,356.16 L128.00,357.10 L128.50,357.97 L129.00,358.79 L129.50,359.59 L130.00,360.37 L130.50,361.14 L131.00,361.93 L131.50,362.75 L132.00,363.60 L132.50,364.44 L133.00,365.17 L133.50,365.60 L134.00,365.56 L134.50,365.00 L135.00,364.01 L135.50,362.73 L136.00,361.29 L136.50,359.77 L137.00,358.22 L137.50,356.71 L138.00,355.28 L138.50,353.98 L139.00,352.83 L139.50,351.83 L140.00,350.97 L140.50,350.27 L141.00,349.73 L141.50,349.33 L142.00,349.07 L142.50,348.94 L143.00,348.93 L143.50,349.02 L144.00,349.14 L144.50,349.25 L145.00,349.28 L145.50,349.21 L146.00,349.02 L146.50,348.67 L147.00,348.11 L147.50,347.27 L148.00,346.11 L148.50,344.58 L149.00,342.65 L149.50,340.34 L150.00,337.75 L150.50,334.93 L151.00,331.98 L151.50,329.00 L152.00,326.09 L152.50,323.35 L153.00,320.86 L153.50,318.70 L154.00,316.95 L154.50,315.62 L155.00,314.68 L155.50,314.12 L156.00,313.91 L156.50,313.98 L157.00,314.25 L157.50,314.63 L158.00,315.06 L158.50,315.48 L159.00,315.84 L159.50,316.13 L160.00,316.30 L160.50,316.29 L161.00,316.06 L161.50,315.53 L162.00,314.63 L162.50,313.31 L163.00,311.60 L163.50,309.65 L164.00,307.56 L164.50,305.37 L165.00,303.04 L165.50,300.45 L166.00,297.59 L166.50,294.60 L167.00,291.88 L167.50,289.82 L168.00,288.57 L168.50,288.02 L169.00,287.97 L169.50,288.21 L170.00,288.58 L170.50,288.93 L171.00,289.11 L171.50,289.01 L172.00,288.56 L172.50,287.68 L173.00,286.31 L173.50,284.43 L174.00,282.13 L174.50,279.63 L175.00,277.09 L175.50,274.64 L176.00,272.36 L176.50,270.31 L177.00,268.56 L177.50,267.13 L178.00,266.08 L178.50,265.42 L179.00,265.15 L179.50,265.31 L180.00,265.92 L180.50,267.07 L181.00,268.79 L181.50,271.06 L182.00,273.73 L182.50,276.56 L183.00,279.36 L183.50,282.02 L184.00,284.48 L184.50,286.69 L185.00,288.66 L185.50,290.37 L186.00,291.85 L186.50,293.11 L187.00,294.16 L187.50,295.00 L188.00,295.63 L188.50,296.09 L189.00,296.40 L189.50,296.58 L190.00,296.66 L190.50,296.66 L191.00,296.58 L191.50,296.48 L192.00,296.40 L192.50,296.39 L193.00,296.49 L193.50,296.73 L194.00,297.14 L194.50,297.67 L195.00,298.31 L195.50,299.01 L196.00,299.78 L196.50,300.58 L197.00,301.37 L197.50,302.12 L198.00,302.78 L198.50,303.33 L199.00,303.77 L199.50,304.08 L200.00,304.26 L200.50,304.30 L201.00,304.21 L201.50,304.01 L202.00,303.73 L202.50,303.41 L203.00,303.06 L203.50,302.73 L204.00,302.46 L204.50,302.32 L205.00,302.38 L205.50,302.67 L206.00,303.20 L206.50,303.91 L207.00,304.74 L207.50,305.64 L208.00,306.58 L208.50,307.50 L209.00,308.34 L209.50,309.03 L210.00,309.56 L210.50,309.93 L211.00,310.19 L211.50,310.38 L212.00,310.57 L212.50,310.78 L213.00,311.06 L213.50,311.42 L214.00,311.85 L214.50,312.33 L215.00,312.83 L215.50,313.34 L216.00,313.81 L216.50,314.18 L217.00,314.36 L217.50,314.26 L218.00,313.78 L218.50,312.87 L219.00,311.46 L219.50,309.50 L220.00,306.90 L220.50,303.64 L221.00,299.78 L221.50,295.40 L222.00,290.67 L222.50,285.87 L223.00,281.29 L223.50,277.08 L224.00,273.27 L224.50,269.80 L225.00,266.59 L225.50,263.59 L226.00,260.74 L226.50,258.04 L227.00,255.45 L227.50,252.98 L228.00,250.60 L228.50,248.30 L229.00,246.08 L229.50,243.92 L230.00,241.80 L230.50,239.72 L231.00,237.69 L231.50,235.70 L232.00,233.78 L232.50,231.91 L233.00,230.11 L233.50,228.40 L234.00,226.81 L234.50,225.38 L235.00,224.16 L235.50,223.20 L236.00,222.62 L236.50,222.56 L237.00,223.11 L237.50,224.30 L238.00,226.16 L238.50,228.68 L239.00,231.79 L239.50,235.35 L240.00,239.25 L240.50,243.39 L241.00,247.66 L241.50,252.00 L242.00,256.34 L242.50,260.63 L243.00,264.81 L243.50,268.80 L244.00,272.48 L244.50,275.67 L245.00,278.29 L245.50,280.36 L246.00,281.95 L246.50,283.15 L247.00,284.04 L247.50,284.66 L248.00,285.04 L248.50,285.15 L249.00,285.02 L249.50,284.73 L250.00,284.37 L250.50,284.04 L251.00,283.78 L251.50,283.62 L252.00,283.58 L252.50,283.68 L253.00,283.91 L253.50,284.27 L254.00,284.72 L254.50,285.23 L255.00,285.77 L255.50,286.30 L256.00,286.73 L256.50,286.96 L257.00,286.91 L257.50,286.54 L258.00,285.89 L258.50,285.01 L259.00,284.00 L259.50,282.90 L260.00,281.74 L260.50,280.60 L261.00,279.52 L261.50,278.56 L262.00,277.75 L262.50,277.10 L263.00,276.68 L263.50,276.51 L264.00,276.61 L264.50,276.96 L265.00,277.49 L265.50,278.13 L266.00,278.82 L266.50,279.53 L267.00,280.24 L267.50,280.91 L268.00,281.51 L268.50,281.98 L269.00,282.23 L269.50,282.11 L270.00,281.48 L270.50,280.30 L271.00,278.61 L271.50,276.48 L272.00,274.01 L272.50,271.36 L273.00,268.76 L273.50,266.41 L274.00,264.44 L274.50,262.85 L275.00,261.62 L275.50,260.69 L276.00,260.04 L276.50,259.64 L277.00,259.49 L277.50,259.62 L278.00,260.03 L278.50,260.76 L279.00,261.81 L279.50,263.19 L280.00,264.84 L280.50,266.65 L281.00,268.54 L281.50,270.49 L282.00,272.52 L282.50,274.67 L283.00,276.91 L283.50,279.06 L284.00,280.71" fill="none" stroke="#1a1a1a" stroke-width="0.95" stroke-linejoin="round"/>
<path d="M286.3,223.6 H296.2" stroke="#1a1a1a" stroke-width="0.8" opacity="0.7"/>
<text x="299.9" y="225.7" font-family="Liberation Serif" font-size="6.41" font-weight="normal" text-anchor="start" textLength="16.5" lengthAdjust="spacingAndGlyphs" stroke="#222" stroke-width="0.12">Total</text>
<path d="M286.3,229.7 H296.2" stroke="#a03030" stroke-width="0.8" opacity="0.7"/>
<text x="299.9" y="231.8" font-family="Liberation Serif" font-size="6.41" font-weight="normal" text-anchor="start" textLength="28.9" lengthAdjust="spacingAndGlyphs" stroke="#222" stroke-width="0.12">Acceptor</text>
<path d="M286.3,235.8 H296.2" stroke="#2828a4" stroke-width="0.8" opacity="0.7"/>
<text x="299.9" y="237.9" font-family="Liberation Serif" font-size="6.41" font-weight="normal" text-anchor="start" textLength="18.8" lengthAdjust="spacingAndGlyphs" stroke="#222" stroke-width="0.12">Donor</text>
<path d="M286.3,241.9 H296.2" stroke="#c032c0" stroke-width="0.8" opacity="0.7"/>
<text x="299.9" y="244.0" font-family="Liberation Serif" font-size="6.41" font-weight="normal" text-anchor="start" textLength="21.0" lengthAdjust="spacingAndGlyphs" stroke="#222" stroke-width="0.12">Bridge</text>
<text x="162.8" y="401.3" font-family="Liberation Sans" font-size="16.50" font-weight="bold" text-anchor="middle" style="fill:#000;stroke:#000;stroke-width:0.35px">A3</text>
</g>
<g id="A4">
<path d="M370.5,217.8 V372.8 M636.5,217.8 V372.8" fill="none" stroke="#555" stroke-width="1.0"/>
<text x="358.9" y="371.4" font-family="Liberation Serif" font-size="7.21" font-weight="normal" text-anchor="middle" textLength="13.6" lengthAdjust="spacingAndGlyphs" >0.00</text>
<path d="M370.5,338.6 h-2.6" stroke="#444" stroke-width="0.9"/>
<text x="358.9" y="341.0" font-family="Liberation Serif" font-size="7.21" font-weight="normal" text-anchor="middle" textLength="13.6" lengthAdjust="spacingAndGlyphs" >0.50</text>
<path d="M370.5,308.2 h-2.6" stroke="#444" stroke-width="0.9"/>
<text x="358.9" y="310.6" font-family="Liberation Serif" font-size="7.21" font-weight="normal" text-anchor="middle" textLength="12.5" lengthAdjust="spacingAndGlyphs" >1.00</text>
<path d="M370.5,277.8 h-2.6" stroke="#444" stroke-width="0.9"/>
<text x="358.9" y="280.2" font-family="Liberation Serif" font-size="7.21" font-weight="normal" text-anchor="middle" textLength="12.5" lengthAdjust="spacingAndGlyphs" >1.50</text>
<path d="M370.5,247.4 h-2.6" stroke="#444" stroke-width="0.9"/>
<text x="358.9" y="249.8" font-family="Liberation Serif" font-size="7.21" font-weight="normal" text-anchor="middle" textLength="13.6" lengthAdjust="spacingAndGlyphs" >2.00</text>
<text x="358.9" y="219.4" font-family="Liberation Serif" font-size="7.21" font-weight="normal" text-anchor="middle" textLength="13.6" lengthAdjust="spacingAndGlyphs" >2.50</text>
<path d="M370.5,369.0 v3.8" stroke="#555" stroke-width="0.9"/>
<text x="370.8" y="379.6" font-family="Liberation Serif" font-size="7.21" font-weight="normal" text-anchor="middle" textLength="22.4" lengthAdjust="spacingAndGlyphs" >−25.00</text>
<path d="M423.7,369.0 v3.8" stroke="#555" stroke-width="0.9"/>
<text x="424.0" y="379.6" font-family="Liberation Serif" font-size="7.21" font-weight="normal" text-anchor="middle" textLength="21.3" lengthAdjust="spacingAndGlyphs" >−15.00</text>
<path d="M476.9,369.0 v3.8" stroke="#555" stroke-width="0.9"/>
<text x="477.2" y="379.6" font-family="Liberation Serif" font-size="7.21" font-weight="normal" text-anchor="middle" textLength="17.9" lengthAdjust="spacingAndGlyphs" >−5.00</text>
<path d="M530.1,369.0 v3.8" stroke="#555" stroke-width="0.9"/>
<text x="530.1" y="379.6" font-family="Liberation Serif" font-size="7.21" font-weight="normal" text-anchor="middle" textLength="13.6" lengthAdjust="spacingAndGlyphs" >5.00</text>
<path d="M583.3,369.0 v3.8" stroke="#555" stroke-width="0.9"/>
<text x="583.3" y="379.6" font-family="Liberation Serif" font-size="7.21" font-weight="normal" text-anchor="middle" textLength="16.8" lengthAdjust="spacingAndGlyphs" >15.00</text>
<path d="M636.5,369.0 v3.8" stroke="#555" stroke-width="0.9"/>
<text x="636.5" y="379.6" font-family="Liberation Serif" font-size="7.21" font-weight="normal" text-anchor="middle" textLength="17.9" lengthAdjust="spacingAndGlyphs" >25.00</text>
<text x="503.5" y="386.8" font-family="Liberation Serif" font-size="7.10" font-weight="normal" text-anchor="middle" textLength="38.0" lengthAdjust="spacingAndGlyphs" >Energy (eV)</text>
<text x="348.3" y="293.5" font-family="Liberation Serif" font-size="7.10" font-weight="normal" text-anchor="middle" textLength="58.9" lengthAdjust="spacingAndGlyphs" transform="rotate(-90 348.3 293.5)">Density−of−states</text>
<path d="M367.7,369.5 H637.0" stroke="#505050" stroke-width="1"/>
<path d="M381.4,369.3 v-1.1 M395.1,369.3 v-1.7 M409.0,369.3 v-1.3 M414.4,369.3 v-1.4 M415.3,369.3 v-1.4 M424.0,369.3 v-1.8 M444.4,369.3 v-1.4 M456.9,369.3 v-1.2 M471.0,369.3 v-1.5 M475.8,369.3 v-1.2 M478.4,369.3 v-1.6 M480.6,369.3 v-1.3 M501.9,369.3 v-1.8 M510.3,369.3 v-1.4 M527.4,369.3 v-1.4 M529.7,369.3 v-1.5 M530.8,369.3 v-1.7 M545.9,369.3 v-1.3 M555.0,369.3 v-1.5 M569.8,369.3 v-1.2 M595.5,369.3 v-1.2 M597.6,369.3 v-1.6 M601.7,369.3 v-1.8" stroke="#9a9ae8" stroke-width="0.9" opacity="0.85" fill="none"/>
<path d="M371.4,369.3 v-1.8 M372.3,369.3 v-1.0 M373.2,369.3 v-1.8 M374.1,369.3 v-1.0 M375.2,369.3 v-1.4 M377.2,369.3 v-1.0 M382.2,369.3 v-1.6 M386.7,369.3 v-1.8 M388.0,369.3 v-1.5 M389.1,369.3 v-1.3 M390.2,369.3 v-1.6 M397.6,369.3 v-1.2 M398.4,369.3 v-1.3 M402.5,369.3 v-1.1 M406.6,369.3 v-1.1 M410.8,369.3 v-1.4 M411.9,369.3 v-1.0 M413.6,369.3 v-1.0 M417.0,369.3 v-1.5 M417.9,369.3 v-1.1 M420.0,369.3 v-1.8 M425.3,369.3 v-1.3 M426.4,369.3 v-1.0 M427.7,369.3 v-1.7 M430.1,369.3 v-1.1 M433.1,369.3 v-1.6 M437.2,369.3 v-1.2 M438.1,369.3 v-1.1 M442.7,369.3 v-1.0 M448.8,369.3 v-1.2 M450.9,369.3 v-1.2 M452.2,369.3 v-1.6 M455.9,369.3 v-1.7 M459.3,369.3 v-1.4 M461.4,369.3 v-1.3 M468.8,369.3 v-1.1 M473.4,369.3 v-1.2 M477.5,369.3 v-1.3 M479.3,369.3 v-1.7 M483.0,369.3 v-1.1 M485.8,369.3 v-1.1 M486.8,369.3 v-1.4 M490.5,369.3 v-1.5 M495.3,369.3 v-1.8 M497.7,369.3 v-1.7 M500.1,369.3 v-1.2 M505.3,369.3 v-1.3 M507.7,369.3 v-1.2 M508.6,369.3 v-1.1 M509.4,369.3 v-1.6 M511.3,369.3 v-1.2 M514.3,369.3 v-1.2 M515.2,369.3 v-1.6 M533.3,369.3 v-1.3 M534.3,369.3 v-1.6 M536.4,369.3 v-1.1 M540.1,369.3 v-1.5 M540.9,369.3 v-1.4 M543.2,369.3 v-1.2 M550.2,369.3 v-1.0 M553.9,369.3 v-1.0 M556.0,369.3 v-1.2 M558.8,369.3 v-1.7 M559.9,369.3 v-1.5 M561.6,369.3 v-1.6 M563.3,369.3 v-1.4 M564.4,369.3 v-1.4 M565.7,369.3 v-1.1 M568.1,369.3 v-1.4 M571.5,369.3 v-1.8 M573.9,369.3 v-1.1 M574.7,369.3 v-1.7 M575.7,369.3 v-1.8 M577.4,369.3 v-1.1 M580.8,369.3 v-1.2 M581.6,369.3 v-1.8 M586.9,369.3 v-1.1 M591.5,369.3 v-1.0 M593.4,369.3 v-1.6 M606.5,369.3 v-1.5 M607.3,369.3 v-1.7 M612.1,369.3 v-1.1 M612.9,369.3 v-1.7 M615.1,369.3 v-1.5 M616.0,369.3 v-1.1 M618.4,369.3 v-1.4 M619.7,369.3 v-1.2 M621.0,369.3 v-1.0 M622.0,369.3 v-1.6 M622.8,369.3 v-1.6 M630.1,369.3 v-1.6 M633.8,369.3 v-1.8 M634.8,369.3 v-1.0" stroke="#2424a8" stroke-width="0.9" opacity="0.85" fill="none"/>
<path d="M378.2,369.3 v-1.4 M385.0,369.3 v-1.0 M391.0,369.3 v-1.2 M394.3,369.3 v-1.4 M396.8,369.3 v-1.3 M409.9,369.3 v-1.7 M446.1,369.3 v-1.4 M447.1,369.3 v-1.6 M466.4,369.3 v-1.4 M502.7,369.3 v-1.1 M512.6,369.3 v-1.5 M518.8,369.3 v-1.7 M523.3,369.3 v-1.2 M528.7,369.3 v-1.8 M532.5,369.3 v-1.2 M544.0,369.3 v-1.1 M544.9,369.3 v-1.5 M551.1,369.3 v-1.4 M552.2,369.3 v-1.2 M583.7,369.3 v-1.4 M596.5,369.3 v-1.5 M625.3,369.3 v-1.4 M631.8,369.3 v-1.3" stroke="#a03030" stroke-width="0.9" opacity="0.85" fill="none"/>
<path d="M379.3,369.3 v-1.5 M384.2,369.3 v-1.1 M393.3,369.3 v-1.2 M400.8,369.3 v-1.3 M419.0,369.3 v-1.1 M420.8,369.3 v-1.4 M431.4,369.3 v-1.5 M439.0,369.3 v-1.6 M464.2,369.3 v-1.7 M465.5,369.3 v-1.5 M469.9,369.3 v-1.2 M483.8,369.3 v-1.6 M489.2,369.3 v-1.2 M500.9,369.3 v-1.2 M504.4,369.3 v-1.3 M506.4,369.3 v-1.0 M516.0,369.3 v-1.4 M517.7,369.3 v-1.3 M519.8,369.3 v-1.8 M542.2,369.3 v-1.3 M547.6,369.3 v-1.0 M578.4,369.3 v-1.0 M586.1,369.3 v-1.8 M587.8,369.3 v-1.6 M590.2,369.3 v-1.3 M592.6,369.3 v-1.1 M594.4,369.3 v-1.2 M599.3,369.3 v-1.1" stroke="#c032c0" stroke-width="0.9" opacity="0.85" fill="none"/>
<path d="M376.1,369.3 v-1.3 M380.1,369.3 v-1.0 M383.3,369.3 v-1.4 M392.0,369.3 v-1.7 M404.2,369.3 v-1.0 M421.6,369.3 v-1.0 M434.8,369.3 v-1.5 M440.3,369.3 v-1.5 M449.8,369.3 v-1.6 M454.6,369.3 v-1.7 M460.4,369.3 v-1.7 M462.5,369.3 v-1.6 M484.9,369.3 v-1.6 M492.9,369.3 v-1.0 M513.4,369.3 v-1.8 M520.9,369.3 v-1.6 M525.0,369.3 v-1.7 M535.6,369.3 v-1.7 M537.7,369.3 v-1.6 M548.5,369.3 v-1.5 M557.1,369.3 v-1.4 M582.4,369.3 v-1.6 M604.1,369.3 v-1.1 M609.7,369.3 v-1.6 M610.8,369.3 v-1.8 M614.2,369.3 v-1.4 M624.5,369.3 v-1.3 M627.7,369.3 v-1.1 M632.9,369.3 v-1.1" stroke="#202060" stroke-width="0.9" opacity="0.85" fill="none"/>
<path d="M370.50,366.63 L371.00,366.51 L371.50,366.35 L372.00,366.21 L372.50,366.10 L373.00,366.04 L373.50,366.02 L374.00,366.06 L374.50,366.16 L375.00,366.31 L375.50,366.49 L376.00,366.69 L376.50,366.91 L377.00,367.13 L377.50,367.34 L378.00,367.55 L378.50,367.75 L379.00,367.92 L379.50,368.05 L380.00,368.14 L380.50,368.17 L381.00,368.15 L381.50,368.07 L382.00,367.95 L382.50,367.79 L383.00,367.59 L383.50,367.36 L384.00,367.10 L384.50,366.83 L385.00,366.54 L385.50,366.22 L386.00,365.90 L386.50,365.57 L387.00,365.25 L387.50,364.96 L388.00,364.71 L388.50,364.50 L389.00,364.34 L389.50,364.22 L390.00,364.15 L390.50,364.14 L391.00,364.17 L391.50,364.28 L392.00,364.44 L392.50,364.65 L393.00,364.90 L393.50,365.18 L394.00,365.48 L394.50,365.79 L395.00,366.11 L395.50,366.44 L396.00,366.76 L396.50,367.04 L397.00,367.29 L397.50,367.48 L398.00,367.61 L398.50,367.70 L399.00,367.75 L399.50,367.77 L400.00,367.76 L400.50,367.72 L401.00,367.65 L401.50,367.56 L402.00,367.42 L402.50,367.25 L403.00,367.05 L403.50,366.82 L404.00,366.57 L404.50,366.32 L405.00,366.07 L405.50,365.83 L406.00,365.58 L406.50,365.35 L407.00,365.12 L407.50,364.92 L408.00,364.74 L408.50,364.60 L409.00,364.50 L409.50,364.44 L410.00,364.40 L410.50,364.39 L411.00,364.41 L411.50,364.44 L412.00,364.51 L412.50,364.59 L413.00,364.70 L413.50,364.82 L414.00,364.93 L414.50,365.02 L415.00,365.08 L415.50,365.08 L416.00,365.01 L416.50,364.88 L417.00,364.67 L417.50,364.42 L418.00,364.14 L418.50,363.83 L419.00,363.53 L419.50,363.24 L420.00,362.96 L420.50,362.70 L421.00,362.45 L421.50,362.22 L422.00,362.02 L422.50,361.84 L423.00,361.70 L423.50,361.59 L424.00,361.50 L424.50,361.44 L425.00,361.41 L425.50,361.39 L426.00,361.39 L426.50,361.40 L427.00,361.42 L427.50,361.40 L428.00,361.33 L428.50,361.16 L429.00,360.85 L429.50,360.36 L430.00,359.72 L430.50,358.94 L431.00,358.08 L431.50,357.17 L432.00,356.24 L432.50,355.36 L433.00,354.60 L433.50,354.01 L434.00,353.65 L434.50,353.53 L435.00,353.68 L435.50,354.08 L436.00,354.66 L436.50,355.33 L437.00,356.03 L437.50,356.72 L438.00,357.39 L438.50,358.00 L439.00,358.54 L439.50,359.01 L440.00,359.40 L440.50,359.70 L441.00,359.92 L441.50,360.05 L442.00,360.07 L442.50,360.00 L443.00,359.87 L443.50,359.71 L444.00,359.55 L444.50,359.42 L445.00,359.35 L445.50,359.37 L446.00,359.49 L446.50,359.70 L447.00,359.99 L447.50,360.34 L448.00,360.74 L448.50,361.19 L449.00,361.68 L449.50,362.19 L450.00,362.71 L450.50,363.22 L451.00,363.69 L451.50,364.12 L452.00,364.51 L452.50,364.86 L453.00,365.18 L453.50,365.47 L454.00,365.72 L454.50,365.94 L455.00,366.12 L455.50,366.28 L456.00,366.42 L456.50,366.53 L457.00,366.62 L457.50,366.68 L458.00,366.71 L458.50,366.70 L459.00,366.65 L459.50,366.57 L460.00,366.44 L460.50,366.28 L461.00,366.09 L461.50,365.87 L462.00,365.64 L462.50,365.39 L463.00,365.13 L463.50,364.89 L464.00,364.70 L464.50,364.60 L465.00,364.60 L465.50,364.73 L466.00,364.97 L466.50,365.28 L467.00,365.64 L467.50,366.02 L468.00,366.39 L468.50,366.75 L469.00,367.09 L469.50,367.41 L470.00,367.70 L470.50,367.96 L471.00,368.19 L471.50,368.39 L472.00,368.55 L472.50,368.68 L473.00,368.80 L473.50,368.90 L474.00,368.90 L474.50,368.90 L475.00,368.90 L475.50,368.90 L476.00,368.90 L476.50,368.90 L477.00,368.90 L477.50,368.90 L478.00,368.90 L478.50,368.90 L479.00,368.90 L479.50,368.90 L480.00,368.90 L480.50,368.90 L481.00,368.90 L481.50,368.90 L482.00,368.90 L482.50,368.90 L483.00,368.90 L483.50,368.90 L484.00,368.90 L484.50,368.90 L485.00,368.90 L485.50,368.88 L486.00,368.81 L486.50,368.74 L487.00,368.67 L487.50,368.59 L488.00,368.50 L488.50,368.42 L489.00,368.33 L489.50,368.23 L490.00,368.14 L490.50,368.04 L491.00,367.93 L491.50,367.82 L492.00,367.70 L492.50,367.58 L493.00,367.44 L493.50,367.30 L494.00,367.15 L494.50,366.99 L495.00,366.82 L495.50,366.64 L496.00,366.45 L496.50,366.24 L497.00,366.03 L497.50,365.83 L498.00,365.62 L498.50,365.41 L499.00,365.22 L499.50,365.06 L500.00,364.96 L500.50,364.93 L501.00,365.00 L501.50,365.14 L502.00,365.34 L502.50,365.58 L503.00,365.83 L503.50,366.07 L504.00,366.31 L504.50,366.52 L505.00,366.70 L505.50,366.83 L506.00,366.90 L506.50,366.91 L507.00,366.86 L507.50,366.74 L508.00,366.58 L508.50,366.39 L509.00,366.18 L509.50,365.98 L510.00,365.79 L510.50,365.60 L511.00,365.42 L511.50,365.24 L512.00,365.07 L512.50,364.90 L513.00,364.73 L513.50,364.56 L514.00,364.39 L514.50,364.22 L515.00,364.05 L515.50,363.87 L516.00,363.69 L516.50,363.52 L517.00,363.34 L517.50,363.18 L518.00,363.02 L518.50,362.87 L519.00,362.74 L519.50,362.62 L520.00,362.51 L520.50,362.42 L521.00,362.32 L521.50,362.22 L522.00,362.11 L522.50,361.98 L523.00,361.83 L523.50,361.68 L524.00,361.55 L524.50,361.47 L525.00,361.45 L525.50,361.50 L526.00,361.62 L526.50,361.78 L527.00,361.98 L527.50,362.17 L528.00,362.35 L528.50,362.51 L529.00,362.64 L529.50,362.74 L530.00,362.83 L530.50,362.90 L531.00,362.95 L531.50,362.98 L532.00,363.00 L532.50,363.01 L533.00,363.01 L533.50,363.02 L534.00,363.05 L534.50,363.10 L535.00,363.17 L535.50,363.30 L536.00,363.47 L536.50,363.69 L537.00,363.95 L537.50,364.23 L538.00,364.51 L538.50,364.77 L539.00,365.00 L539.50,365.18 L540.00,365.32 L540.50,365.42 L541.00,365.46 L541.50,365.45 L542.00,365.38 L542.50,365.25 L543.00,365.07 L543.50,364.85 L544.00,364.61 L544.50,364.38 L545.00,364.16 L545.50,363.96 L546.00,363.78 L546.50,363.65 L547.00,363.56 L547.50,363.54 L548.00,363.58 L548.50,363.66 L549.00,363.77 L549.50,363.90 L550.00,364.03 L550.50,364.14 L551.00,364.22 L551.50,364.27 L552.00,364.30 L552.50,364.31 L553.00,364.31 L553.50,364.29 L554.00,364.28 L554.50,364.26 L555.00,364.25 L555.50,364.24 L556.00,364.26 L556.50,364.30 L557.00,364.36 L557.50,364.43 L558.00,364.53 L558.50,364.63 L559.00,364.73 L559.50,364.82 L560.00,364.91 L560.50,364.99 L561.00,365.06 L561.50,365.11 L562.00,365.14 L562.50,365.15 L563.00,365.12 L563.50,365.06 L564.00,364.94 L564.50,364.77 L565.00,364.55 L565.50,364.29 L566.00,363.99 L566.50,363.66 L567.00,363.32 L567.50,362.94 L568.00,362.54 L568.50,362.13 L569.00,361.69 L569.50,361.26 L570.00,360.84 L570.50,360.43 L571.00,360.04 L571.50,359.67 L572.00,359.33 L572.50,359.02 L573.00,358.75 L573.50,358.55 L574.00,358.41 L574.50,358.35 L575.00,358.36 L575.50,358.45 L576.00,358.59 L576.50,358.75 L577.00,358.92 L577.50,359.07 L578.00,359.19 L578.50,359.26 L579.00,359.28 L579.50,359.25 L580.00,359.19 L580.50,359.09 L581.00,358.96 L581.50,358.81 L582.00,358.65 L582.50,358.46 L583.00,358.26 L583.50,358.05 L584.00,357.84 L584.50,357.65 L585.00,357.47 L585.50,357.32 L586.00,357.20 L586.50,357.12 L587.00,357.09 L587.50,357.11 L588.00,357.20 L588.50,357.34 L589.00,357.52 L589.50,357.75 L590.00,358.02 L590.50,358.33 L591.00,358.68 L591.50,359.07 L592.00,359.48 L592.50,359.90 L593.00,360.30 L593.50,360.69 L594.00,361.04 L594.50,361.36 L595.00,361.65 L595.50,361.90 L596.00,362.12 L596.50,362.30 L597.00,362.44 L597.50,362.54 L598.00,362.63 L598.50,362.70 L599.00,362.77 L599.50,362.84 L600.00,362.93 L600.50,363.05 L601.00,363.19 L601.50,363.36 L602.00,363.56 L602.50,363.77 L603.00,363.99 L603.50,364.21 L604.00,364.43 L604.50,364.64 L605.00,364.85 L605.50,365.04 L606.00,365.20 L606.50,365.33 L607.00,365.42 L607.50,365.45 L608.00,365.41 L608.50,365.29 L609.00,365.10 L609.50,364.85 L610.00,364.54 L610.50,364.19 L611.00,363.80 L611.50,363.37 L612.00,362.92 L612.50,362.45 L613.00,362.00 L613.50,361.58 L614.00,361.22 L614.50,360.92 L615.00,360.68 L615.50,360.53 L616.00,360.47 L616.50,360.52 L617.00,360.67 L617.50,360.89 L618.00,361.16 L618.50,361.45 L619.00,361.73 L619.50,361.98 L620.00,362.17 L620.50,362.27 L621.00,362.26 L621.50,362.13 L622.00,361.87 L622.50,361.54 L623.00,361.16 L623.50,360.77 L624.00,360.41 L624.50,360.08 L625.00,359.80 L625.50,359.57 L626.00,359.41 L626.50,359.33 L627.00,359.33 L627.50,359.40 L628.00,359.52 L628.50,359.69 L629.00,359.90 L629.50,360.13 L630.00,360.40 L630.50,360.69 L631.00,361.00 L631.50,361.32 L632.00,361.64 L632.50,361.94 L633.00,362.21 L633.50,362.46 L634.00,362.68 L634.50,362.87 L635.00,363.05 L635.50,363.21 L636.00,363.34 L636.50,363.43" fill="none" stroke="#c032c0" stroke-width="0.95" stroke-linejoin="round"/>
<path d="M370.50,346.24 L371.00,346.46 L371.50,346.85 L372.00,347.47 L372.50,348.34 L373.00,349.50 L373.50,350.86 L374.00,352.30 L374.50,353.68 L375.00,354.90 L375.50,355.92 L376.00,356.78 L376.50,357.49 L377.00,358.07 L377.50,358.55 L378.00,358.95 L378.50,359.29 L379.00,359.58 L379.50,359.84 L380.00,360.05 L380.50,360.21 L381.00,360.31 L381.50,360.34 L382.00,360.30 L382.50,360.19 L383.00,360.00 L383.50,359.74 L384.00,359.42 L384.50,359.02 L385.00,358.57 L385.50,358.05 L386.00,357.47 L386.50,356.83 L387.00,356.19 L387.50,355.57 L388.00,355.03 L388.50,354.60 L389.00,354.28 L389.50,354.08 L390.00,354.00 L390.50,354.06 L391.00,354.29 L391.50,354.70 L392.00,355.29 L392.50,356.05 L393.00,356.97 L393.50,358.03 L394.00,359.18 L394.50,360.33 L395.00,361.38 L395.50,362.28 L396.00,363.01 L396.50,363.57 L397.00,363.93 L397.50,364.08 L398.00,364.00 L398.50,363.72 L399.00,363.25 L399.50,362.65 L400.00,361.97 L400.50,361.27 L401.00,360.57 L401.50,359.90 L402.00,359.27 L402.50,358.71 L403.00,358.25 L403.50,357.94 L404.00,357.78 L404.50,357.78 L405.00,357.91 L405.50,358.15 L406.00,358.47 L406.50,358.84 L407.00,359.23 L407.50,359.60 L408.00,359.87 L408.50,360.01 L409.00,359.94 L409.50,359.66 L410.00,359.15 L410.50,358.47 L411.00,357.65 L411.50,356.75 L412.00,355.82 L412.50,354.86 L413.00,353.91 L413.50,353.02 L414.00,352.22 L414.50,351.58 L415.00,351.09 L415.50,350.76 L416.00,350.61 L416.50,350.64 L417.00,350.85 L417.50,351.23 L418.00,351.73 L418.50,352.30 L419.00,352.93 L419.50,353.57 L420.00,354.21 L420.50,354.78 L421.00,355.25 L421.50,355.54 L422.00,355.63 L422.50,355.49 L423.00,355.18 L423.50,354.74 L424.00,354.26 L424.50,353.81 L425.00,353.44 L425.50,353.18 L426.00,353.03 L426.50,352.98 L427.00,353.01 L427.50,353.12 L428.00,353.30 L428.50,353.52 L429.00,353.71 L429.50,353.82 L430.00,353.76 L430.50,353.45 L431.00,352.85 L431.50,351.93 L432.00,350.67 L432.50,349.05 L433.00,347.09 L433.50,344.88 L434.00,342.59 L434.50,340.35 L435.00,338.27 L435.50,336.42 L436.00,334.91 L436.50,333.76 L437.00,332.99 L437.50,332.56 L438.00,332.47 L438.50,332.72 L439.00,333.26 L439.50,334.00 L440.00,334.85 L440.50,335.73 L441.00,336.55 L441.50,337.18 L442.00,337.48 L442.50,337.35 L443.00,336.69 L443.50,335.51 L444.00,333.90 L444.50,331.95 L445.00,329.79 L445.50,327.52 L446.00,325.27 L446.50,323.12 L447.00,321.15 L447.50,319.39 L448.00,317.89 L448.50,316.71 L449.00,315.89 L449.50,315.44 L450.00,315.37 L450.50,315.75 L451.00,316.60 L451.50,317.94 L452.00,319.75 L452.50,322.02 L453.00,324.71 L453.50,327.71 L454.00,330.92 L454.50,334.24 L455.00,337.53 L455.50,340.62 L456.00,343.42 L456.50,345.89 L457.00,348.00 L457.50,349.75 L458.00,351.13 L458.50,352.10 L459.00,352.61 L459.50,352.59 L460.00,352.10 L460.50,351.22 L461.00,350.11 L461.50,348.91 L462.00,347.73 L462.50,346.63 L463.00,345.67 L463.50,344.92 L464.00,344.43 L464.50,344.27 L465.00,344.50 L465.50,345.20 L466.00,346.37 L466.50,347.96 L467.00,349.92 L467.50,352.14 L468.00,354.45 L468.50,356.67 L469.00,358.67 L469.50,360.43 L470.00,361.94 L470.50,363.23 L471.00,364.32 L471.50,365.24 L472.00,366.02 L472.50,366.68 L473.00,367.24 L473.50,367.70 L474.00,368.08 L474.50,368.40 L475.00,368.65 L475.50,368.86 L476.00,368.90 L476.50,368.90 L477.00,368.90 L477.50,368.90 L478.00,368.90 L478.50,368.86 L479.00,368.62 L479.50,368.31 L480.00,367.91 L480.50,367.44 L481.00,366.89 L481.50,366.29 L482.00,365.67 L482.50,365.03 L483.00,364.41 L483.50,363.81 L484.00,363.25 L484.50,362.72 L485.00,362.21 L485.50,361.72 L486.00,361.25 L486.50,360.81 L487.00,360.39 L487.50,360.03 L488.00,359.78 L488.50,359.68 L489.00,359.78 L489.50,360.06 L490.00,360.49 L490.50,360.98 L491.00,361.50 L491.50,362.00 L492.00,362.45 L492.50,362.81 L493.00,363.05 L493.50,363.13 L494.00,363.04 L494.50,362.81 L495.00,362.43 L495.50,361.93 L496.00,361.33 L496.50,360.63 L497.00,359.83 L497.50,358.93 L498.00,357.95 L498.50,356.89 L499.00,355.80 L499.50,354.69 L500.00,353.56 L500.50,352.46 L501.00,351.42 L501.50,350.52 L502.00,349.81 L502.50,349.29 L503.00,348.93 L503.50,348.69 L504.00,348.51 L504.50,348.36 L505.00,348.20 L505.50,348.02 L506.00,347.83 L506.50,347.63 L507.00,347.40 L507.50,347.17 L508.00,346.95 L508.50,346.75 L509.00,346.62 L509.50,346.62 L510.00,346.76 L510.50,347.05 L511.00,347.44 L511.50,347.90 L512.00,348.38 L512.50,348.87 L513.00,349.34 L513.50,349.77 L514.00,350.14 L514.50,350.43 L515.00,350.63 L515.50,350.75 L516.00,350.78 L516.50,350.70 L517.00,350.47 L517.50,350.08 L518.00,349.51 L518.50,348.74 L519.00,347.75 L519.50,346.52 L520.00,345.08 L520.50,343.49 L521.00,341.83 L521.50,340.17 L522.00,338.60 L522.50,337.15 L523.00,335.86 L523.50,334.71 L524.00,333.72 L524.50,332.91 L525.00,332.26 L525.50,331.79 L526.00,331.49 L526.50,331.38 L527.00,331.50 L527.50,331.86 L528.00,332.48 L528.50,333.34 L529.00,334.44 L529.50,335.75 L530.00,337.25 L530.50,338.84 L531.00,340.47 L531.50,342.08 L532.00,343.67 L532.50,345.20 L533.00,346.64 L533.50,347.98 L534.00,349.17 L534.50,350.16 L535.00,350.83 L535.50,351.10 L536.00,350.91 L536.50,350.35 L537.00,349.54 L537.50,348.63 L538.00,347.75 L538.50,346.97 L539.00,346.32 L539.50,345.83 L540.00,345.52 L540.50,345.39 L541.00,345.45 L541.50,345.64 L542.00,345.91 L542.50,346.22 L543.00,346.51 L543.50,346.76 L544.00,346.94 L544.50,347.02 L545.00,346.99 L545.50,346.83 L546.00,346.59 L546.50,346.31 L547.00,346.05 L547.50,345.83 L548.00,345.67 L548.50,345.57 L549.00,345.56 L549.50,345.62 L550.00,345.76 L550.50,345.98 L551.00,346.26 L551.50,346.59 L552.00,346.96 L552.50,347.37 L553.00,347.82 L553.50,348.29 L554.00,348.79 L554.50,349.28 L555.00,349.75 L555.50,350.20 L556.00,350.60 L556.50,350.96 L557.00,351.28 L557.50,351.57 L558.00,351.83 L558.50,352.05 L559.00,352.23 L559.50,352.39 L560.00,352.51 L560.50,352.62 L561.00,352.71 L561.50,352.78 L562.00,352.84 L562.50,352.88 L563.00,352.91 L563.50,352.93 L564.00,352.94 L564.50,352.93 L565.00,352.89 L565.50,352.83 L566.00,352.73 L566.50,352.59 L567.00,352.40 L567.50,352.16 L568.00,351.83 L568.50,351.39 L569.00,350.83 L569.50,350.13 L570.00,349.26 L570.50,348.21 L571.00,346.94 L571.50,345.41 L572.00,343.64 L572.50,341.60 L573.00,339.29 L573.50,336.75 L574.00,334.08 L574.50,331.39 L575.00,328.79 L575.50,326.35 L576.00,324.16 L576.50,322.28 L577.00,320.73 L577.50,319.49 L578.00,318.55 L578.50,317.89 L579.00,317.46 L579.50,317.24 L580.00,317.21 L580.50,317.37 L581.00,317.68 L581.50,318.10 L582.00,318.54 L582.50,318.94 L583.00,319.25 L583.50,319.40 L584.00,319.34 L584.50,319.04 L585.00,318.54 L585.50,317.90 L586.00,317.23 L586.50,316.57 L587.00,316.00 L587.50,315.57 L588.00,315.35 L588.50,315.40 L589.00,315.78 L589.50,316.49 L590.00,317.54 L590.50,318.93 L591.00,320.65 L591.50,322.60 L592.00,324.57 L592.50,326.41 L593.00,328.02 L593.50,329.37 L594.00,330.45 L594.50,331.28 L595.00,331.88 L595.50,332.27 L596.00,332.43 L596.50,332.40 L597.00,332.18 L597.50,331.85 L598.00,331.45 L598.50,331.04 L599.00,330.65 L599.50,330.34 L600.00,330.17 L600.50,330.20 L601.00,330.45 L601.50,330.91 L602.00,331.54 L602.50,332.27 L603.00,333.05 L603.50,333.86 L604.00,334.69 L604.50,335.52 L605.00,336.32 L605.50,337.08 L606.00,337.78 L606.50,338.42 L607.00,339.00 L607.50,339.50 L608.00,339.92 L608.50,340.24 L609.00,340.47 L609.50,340.60 L610.00,340.61 L610.50,340.44 L611.00,340.08 L611.50,339.51 L612.00,338.72 L612.50,337.75 L613.00,336.58 L613.50,335.24 L614.00,333.76 L614.50,332.21 L615.00,330.68 L615.50,329.23 L616.00,327.90 L616.50,326.75 L617.00,325.83 L617.50,325.19 L618.00,324.82 L618.50,324.74 L619.00,324.95 L619.50,325.48 L620.00,326.32 L620.50,327.45 L621.00,328.81 L621.50,330.30 L622.00,331.77 L622.50,333.11 L623.00,334.29 L623.50,335.32 L624.00,336.21 L624.50,336.98 L625.00,337.66 L625.50,338.26 L626.00,338.79 L626.50,339.27 L627.00,339.72 L627.50,340.12 L628.00,340.50 L628.50,340.86 L629.00,341.18 L629.50,341.46 L630.00,341.67 L630.50,341.81 L631.00,341.87 L631.50,341.89 L632.00,341.90 L632.50,341.95 L633.00,342.09 L633.50,342.34 L634.00,342.73 L634.50,343.25 L635.00,343.90 L635.50,344.65 L636.00,345.44 L636.50,346.06" fill="none" stroke="#a03030" stroke-width="0.95" stroke-linejoin="round"/>
<path d="M370.50,354.92 L371.00,354.56 L371.50,354.12 L372.00,353.75 L372.50,353.52 L373.00,353.48 L373.50,353.62 L374.00,353.92 L374.50,354.33 L375.00,354.78 L375.50,355.23 L376.00,355.66 L376.50,356.05 L377.00,356.40 L377.50,356.73 L378.00,357.04 L378.50,357.32 L379.00,357.59 L379.50,357.84 L380.00,358.09 L380.50,358.31 L381.00,358.51 L381.50,358.67 L382.00,358.79 L382.50,358.85 L383.00,358.83 L383.50,358.74 L384.00,358.56 L384.50,358.29 L385.00,357.95 L385.50,357.53 L386.00,357.03 L386.50,356.45 L387.00,355.79 L387.50,355.02 L388.00,354.17 L388.50,353.24 L389.00,352.24 L389.50,351.19 L390.00,350.10 L390.50,348.97 L391.00,347.83 L391.50,346.70 L392.00,345.61 L392.50,344.61 L393.00,343.71 L393.50,342.92 L394.00,342.27 L394.50,341.77 L395.00,341.44 L395.50,341.30 L396.00,341.35 L396.50,341.60 L397.00,342.06 L397.50,342.69 L398.00,343.46 L398.50,344.34 L399.00,345.33 L399.50,346.42 L400.00,347.57 L400.50,348.77 L401.00,349.98 L401.50,351.19 L402.00,352.40 L402.50,353.56 L403.00,354.63 L403.50,355.58 L404.00,356.39 L404.50,357.05 L405.00,357.57 L405.50,357.93 L406.00,358.12 L406.50,358.14 L407.00,357.97 L407.50,357.66 L408.00,357.26 L408.50,356.81 L409.00,356.37 L409.50,355.96 L410.00,355.58 L410.50,355.24 L411.00,354.97 L411.50,354.75 L412.00,354.61 L412.50,354.53 L413.00,354.49 L413.50,354.45 L414.00,354.37 L414.50,354.22 L415.00,353.95 L415.50,353.54 L416.00,352.95 L416.50,352.20 L417.00,351.27 L417.50,350.14 L418.00,348.84 L418.50,347.44 L419.00,345.99 L419.50,344.57 L420.00,343.21 L420.50,341.95 L421.00,340.82 L421.50,339.87 L422.00,339.15 L422.50,338.65 L423.00,338.40 L423.50,338.41 L424.00,338.68 L424.50,339.18 L425.00,339.87 L425.50,340.67 L426.00,341.55 L426.50,342.47 L427.00,343.38 L427.50,344.23 L428.00,344.96 L428.50,345.54 L429.00,345.98 L429.50,346.26 L430.00,346.35 L430.50,346.26 L431.00,345.96 L431.50,345.46 L432.00,344.75 L432.50,343.80 L433.00,342.60 L433.50,341.15 L434.00,339.49 L434.50,337.69 L435.00,335.80 L435.50,333.86 L436.00,331.88 L436.50,329.87 L437.00,327.85 L437.50,325.85 L438.00,323.87 L438.50,321.89 L439.00,319.91 L439.50,317.91 L440.00,315.88 L440.50,313.79 L441.00,311.66 L441.50,309.53 L442.00,307.48 L442.50,305.61 L443.00,304.02 L443.50,302.73 L444.00,301.71 L444.50,300.91 L445.00,300.31 L445.50,299.87 L446.00,299.60 L446.50,299.53 L447.00,299.68 L447.50,300.08 L448.00,300.74 L448.50,301.64 L449.00,302.82 L449.50,304.37 L450.00,306.34 L450.50,308.80 L451.00,311.79 L451.50,315.26 L452.00,319.08 L452.50,323.10 L453.00,327.19 L453.50,331.20 L454.00,334.98 L454.50,338.41 L455.00,341.44 L455.50,344.08 L456.00,346.34 L456.50,348.26 L457.00,349.86 L457.50,351.15 L458.00,352.11 L458.50,352.74 L459.00,353.01 L459.50,352.90 L460.00,352.41 L460.50,351.60 L461.00,350.59 L461.50,349.47 L462.00,348.34 L462.50,347.26 L463.00,346.30 L463.50,345.55 L464.00,345.06 L464.50,344.86 L465.00,345.01 L465.50,345.52 L466.00,346.35 L466.50,347.42 L467.00,348.65 L467.50,350.00 L468.00,351.41 L468.50,352.78 L469.00,354.06 L469.50,355.19 L470.00,356.18 L470.50,357.05 L471.00,357.82 L471.50,358.52 L472.00,359.18 L472.50,359.81 L473.00,360.43 L473.50,361.03 L474.00,361.62 L474.50,362.21 L475.00,362.78 L475.50,363.33 L476.00,363.88 L476.50,364.41 L477.00,364.93 L477.50,365.42 L478.00,365.85 L478.50,366.20 L479.00,366.46 L479.50,366.60 L480.00,366.62 L480.50,366.53 L481.00,366.34 L481.50,366.09 L482.00,365.82 L482.50,365.55 L483.00,365.32 L483.50,365.13 L484.00,365.01 L484.50,364.94 L485.00,364.91 L485.50,364.91 L486.00,364.95 L486.50,365.01 L487.00,365.09 L487.50,365.19 L488.00,365.30 L488.50,365.39 L489.00,365.44 L489.50,365.42 L490.00,365.30 L490.50,365.08 L491.00,364.77 L491.50,364.38 L492.00,363.96 L492.50,363.50 L493.00,363.02 L493.50,362.52 L494.00,362.01 L494.50,361.50 L495.00,360.99 L495.50,360.49 L496.00,359.99 L496.50,359.47 L497.00,358.89 L497.50,358.24 L498.00,357.49 L498.50,356.59 L499.00,355.54 L499.50,354.36 L500.00,353.05 L500.50,351.67 L501.00,350.23 L501.50,348.75 L502.00,347.30 L502.50,345.95 L503.00,344.76 L503.50,343.80 L504.00,343.08 L504.50,342.59 L505.00,342.36 L505.50,342.38 L506.00,342.60 L506.50,342.96 L507.00,343.39 L507.50,343.82 L508.00,344.19 L508.50,344.39 L509.00,344.34 L509.50,343.94 L510.00,343.14 L510.50,341.89 L511.00,340.16 L511.50,337.98 L512.00,335.44 L512.50,332.73 L513.00,329.97 L513.50,327.25 L514.00,324.66 L514.50,322.25 L515.00,320.08 L515.50,318.17 L516.00,316.55 L516.50,315.23 L517.00,314.19 L517.50,313.42 L518.00,312.90 L518.50,312.61 L519.00,312.50 L519.50,312.52 L520.00,312.63 L520.50,312.81 L521.00,313.05 L521.50,313.32 L522.00,313.60 L522.50,313.88 L523.00,314.14 L523.50,314.35 L524.00,314.49 L524.50,314.52 L525.00,314.45 L525.50,314.31 L526.00,314.14 L526.50,313.98 L527.00,313.87 L527.50,313.83 L528.00,313.87 L528.50,314.03 L529.00,314.34 L529.50,314.82 L530.00,315.47 L530.50,316.26 L531.00,317.15 L531.50,318.14 L532.00,319.18 L532.50,320.23 L533.00,321.19 L533.50,321.99 L534.00,322.61 L534.50,323.05 L535.00,323.33 L535.50,323.48 L536.00,323.55 L536.50,323.62 L537.00,323.77 L537.50,324.09 L538.00,324.63 L538.50,325.38 L539.00,326.28 L539.50,327.24 L540.00,328.22 L540.50,329.19 L541.00,330.14 L541.50,331.06 L542.00,331.94 L542.50,332.77 L543.00,333.55 L543.50,334.28 L544.00,334.96 L544.50,335.60 L545.00,336.17 L545.50,336.68 L546.00,337.13 L546.50,337.50 L547.00,337.80 L547.50,338.01 L548.00,338.10 L548.50,338.05 L549.00,337.81 L549.50,337.39 L550.00,336.80 L550.50,336.07 L551.00,335.22 L551.50,334.27 L552.00,333.27 L552.50,332.33 L553.00,331.52 L553.50,330.94 L554.00,330.67 L554.50,330.80 L555.00,331.34 L555.50,332.23 L556.00,333.33 L556.50,334.50 L557.00,335.65 L557.50,336.71 L558.00,337.63 L558.50,338.37 L559.00,338.90 L559.50,339.16 L560.00,339.12 L560.50,338.80 L561.00,338.26 L561.50,337.57 L562.00,336.81 L562.50,336.05 L563.00,335.32 L563.50,334.70 L564.00,334.24 L564.50,333.94 L565.00,333.81 L565.50,333.82 L566.00,333.98 L566.50,334.26 L567.00,334.65 L567.50,335.12 L568.00,335.62 L568.50,336.14 L569.00,336.59 L569.50,336.90 L570.00,336.98 L570.50,336.75 L571.00,336.18 L571.50,335.29 L572.00,334.13 L572.50,332.75 L573.00,331.17 L573.50,329.45 L574.00,327.64 L574.50,325.79 L575.00,323.95 L575.50,322.19 L576.00,320.57 L576.50,319.17 L577.00,317.98 L577.50,316.98 L578.00,316.14 L578.50,315.42 L579.00,314.79 L579.50,314.23 L580.00,313.72 L580.50,313.23 L581.00,312.75 L581.50,312.25 L582.00,311.73 L582.50,311.17 L583.00,310.57 L583.50,309.96 L584.00,309.35 L584.50,308.75 L585.00,308.18 L585.50,307.64 L586.00,307.17 L586.50,306.78 L587.00,306.49 L587.50,306.30 L588.00,306.23 L588.50,306.25 L589.00,306.39 L589.50,306.64 L590.00,306.99 L590.50,307.44 L591.00,307.99 L591.50,308.63 L592.00,309.38 L592.50,310.23 L593.00,311.16 L593.50,312.16 L594.00,313.22 L594.50,314.32 L595.00,315.47 L595.50,316.66 L596.00,317.87 L596.50,319.10 L597.00,320.32 L597.50,321.53 L598.00,322.73 L598.50,323.90 L599.00,325.04 L599.50,326.10 L600.00,327.09 L600.50,327.98 L601.00,328.79 L601.50,329.50 L602.00,330.10 L602.50,330.60 L603.00,330.99 L603.50,331.27 L604.00,331.45 L604.50,331.53 L605.00,331.49 L605.50,331.36 L606.00,331.13 L606.50,330.81 L607.00,330.44 L607.50,330.03 L608.00,329.58 L608.50,329.11 L609.00,328.61 L609.50,328.10 L610.00,327.58 L610.50,327.09 L611.00,326.62 L611.50,326.17 L612.00,325.76 L612.50,325.38 L613.00,325.06 L613.50,324.80 L614.00,324.61 L614.50,324.51 L615.00,324.53 L615.50,324.70 L616.00,325.00 L616.50,325.41 L617.00,325.90 L617.50,326.43 L618.00,327.00 L618.50,327.57 L619.00,328.10 L619.50,328.55 L620.00,328.86 L620.50,328.94 L621.00,328.68 L621.50,327.98 L622.00,326.86 L622.50,325.41 L623.00,323.72 L623.50,321.84 L624.00,319.83 L624.50,317.74 L625.00,315.64 L625.50,313.59 L626.00,311.67 L626.50,309.95 L627.00,308.47 L627.50,307.23 L628.00,306.22 L628.50,305.41 L629.00,304.79 L629.50,304.36 L630.00,304.14 L630.50,304.15 L631.00,304.41 L631.50,304.92 L632.00,305.65 L632.50,306.64 L633.00,307.85 L633.50,309.24 L634.00,310.74 L634.50,312.29 L635.00,313.85 L635.50,315.39 L636.00,316.81 L636.50,317.86" fill="none" stroke="#2828a4" stroke-width="0.95" stroke-linejoin="round"/>
<path d="M370.50,328.92 L371.00,328.66 L371.50,328.43 L372.00,328.41 L372.50,328.72 L373.00,329.42 L373.50,330.49 L374.00,331.85 L374.50,333.43 L375.00,335.15 L375.50,336.94 L376.00,338.69 L376.50,340.31 L377.00,341.74 L377.50,342.98 L378.00,344.03 L378.50,344.91 L379.00,345.62 L379.50,346.17 L380.00,346.61 L380.50,346.94 L381.00,347.16 L381.50,347.27 L382.00,347.25 L382.50,347.09 L383.00,346.78 L383.50,346.31 L384.00,345.69 L384.50,344.88 L385.00,343.89 L385.50,342.71 L386.00,341.35 L386.50,339.88 L387.00,338.38 L387.50,336.91 L388.00,335.51 L388.50,334.20 L389.00,332.96 L389.50,331.83 L390.00,330.79 L390.50,329.88 L391.00,329.10 L391.50,328.46 L392.00,327.99 L392.50,327.76 L393.00,327.81 L393.50,328.15 L394.00,328.74 L394.50,329.50 L395.00,330.37 L395.50,331.30 L396.00,332.26 L396.50,333.20 L397.00,334.09 L397.50,334.89 L398.00,335.57 L398.50,336.14 L399.00,336.61 L399.50,337.03 L400.00,337.40 L400.50,337.75 L401.00,338.11 L401.50,338.48 L402.00,338.90 L402.50,339.34 L403.00,339.81 L403.50,340.29 L404.00,340.78 L404.50,341.26 L405.00,341.72 L405.50,342.14 L406.00,342.51 L406.50,342.77 L407.00,342.88 L407.50,342.76 L408.00,342.41 L408.50,341.84 L409.00,341.10 L409.50,340.24 L410.00,339.33 L410.50,338.39 L411.00,337.43 L411.50,336.47 L412.00,335.51 L412.50,334.58 L413.00,333.69 L413.50,332.86 L414.00,332.10 L414.50,331.39 L415.00,330.74 L415.50,330.11 L416.00,329.49 L416.50,328.84 L417.00,328.13 L417.50,327.35 L418.00,326.48 L418.50,325.51 L419.00,324.46 L419.50,323.33 L420.00,322.14 L420.50,320.91 L421.00,319.66 L421.50,318.43 L422.00,317.31 L422.50,316.40 L423.00,315.75 L423.50,315.39 L424.00,315.32 L424.50,315.55 L425.00,316.04 L425.50,316.71 L426.00,317.50 L426.50,318.32 L427.00,319.14 L427.50,319.89 L428.00,320.52 L428.50,320.99 L429.00,321.23 L429.50,321.17 L430.00,320.67 L430.50,319.61 L431.00,317.89 L431.50,315.48 L432.00,312.47 L432.50,309.12 L433.00,305.65 L433.50,302.03 L434.00,298.07 L434.50,293.72 L435.00,289.33 L435.50,285.38 L436.00,282.18 L436.50,279.79 L437.00,278.08 L437.50,276.85 L438.00,275.93 L438.50,275.18 L439.00,274.51 L439.50,273.84 L440.00,273.13 L440.50,272.31 L441.00,271.34 L441.50,270.16 L442.00,268.73 L442.50,266.98 L443.00,264.89 L443.50,262.48 L444.00,259.78 L444.50,256.87 L445.00,253.84 L445.50,250.87 L446.00,248.12 L446.50,245.73 L447.00,243.83 L447.50,242.48 L448.00,241.69 L448.50,241.45 L449.00,241.82 L449.50,242.90 L450.00,244.87 L450.50,247.79 L451.00,251.57 L451.50,256.01 L452.00,261.03 L452.50,266.60 L453.00,272.61 L453.50,278.89 L454.00,285.17 L454.50,291.27 L455.00,297.17 L455.50,303.04 L456.00,308.98 L456.50,314.86 L457.00,320.21 L457.50,324.62 L458.00,327.96 L458.50,330.31 L459.00,331.66 L459.50,331.95 L460.00,331.19 L460.50,329.63 L461.00,327.57 L461.50,325.27 L462.00,322.92 L462.50,320.67 L463.00,318.66 L463.50,316.99 L464.00,315.72 L464.50,314.93 L465.00,314.72 L465.50,315.24 L466.00,316.59 L466.50,318.83 L467.00,321.91 L467.50,325.63 L468.00,329.65 L468.50,333.60 L469.00,337.27 L469.50,340.59 L470.00,343.53 L470.50,346.09 L471.00,348.32 L471.50,350.25 L472.00,351.95 L472.50,353.43 L473.00,354.75 L473.50,355.93 L474.00,357.00 L474.50,358.00 L475.00,358.95 L475.50,359.88 L476.00,360.81 L476.50,361.76 L477.00,362.69 L477.50,363.58 L478.00,364.37 L478.50,365.03 L479.00,365.49 L479.50,365.72 L480.00,365.66 L480.50,365.30 L481.00,364.69 L481.50,363.91 L482.00,363.02 L482.50,362.04 L483.00,361.03 L483.50,360.02 L484.00,359.05 L484.50,358.15 L485.00,357.31 L485.50,356.55 L486.00,355.86 L486.50,355.27 L487.00,354.76 L487.50,354.35 L488.00,354.02 L488.50,353.76 L489.00,353.55 L489.50,353.38 L490.00,353.25 L490.50,353.14 L491.00,353.03 L491.50,352.89 L492.00,352.69 L492.50,352.39 L493.00,351.97 L493.50,351.40 L494.00,350.64 L494.50,349.68 L495.00,348.49 L495.50,347.09 L496.00,345.50 L496.50,343.75 L497.00,341.83 L497.50,339.78 L498.00,337.62 L498.50,335.43 L499.00,333.23 L499.50,331.06 L500.00,328.96 L500.50,326.95 L501.00,325.11 L501.50,323.45 L502.00,322.01 L502.50,320.79 L503.00,319.82 L503.50,319.11 L504.00,318.64 L504.50,318.40 L505.00,318.36 L505.50,318.49 L506.00,318.73 L506.50,318.99 L507.00,319.20 L507.50,319.27 L508.00,319.12 L508.50,318.72 L509.00,318.05 L509.50,317.14 L510.00,315.98 L510.50,314.61 L511.00,313.08 L511.50,311.46 L512.00,309.80 L512.50,308.12 L513.00,306.42 L513.50,304.67 L514.00,302.85 L514.50,300.93 L515.00,298.90 L515.50,296.79 L516.00,294.62 L516.50,292.46 L517.00,290.37 L517.50,288.38 L518.00,286.54 L518.50,284.85 L519.00,283.29 L519.50,281.83 L520.00,280.43 L520.50,279.08 L521.00,277.76 L521.50,276.47 L522.00,275.24 L522.50,274.07 L523.00,272.97 L523.50,271.96 L524.00,271.05 L524.50,270.26 L525.00,269.60 L525.50,269.09 L526.00,268.73 L526.50,268.55 L527.00,268.61 L527.50,268.96 L528.00,269.68 L528.50,270.83 L529.00,272.46 L529.50,274.57 L530.00,277.02 L530.50,279.67 L531.00,282.36 L531.50,284.97 L532.00,287.40 L532.50,289.61 L533.00,291.58 L533.50,293.33 L534.00,294.82 L534.50,296.03 L535.00,296.94 L535.50,297.56 L536.00,297.93 L536.50,298.09 L537.00,298.09 L537.50,297.97 L538.00,297.79 L538.50,297.64 L539.00,297.66 L539.50,297.96 L540.00,298.57 L540.50,299.46 L541.00,300.51 L541.50,301.67 L542.00,302.87 L542.50,304.04 L543.00,305.08 L543.50,305.95 L544.00,306.61 L544.50,307.09 L545.00,307.44 L545.50,307.69 L546.00,307.86 L546.50,307.99 L547.00,308.10 L547.50,308.19 L548.00,308.26 L548.50,308.27 L549.00,308.22 L549.50,308.05 L550.00,307.77 L550.50,307.36 L551.00,306.85 L551.50,306.26 L552.00,305.62 L552.50,305.00 L553.00,304.50 L553.50,304.24 L554.00,304.33 L554.50,304.81 L555.00,305.66 L555.50,306.85 L556.00,308.32 L556.50,309.97 L557.00,311.65 L557.50,313.24 L558.00,314.67 L558.50,315.87 L559.00,316.78 L559.50,317.39 L560.00,317.69 L560.50,317.67 L561.00,317.35 L561.50,316.79 L562.00,316.08 L562.50,315.30 L563.00,314.52 L563.50,313.77 L564.00,313.08 L564.50,312.49 L565.00,312.04 L565.50,311.73 L566.00,311.55 L566.50,311.43 L567.00,311.31 L567.50,311.14 L568.00,310.84 L568.50,310.35 L569.00,309.63 L569.50,308.62 L570.00,307.27 L570.50,305.51 L571.00,303.29 L571.50,300.59 L572.00,297.40 L572.50,293.78 L573.00,289.84 L573.50,285.72 L574.00,281.53 L574.50,277.37 L575.00,273.33 L575.50,269.49 L576.00,265.91 L576.50,262.69 L577.00,259.87 L577.50,257.48 L578.00,255.54 L578.50,254.07 L579.00,253.05 L579.50,252.38 L580.00,251.94 L580.50,251.62 L581.00,251.34 L581.50,251.04 L582.00,250.68 L582.50,250.18 L583.00,249.50 L583.50,248.60 L584.00,247.48 L584.50,246.21 L585.00,244.84 L585.50,243.44 L586.00,242.12 L586.50,241.01 L587.00,240.17 L587.50,239.65 L588.00,239.45 L588.50,239.62 L589.00,240.20 L589.50,241.31 L590.00,243.01 L590.50,245.35 L591.00,248.22 L591.50,251.46 L592.00,254.86 L592.50,258.21 L593.00,261.30 L593.50,264.03 L594.00,266.42 L594.50,268.52 L595.00,270.39 L595.50,272.06 L596.00,273.53 L596.50,274.78 L597.00,275.83 L597.50,276.70 L598.00,277.45 L598.50,278.13 L599.00,278.82 L599.50,279.53 L600.00,280.31 L600.50,281.16 L601.00,282.12 L601.50,283.20 L602.00,284.41 L602.50,285.74 L603.00,287.13 L603.50,288.53 L604.00,289.87 L604.50,291.13 L605.00,292.27 L605.50,293.26 L606.00,294.05 L606.50,294.63 L607.00,294.99 L607.50,295.12 L608.00,295.01 L608.50,294.65 L609.00,294.07 L609.50,293.31 L610.00,292.39 L610.50,291.32 L611.00,290.10 L611.50,288.74 L612.00,287.23 L612.50,285.60 L613.00,283.85 L613.50,282.06 L614.00,280.33 L614.50,278.72 L615.00,277.29 L615.50,276.09 L616.00,275.15 L616.50,274.51 L617.00,274.19 L617.50,274.20 L618.00,274.51 L618.50,275.11 L619.00,275.92 L619.50,276.88 L620.00,277.92 L620.50,278.97 L621.00,279.90 L621.50,280.61 L622.00,280.97 L622.50,280.86 L623.00,280.25 L623.50,279.21 L624.00,277.86 L624.50,276.31 L625.00,274.66 L625.50,273.02 L626.00,271.50 L626.50,270.15 L627.00,269.01 L627.50,268.12 L628.00,267.49 L628.50,267.09 L629.00,266.90 L629.50,266.90 L630.00,267.08 L630.50,267.45 L631.00,268.02 L631.50,268.80 L632.00,269.85 L632.50,271.17 L633.00,272.76 L633.50,274.62 L634.00,276.75 L634.50,279.13 L635.00,281.75 L635.50,284.54 L636.00,287.23 L636.50,289.28" fill="none" stroke="#1a1a1a" stroke-width="0.95" stroke-linejoin="round"/>
<path d="M639.3,220.5 H650.0" stroke="#1a1a1a" stroke-width="0.8" opacity="0.7"/>
<text x="653.7" y="222.7" font-family="Liberation Serif" font-size="6.72" font-weight="normal" text-anchor="start" textLength="17.3" lengthAdjust="spacingAndGlyphs" stroke="#222" stroke-width="0.12">Total</text>
<path d="M639.3,226.8 H650.0" stroke="#a03030" stroke-width="0.8" opacity="0.7"/>
<text x="653.7" y="229.0" font-family="Liberation Serif" font-size="6.72" font-weight="normal" text-anchor="start" textLength="29.8" lengthAdjust="spacingAndGlyphs" stroke="#222" stroke-width="0.12">Acceptor</text>
<path d="M639.3,233.0 H650.0" stroke="#2828a4" stroke-width="0.8" opacity="0.7"/>
<text x="653.7" y="235.2" font-family="Liberation Serif" font-size="6.72" font-weight="normal" text-anchor="start" textLength="19.6" lengthAdjust="spacingAndGlyphs" stroke="#222" stroke-width="0.12">Donor</text>
<path d="M639.3,239.3 H650.0" stroke="#c032c0" stroke-width="0.8" opacity="0.7"/>
<text x="653.7" y="241.5" font-family="Liberation Serif" font-size="6.72" font-weight="normal" text-anchor="start" textLength="21.9" lengthAdjust="spacingAndGlyphs" stroke="#222" stroke-width="0.12">Bridge</text>
<text x="511.4" y="404.3" font-family="Liberation Sans" font-size="16.50" font-weight="bold" text-anchor="middle" style="fill:#000;stroke:#000;stroke-width:0.35px">A4</text>
</g>
<g id="A5">
<path d="M179.8,449.8 V628.2 M486.4,449.8 V628.2" fill="none" stroke="#777" stroke-width="1.3"/>
<text x="166.4" y="626.8" font-family="Liberation Serif" font-size="8.31" font-weight="normal" text-anchor="middle" textLength="15.6" lengthAdjust="spacingAndGlyphs" >0.00</text>
<path d="M179.8,589.0 h-3.0" stroke="#444" stroke-width="0.9"/>
<text x="166.4" y="591.8" font-family="Liberation Serif" font-size="8.31" font-weight="normal" text-anchor="middle" textLength="15.6" lengthAdjust="spacingAndGlyphs" >0.50</text>
<path d="M179.8,554.0 h-3.0" stroke="#444" stroke-width="0.9"/>
<text x="166.4" y="556.8" font-family="Liberation Serif" font-size="8.31" font-weight="normal" text-anchor="middle" textLength="14.4" lengthAdjust="spacingAndGlyphs" >1.00</text>
<path d="M179.8,519.0 h-3.0" stroke="#444" stroke-width="0.9"/>
<text x="166.4" y="521.8" font-family="Liberation Serif" font-size="8.31" font-weight="normal" text-anchor="middle" textLength="14.4" lengthAdjust="spacingAndGlyphs" >1.50</text>
<path d="M179.8,484.0 h-3.0" stroke="#444" stroke-width="0.9"/>
<text x="166.4" y="486.8" font-family="Liberation Serif" font-size="8.31" font-weight="normal" text-anchor="middle" textLength="15.6" lengthAdjust="spacingAndGlyphs" >2.00</text>
<text x="166.4" y="451.8" font-family="Liberation Serif" font-size="8.31" font-weight="normal" text-anchor="middle" textLength="15.6" lengthAdjust="spacingAndGlyphs" >2.50</text>
<path d="M179.8,624.0 v4.2" stroke="#555" stroke-width="0.9"/>
<text x="180.2" y="635.6" font-family="Liberation Serif" font-size="8.31" font-weight="normal" text-anchor="middle" textLength="25.8" lengthAdjust="spacingAndGlyphs" >−25.00</text>
<path d="M241.1,624.0 v4.2" stroke="#555" stroke-width="0.9"/>
<text x="241.5" y="635.6" font-family="Liberation Serif" font-size="8.31" font-weight="normal" text-anchor="middle" textLength="24.5" lengthAdjust="spacingAndGlyphs" >−15.00</text>
<path d="M302.4,624.0 v4.2" stroke="#555" stroke-width="0.9"/>
<text x="302.8" y="635.6" font-family="Liberation Serif" font-size="8.31" font-weight="normal" text-anchor="middle" textLength="20.6" lengthAdjust="spacingAndGlyphs" >−5.00</text>
<path d="M363.8,624.0 v4.2" stroke="#555" stroke-width="0.9"/>
<text x="363.8" y="635.6" font-family="Liberation Serif" font-size="8.31" font-weight="normal" text-anchor="middle" textLength="15.6" lengthAdjust="spacingAndGlyphs" >5.00</text>
<path d="M425.1,624.0 v4.2" stroke="#555" stroke-width="0.9"/>
<text x="425.1" y="635.6" font-family="Liberation Serif" font-size="8.31" font-weight="normal" text-anchor="middle" textLength="19.3" lengthAdjust="spacingAndGlyphs" >15.00</text>
<path d="M486.4,624.0 v4.2" stroke="#555" stroke-width="0.9"/>
<text x="486.4" y="635.6" font-family="Liberation Serif" font-size="8.31" font-weight="normal" text-anchor="middle" textLength="20.6" lengthAdjust="spacingAndGlyphs" >25.00</text>
<text x="333.1" y="644.1" font-family="Liberation Serif" font-size="8.18" font-weight="normal" text-anchor="middle" textLength="43.8" lengthAdjust="spacingAndGlyphs" >Energy (eV)</text>
<text x="154.3" y="537.0" font-family="Liberation Serif" font-size="8.18" font-weight="normal" text-anchor="middle" textLength="67.9" lengthAdjust="spacingAndGlyphs" transform="rotate(-90 154.3 537.0)">Density−of−states</text>
<path d="M176.6,624.5 H486.9" stroke="#707070" stroke-width="1"/>
<path d="M195.2,624.3 v-1.2 M201.9,624.3 v-1.3 M215.8,624.3 v-1.8 M242.3,624.3 v-1.6 M244.4,624.3 v-1.7 M268.5,624.3 v-1.7 M310.9,624.3 v-1.4 M316.6,624.3 v-1.2 M337.9,624.3 v-2.0 M358.5,624.3 v-1.2 M394.1,624.3 v-1.2 M400.5,624.3 v-1.2 M408.9,624.3 v-1.5 M414.2,624.3 v-2.1 M415.3,624.3 v-1.1 M425.7,624.3 v-1.4 M428.2,624.3 v-2.0 M434.9,624.3 v-2.0 M436.0,624.3 v-1.1 M444.5,624.3 v-2.0 M475.0,624.3 v-1.6 M477.1,624.3 v-1.2 M478.4,624.3 v-1.8" stroke="#9a9ae8" stroke-width="0.9" opacity="0.85" fill="none"/>
<path d="M181.8,624.3 v-1.8 M184.0,624.3 v-2.0 M186.2,624.3 v-1.5 M189.6,624.3 v-1.4 M190.6,624.3 v-2.0 M192.2,624.3 v-1.8 M196.4,624.3 v-1.3 M199.4,624.3 v-1.2 M205.4,624.3 v-2.0 M210.5,624.3 v-2.0 M213.7,624.3 v-1.5 M216.9,624.3 v-1.7 M217.9,624.3 v-1.7 M223.7,624.3 v-1.6 M225.8,624.3 v-1.8 M230.4,624.3 v-2.0 M232.0,624.3 v-1.3 M234.1,624.3 v-1.7 M235.1,624.3 v-1.3 M236.5,624.3 v-1.9 M240.7,624.3 v-1.5 M245.4,624.3 v-1.3 M248.4,624.3 v-1.5 M252.6,624.3 v-2.0 M253.8,624.3 v-2.0 M256.8,624.3 v-2.1 M258.8,624.3 v-1.9 M261.3,624.3 v-1.6 M262.5,624.3 v-1.2 M264.1,624.3 v-1.2 M265.5,624.3 v-1.8 M271.5,624.3 v-1.8 M275.7,624.3 v-1.2 M277.3,624.3 v-1.9 M280.3,624.3 v-1.9 M282.7,624.3 v-1.7 M284.1,624.3 v-1.7 M287.8,624.3 v-2.1 M294.9,624.3 v-1.6 M303.9,624.3 v-1.2 M305.3,624.3 v-1.2 M306.4,624.3 v-1.9 M307.4,624.3 v-1.5 M313.9,624.3 v-1.6 M318.9,624.3 v-1.3 M319.9,624.3 v-1.2 M324.1,624.3 v-1.7 M325.3,624.3 v-1.7 M326.4,624.3 v-1.9 M328.5,624.3 v-1.6 M330.1,624.3 v-1.2 M333.1,624.3 v-2.0 M336.7,624.3 v-1.9 M341.9,624.3 v-1.4 M343.0,624.3 v-1.4 M344.6,624.3 v-1.9 M346.0,624.3 v-1.2 M348.8,624.3 v-1.5 M350.1,624.3 v-1.4 M351.2,624.3 v-1.1 M368.7,624.3 v-2.0 M369.8,624.3 v-1.1 M371.0,624.3 v-1.3 M376.5,624.3 v-1.7 M379.4,624.3 v-1.8 M386.0,624.3 v-2.0 M389.4,624.3 v-2.1 M390.3,624.3 v-1.3 M392.8,624.3 v-1.9 M399.4,624.3 v-1.2 M401.9,624.3 v-1.3 M407.7,624.3 v-1.5 M410.3,624.3 v-1.8 M413.0,624.3 v-1.5 M418.5,624.3 v-1.8 M423.1,624.3 v-1.8 M424.3,624.3 v-1.2 M430.3,624.3 v-1.8 M437.3,624.3 v-1.5 M439.4,624.3 v-2.0 M446.1,624.3 v-1.3 M450.1,624.3 v-2.0 M452.5,624.3 v-1.1 M458.4,624.3 v-2.1 M459.4,624.3 v-1.1 M464.6,624.3 v-1.5 M467.6,624.3 v-1.7 M469.0,624.3 v-1.8 M471.1,624.3 v-1.6 M472.4,624.3 v-2.1 M473.7,624.3 v-1.4 M479.5,624.3 v-1.5 M480.7,624.3 v-2.1 M485.2,624.3 v-1.6" stroke="#2424a8" stroke-width="0.9" opacity="0.85" fill="none"/>
<path d="M180.7,624.3 v-1.5 M183.1,624.3 v-2.0 M209.3,624.3 v-2.0 M211.6,624.3 v-1.1 M212.6,624.3 v-1.6 M227.4,624.3 v-1.8 M251.4,624.3 v-1.3 M289.2,624.3 v-1.6 M292.9,624.3 v-2.1 M295.9,624.3 v-1.7 M308.8,624.3 v-1.6 M347.2,624.3 v-1.7 M360.6,624.3 v-1.6 M366.5,624.3 v-1.2 M382.0,624.3 v-1.9 M387.2,624.3 v-2.0 M391.7,624.3 v-2.1 M396.4,624.3 v-2.1 M404.0,624.3 v-1.1 M411.4,624.3 v-2.0 M417.4,624.3 v-1.8 M442.9,624.3 v-1.4 M451.2,624.3 v-1.2 M463.6,624.3 v-1.8 M482.1,624.3 v-1.8" stroke="#a03030" stroke-width="0.9" opacity="0.85" fill="none"/>
<path d="M237.7,624.3 v-1.2 M257.8,624.3 v-1.1 M260.0,624.3 v-2.1 M274.4,624.3 v-1.7 M290.8,624.3 v-1.9 M293.9,624.3 v-1.8 M296.9,624.3 v-1.1 M315.2,624.3 v-2.1 M317.8,624.3 v-1.6 M335.5,624.3 v-1.8 M352.3,624.3 v-1.8 M356.9,624.3 v-1.3 M363.6,624.3 v-1.9 M372.1,624.3 v-1.6 M420.1,624.3 v-1.3 M441.6,624.3 v-1.6 M447.1,624.3 v-1.6 M454.6,624.3 v-2.0 M483.1,624.3 v-1.9" stroke="#c032c0" stroke-width="0.9" opacity="0.85" fill="none"/>
<path d="M188.3,624.3 v-2.1 M200.7,624.3 v-1.5 M202.9,624.3 v-1.2 M204.3,624.3 v-1.3 M206.4,624.3 v-1.1 M219.5,624.3 v-1.9 M221.6,624.3 v-2.1 M222.6,624.3 v-1.5 M233.1,624.3 v-1.7 M281.4,624.3 v-1.3 M285.7,624.3 v-1.6 M298.0,624.3 v-1.3 M301.0,624.3 v-1.7 M302.3,624.3 v-1.2 M322.0,624.3 v-1.5 M334.4,624.3 v-1.7 M338.9,624.3 v-2.0 M353.4,624.3 v-1.2 M354.8,624.3 v-1.7 M375.1,624.3 v-1.8 M380.7,624.3 v-1.3 M385.0,624.3 v-1.7 M395.3,624.3 v-1.1 M405.6,624.3 v-2.0 M427.0,624.3 v-1.2 M431.9,624.3 v-1.5 M455.8,624.3 v-1.5 M457.4,624.3 v-1.7 M462.4,624.3 v-1.6 M466.0,624.3 v-1.2" stroke="#202060" stroke-width="0.9" opacity="0.85" fill="none"/>
<path d="M179.80,622.91 L180.30,622.76 L180.80,622.55 L181.30,622.33 L181.80,622.10 L182.30,621.86 L182.80,621.61 L183.30,621.35 L183.80,621.08 L184.30,620.81 L184.80,620.54 L185.30,620.28 L185.80,620.02 L186.30,619.79 L186.80,619.59 L187.30,619.40 L187.80,619.25 L188.30,619.12 L188.80,619.00 L189.30,618.89 L189.80,618.79 L190.30,618.69 L190.80,618.58 L191.30,618.46 L191.80,618.32 L192.30,618.17 L192.80,618.02 L193.30,617.86 L193.80,617.70 L194.30,617.56 L194.80,617.45 L195.30,617.36 L195.80,617.31 L196.30,617.31 L196.80,617.36 L197.30,617.46 L197.80,617.59 L198.30,617.74 L198.80,617.86 L199.30,617.96 L199.80,618.01 L200.30,618.03 L200.80,618.01 L201.30,617.96 L201.80,617.90 L202.30,617.82 L202.80,617.73 L203.30,617.63 L203.80,617.54 L204.30,617.44 L204.80,617.36 L205.30,617.31 L205.80,617.28 L206.30,617.31 L206.80,617.39 L207.30,617.55 L207.80,617.77 L208.30,618.04 L208.80,618.35 L209.30,618.69 L209.80,619.05 L210.30,619.44 L210.80,619.83 L211.30,620.21 L211.80,620.58 L212.30,620.91 L212.80,621.19 L213.30,621.41 L213.80,621.59 L214.30,621.72 L214.80,621.81 L215.30,621.84 L215.80,621.81 L216.30,621.73 L216.80,621.59 L217.30,621.39 L217.80,621.14 L218.30,620.85 L218.80,620.52 L219.30,620.17 L219.80,619.79 L220.30,619.39 L220.80,618.96 L221.30,618.54 L221.80,618.13 L222.30,617.74 L222.80,617.41 L223.30,617.11 L223.80,616.86 L224.30,616.66 L224.80,616.49 L225.30,616.38 L225.80,616.31 L226.30,616.29 L226.80,616.30 L227.30,616.34 L227.80,616.41 L228.30,616.50 L228.80,616.62 L229.30,616.76 L229.80,616.92 L230.30,617.11 L230.80,617.32 L231.30,617.55 L231.80,617.78 L232.30,618.03 L232.80,618.28 L233.30,618.53 L233.80,618.75 L234.30,618.93 L234.80,619.05 L235.30,619.08 L235.80,619.02 L236.30,618.89 L236.80,618.70 L237.30,618.47 L237.80,618.21 L238.30,617.93 L238.80,617.65 L239.30,617.37 L239.80,617.09 L240.30,616.82 L240.80,616.55 L241.30,616.30 L241.80,616.06 L242.30,615.85 L242.80,615.65 L243.30,615.48 L243.80,615.34 L244.30,615.24 L244.80,615.18 L245.30,615.19 L245.80,615.26 L246.30,615.37 L246.80,615.51 L247.30,615.66 L247.80,615.78 L248.30,615.88 L248.80,615.93 L249.30,615.93 L249.80,615.86 L250.30,615.72 L250.80,615.49 L251.30,615.14 L251.80,614.66 L252.30,614.04 L252.80,613.30 L253.30,612.50 L253.80,611.68 L254.30,610.89 L254.80,610.15 L255.30,609.46 L255.80,608.81 L256.30,608.22 L256.80,607.67 L257.30,607.16 L257.80,606.69 L258.30,606.27 L258.80,605.90 L259.30,605.60 L259.80,605.37 L260.30,605.23 L260.80,605.20 L261.30,605.31 L261.80,605.57 L262.30,605.95 L262.80,606.42 L263.30,606.94 L263.80,607.47 L264.30,608.00 L264.80,608.53 L265.30,609.03 L265.80,609.51 L266.30,609.96 L266.80,610.36 L267.30,610.73 L267.80,611.06 L268.30,611.37 L268.80,611.65 L269.30,611.91 L269.80,612.15 L270.30,612.37 L270.80,612.58 L271.30,612.78 L271.80,612.97 L272.30,613.17 L272.80,613.37 L273.30,613.58 L273.80,613.80 L274.30,614.04 L274.80,614.29 L275.30,614.54 L275.80,614.79 L276.30,615.03 L276.80,615.25 L277.30,615.44 L277.80,615.61 L278.30,615.77 L278.80,615.90 L279.30,616.02 L279.80,616.12 L280.30,616.20 L280.80,616.27 L281.30,616.33 L281.80,616.37 L282.30,616.39 L282.80,616.37 L283.30,616.30 L283.80,616.16 L284.30,615.95 L284.80,615.65 L285.30,615.30 L285.80,614.94 L286.30,614.58 L286.80,614.25 L287.30,613.96 L287.80,613.72 L288.30,613.55 L288.80,613.47 L289.30,613.51 L289.80,613.69 L290.30,614.00 L290.80,614.43 L291.30,614.94 L291.80,615.51 L292.30,616.11 L292.80,616.75 L293.30,617.39 L293.80,618.01 L294.30,618.60 L294.80,619.14 L295.30,619.63 L295.80,620.08 L296.30,620.48 L296.80,620.85 L297.30,621.18 L297.80,621.47 L298.30,621.73 L298.80,621.96 L299.30,622.17 L299.80,622.35 L300.30,622.52 L300.80,622.66 L301.30,622.79 L301.80,622.91 L302.30,623.01 L302.80,623.10 L303.30,623.18 L303.80,623.26 L304.30,623.32 L304.80,623.37 L305.30,623.40 L305.80,623.42 L306.30,623.42 L306.80,623.41 L307.30,623.38 L307.80,623.32 L308.30,623.25 L308.80,623.16 L309.30,623.04 L309.80,622.91 L310.30,622.75 L310.80,622.56 L311.30,622.35 L311.80,622.10 L312.30,621.82 L312.80,621.53 L313.30,621.22 L313.80,620.92 L314.30,620.62 L314.80,620.33 L315.30,620.06 L315.80,619.81 L316.30,619.58 L316.80,619.36 L317.30,619.16 L317.80,618.96 L318.30,618.79 L318.80,618.62 L319.30,618.46 L319.80,618.32 L320.30,618.18 L320.80,618.06 L321.30,617.95 L321.80,617.86 L322.30,617.79 L322.80,617.74 L323.30,617.72 L323.80,617.74 L324.30,617.78 L324.80,617.84 L325.30,617.94 L325.80,618.06 L326.30,618.22 L326.80,618.40 L327.30,618.61 L327.80,618.83 L328.30,619.01 L328.80,619.15 L329.30,619.24 L329.80,619.28 L330.30,619.27 L330.80,619.23 L331.30,619.13 L331.80,618.98 L332.30,618.77 L332.80,618.51 L333.30,618.24 L333.80,617.98 L334.30,617.75 L334.80,617.56 L335.30,617.42 L335.80,617.34 L336.30,617.33 L336.80,617.39 L337.30,617.53 L337.80,617.72 L338.30,617.95 L338.80,618.18 L339.30,618.40 L339.80,618.59 L340.30,618.75 L340.80,618.88 L341.30,618.95 L341.80,618.97 L342.30,618.92 L342.80,618.78 L343.30,618.56 L343.80,618.26 L344.30,617.89 L344.80,617.46 L345.30,616.97 L345.80,616.44 L346.30,615.87 L346.80,615.29 L347.30,614.75 L347.80,614.27 L348.30,613.86 L348.80,613.51 L349.30,613.23 L349.80,613.00 L350.30,612.84 L350.80,612.73 L351.30,612.66 L351.80,612.63 L352.30,612.62 L352.80,612.64 L353.30,612.68 L353.80,612.76 L354.30,612.86 L354.80,612.99 L355.30,613.12 L355.80,613.25 L356.30,613.36 L356.80,613.44 L357.30,613.49 L357.80,613.51 L358.30,613.51 L358.80,613.47 L359.30,613.39 L359.80,613.26 L360.30,613.09 L360.80,612.89 L361.30,612.67 L361.80,612.45 L362.30,612.26 L362.80,612.09 L363.30,611.95 L363.80,611.82 L364.30,611.71 L364.80,611.61 L365.30,611.52 L365.80,611.44 L366.30,611.38 L366.80,611.32 L367.30,611.29 L367.80,611.29 L368.30,611.33 L368.80,611.40 L369.30,611.51 L369.80,611.65 L370.30,611.82 L370.80,612.00 L371.30,612.21 L371.80,612.42 L372.30,612.64 L372.80,612.84 L373.30,613.01 L373.80,613.15 L374.30,613.22 L374.80,613.24 L375.30,613.20 L375.80,613.12 L376.30,613.00 L376.80,612.84 L377.30,612.65 L377.80,612.44 L378.30,612.22 L378.80,612.00 L379.30,611.81 L379.80,611.66 L380.30,611.57 L380.80,611.54 L381.30,611.57 L381.80,611.67 L382.30,611.83 L382.80,612.06 L383.30,612.33 L383.80,612.62 L384.30,612.93 L384.80,613.25 L385.30,613.56 L385.80,613.87 L386.30,614.18 L386.80,614.48 L387.30,614.76 L387.80,615.04 L388.30,615.30 L388.80,615.54 L389.30,615.77 L389.80,615.99 L390.30,616.19 L390.80,616.38 L391.30,616.55 L391.80,616.71 L392.30,616.85 L392.80,616.98 L393.30,617.10 L393.80,617.21 L394.30,617.30 L394.80,617.38 L395.30,617.45 L395.80,617.50 L396.30,617.54 L396.80,617.57 L397.30,617.59 L397.80,617.60 L398.30,617.61 L398.80,617.61 L399.30,617.60 L399.80,617.59 L400.30,617.58 L400.80,617.57 L401.30,617.55 L401.80,617.52 L402.30,617.50 L402.80,617.46 L403.30,617.43 L403.80,617.39 L404.30,617.35 L404.80,617.31 L405.30,617.26 L405.80,617.20 L406.30,617.11 L406.80,616.99 L407.30,616.83 L407.80,616.61 L408.30,616.31 L408.80,615.93 L409.30,615.45 L409.80,614.89 L410.30,614.25 L410.80,613.54 L411.30,612.75 L411.80,611.91 L412.30,611.02 L412.80,610.12 L413.30,609.22 L413.80,608.35 L414.30,607.51 L414.80,606.70 L415.30,605.95 L415.80,605.25 L416.30,604.62 L416.80,604.06 L417.30,603.56 L417.80,603.13 L418.30,602.78 L418.80,602.50 L419.30,602.32 L419.80,602.21 L420.30,602.17 L420.80,602.19 L421.30,602.28 L421.80,602.44 L422.30,602.68 L422.80,602.95 L423.30,603.21 L423.80,603.43 L424.30,603.59 L424.80,603.68 L425.30,603.68 L425.80,603.58 L426.30,603.38 L426.80,603.08 L427.30,602.72 L427.80,602.34 L428.30,601.97 L428.80,601.62 L429.30,601.29 L429.80,600.98 L430.30,600.70 L430.80,600.47 L431.30,600.29 L431.80,600.21 L432.30,600.24 L432.80,600.39 L433.30,600.67 L433.80,601.09 L434.30,601.63 L434.80,602.28 L435.30,602.99 L435.80,603.74 L436.30,604.50 L436.80,605.25 L437.30,606.01 L437.80,606.76 L438.30,607.49 L438.80,608.22 L439.30,608.92 L439.80,609.60 L440.30,610.24 L440.80,610.82 L441.30,611.33 L441.80,611.75 L442.30,612.11 L442.80,612.40 L443.30,612.63 L443.80,612.81 L444.30,612.95 L444.80,613.05 L445.30,613.12 L445.80,613.19 L446.30,613.26 L446.80,613.35 L447.30,613.47 L447.80,613.64 L448.30,613.85 L448.80,614.10 L449.30,614.38 L449.80,614.69 L450.30,615.02 L450.80,615.37 L451.30,615.73 L451.80,616.09 L452.30,616.43 L452.80,616.74 L453.30,617.02 L453.80,617.24 L454.30,617.40 L454.80,617.48 L455.30,617.47 L455.80,617.35 L456.30,617.14 L456.80,616.83 L457.30,616.45 L457.80,615.98 L458.30,615.43 L458.80,614.81 L459.30,614.13 L459.80,613.40 L460.30,612.64 L460.80,611.85 L461.30,611.05 L461.80,610.28 L462.30,609.57 L462.80,608.95 L463.30,608.44 L463.80,608.04 L464.30,607.78 L464.80,607.66 L465.30,607.68 L465.80,607.81 L466.30,608.00 L466.80,608.20 L467.30,608.39 L467.80,608.54 L468.30,608.63 L468.80,608.67 L469.30,608.66 L469.80,608.58 L470.30,608.45 L470.80,608.28 L471.30,608.08 L471.80,607.88 L472.30,607.70 L472.80,607.54 L473.30,607.41 L473.80,607.33 L474.30,607.32 L474.80,607.38 L475.30,607.51 L475.80,607.70 L476.30,607.93 L476.80,608.17 L477.30,608.42 L477.80,608.65 L478.30,608.87 L478.80,609.07 L479.30,609.22 L479.80,609.33 L480.30,609.38 L480.80,609.39 L481.30,609.36 L481.80,609.30 L482.30,609.23 L482.80,609.16 L483.30,609.08 L483.80,609.01 L484.30,608.94 L484.80,608.88 L485.30,608.82 L485.80,608.77 L486.30,608.73" fill="none" stroke="#c032c0" stroke-width="0.95" stroke-linejoin="round"/>
<path d="M179.80,584.50 L180.30,584.74 L180.80,585.15 L181.30,585.77 L181.80,586.63 L182.30,587.74 L182.80,589.07 L183.30,590.54 L183.80,592.07 L184.30,593.61 L184.80,595.10 L185.30,596.55 L185.80,597.95 L186.30,599.28 L186.80,600.53 L187.30,601.68 L187.80,602.73 L188.30,603.67 L188.80,604.52 L189.30,605.26 L189.80,605.89 L190.30,606.40 L190.80,606.78 L191.30,607.03 L191.80,607.15 L192.30,607.14 L192.80,607.00 L193.30,606.72 L193.80,606.34 L194.30,605.88 L194.80,605.36 L195.30,604.79 L195.80,604.18 L196.30,603.54 L196.80,602.90 L197.30,602.27 L197.80,601.69 L198.30,601.17 L198.80,600.73 L199.30,600.36 L199.80,600.05 L200.30,599.78 L200.80,599.56 L201.30,599.38 L201.80,599.23 L202.30,599.11 L202.80,599.03 L203.30,599.02 L203.80,599.13 L204.30,599.38 L204.80,599.76 L205.30,600.25 L205.80,600.78 L206.30,601.32 L206.80,601.84 L207.30,602.33 L207.80,602.80 L208.30,603.23 L208.80,603.62 L209.30,603.96 L209.80,604.24 L210.30,604.46 L210.80,604.63 L211.30,604.76 L211.80,604.83 L212.30,604.85 L212.80,604.79 L213.30,604.66 L213.80,604.44 L214.30,604.13 L214.80,603.77 L215.30,603.35 L215.80,602.90 L216.30,602.44 L216.80,601.98 L217.30,601.51 L217.80,601.07 L218.30,600.69 L218.80,600.39 L219.30,600.21 L219.80,600.15 L220.30,600.17 L220.80,600.23 L221.30,600.30 L221.80,600.34 L222.30,600.30 L222.80,600.15 L223.30,599.87 L223.80,599.46 L224.30,598.93 L224.80,598.30 L225.30,597.56 L225.80,596.72 L226.30,595.82 L226.80,594.90 L227.30,594.03 L227.80,593.27 L228.30,592.63 L228.80,592.12 L229.30,591.72 L229.80,591.43 L230.30,591.24 L230.80,591.14 L231.30,591.16 L231.80,591.32 L232.30,591.63 L232.80,592.07 L233.30,592.57 L233.80,593.08 L234.30,593.52 L234.80,593.88 L235.30,594.14 L235.80,594.29 L236.30,594.31 L236.80,594.21 L237.30,593.97 L237.80,593.63 L238.30,593.22 L238.80,592.78 L239.30,592.35 L239.80,591.96 L240.30,591.59 L240.80,591.26 L241.30,590.96 L241.80,590.68 L242.30,590.42 L242.80,590.19 L243.30,589.97 L243.80,589.77 L244.30,589.59 L244.80,589.40 L245.30,589.21 L245.80,589.00 L246.30,588.75 L246.80,588.41 L247.30,587.91 L247.80,587.13 L248.30,585.94 L248.80,584.22 L249.30,581.88 L249.80,578.99 L250.30,575.72 L250.80,572.32 L251.30,569.00 L251.80,565.89 L252.30,563.01 L252.80,560.36 L253.30,557.90 L253.80,555.62 L254.30,553.51 L254.80,551.61 L255.30,549.99 L255.80,548.68 L256.30,547.68 L256.80,546.96 L257.30,546.47 L257.80,546.18 L258.30,546.06 L258.80,546.10 L259.30,546.35 L259.80,546.82 L260.30,547.47 L260.80,548.23 L261.30,549.04 L261.80,549.84 L262.30,550.60 L262.80,551.27 L263.30,551.80 L263.80,552.16 L264.30,552.35 L264.80,552.37 L265.30,552.22 L265.80,551.88 L266.30,551.33 L266.80,550.58 L267.30,549.61 L267.80,548.44 L268.30,547.13 L268.80,545.77 L269.30,544.47 L269.80,543.28 L270.30,542.28 L270.80,541.49 L271.30,540.95 L271.80,540.65 L272.30,540.61 L272.80,540.85 L273.30,541.43 L273.80,542.42 L274.30,543.87 L274.80,545.83 L275.30,548.32 L275.80,551.24 L276.30,554.48 L276.80,557.94 L277.30,561.44 L277.80,564.80 L278.30,567.91 L278.80,570.69 L279.30,573.16 L279.80,575.30 L280.30,577.13 L280.80,578.62 L281.30,579.71 L281.80,580.31 L282.30,580.39 L282.80,580.00 L283.30,579.27 L283.80,578.34 L284.30,577.33 L284.80,576.33 L285.30,575.40 L285.80,574.60 L286.30,574.00 L286.80,573.65 L287.30,573.58 L287.80,573.87 L288.30,574.59 L288.80,575.73 L289.30,577.31 L289.80,579.29 L290.30,581.63 L290.80,584.18 L291.30,586.79 L291.80,589.33 L292.30,591.77 L292.80,594.10 L293.30,596.33 L293.80,598.46 L294.30,600.50 L294.80,602.46 L295.30,604.34 L295.80,606.15 L296.30,607.86 L296.80,609.47 L297.30,610.97 L297.80,612.36 L298.30,613.66 L298.80,614.87 L299.30,615.97 L299.80,616.96 L300.30,617.85 L300.80,618.63 L301.30,619.32 L301.80,619.92 L302.30,620.45 L302.80,620.91 L303.30,621.31 L303.80,621.64 L304.30,621.92 L304.80,622.11 L305.30,622.20 L305.80,622.11 L306.30,621.80 L306.80,621.26 L307.30,620.53 L307.80,619.69 L308.30,618.77 L308.80,617.81 L309.30,616.81 L309.80,615.79 L310.30,614.78 L310.80,613.77 L311.30,612.77 L311.80,611.80 L312.30,610.85 L312.80,609.93 L313.30,609.05 L313.80,608.23 L314.30,607.46 L314.80,606.74 L315.30,606.08 L315.80,605.47 L316.30,604.92 L316.80,604.41 L317.30,603.96 L317.80,603.56 L318.30,603.22 L318.80,602.92 L319.30,602.67 L319.80,602.48 L320.30,602.36 L320.80,602.32 L321.30,602.36 L321.80,602.47 L322.30,602.66 L322.80,602.91 L323.30,603.21 L323.80,603.55 L324.30,603.89 L324.80,604.16 L325.30,604.30 L325.80,604.22 L326.30,603.83 L326.80,603.03 L327.30,601.70 L327.80,599.79 L328.30,597.42 L328.80,594.89 L329.30,592.51 L329.80,590.44 L330.30,588.73 L330.80,587.33 L331.30,586.22 L331.80,585.34 L332.30,584.65 L332.80,584.12 L333.30,583.76 L333.80,583.53 L334.30,583.44 L334.80,583.48 L335.30,583.64 L335.80,583.89 L336.30,584.21 L336.80,584.54 L337.30,584.83 L337.80,585.08 L338.30,585.24 L338.80,585.31 L339.30,585.26 L339.80,585.06 L340.30,584.73 L340.80,584.29 L341.30,583.80 L341.80,583.29 L342.30,582.77 L342.80,582.27 L343.30,581.81 L343.80,581.41 L344.30,581.07 L344.80,580.82 L345.30,580.64 L345.80,580.56 L346.30,580.54 L346.80,580.54 L347.30,580.52 L347.80,580.40 L348.30,580.11 L348.80,579.58 L349.30,578.76 L349.80,577.61 L350.30,576.10 L350.80,574.24 L351.30,572.09 L351.80,569.77 L352.30,567.40 L352.80,565.07 L353.30,562.82 L353.80,560.76 L354.30,558.94 L354.80,557.39 L355.30,556.12 L355.80,555.11 L356.30,554.34 L356.80,553.80 L357.30,553.46 L357.80,553.35 L358.30,553.48 L358.80,553.86 L359.30,554.50 L359.80,555.39 L360.30,556.54 L360.80,557.95 L361.30,559.60 L361.80,561.40 L362.30,563.31 L362.80,565.28 L363.30,567.29 L363.80,569.28 L364.30,571.24 L364.80,573.13 L365.30,574.91 L365.80,576.54 L366.30,577.97 L366.80,579.17 L367.30,580.15 L367.80,580.93 L368.30,581.50 L368.80,581.86 L369.30,581.95 L369.80,581.70 L370.30,581.09 L370.80,580.18 L371.30,579.07 L371.80,577.81 L372.30,576.47 L372.80,575.13 L373.30,573.86 L373.80,572.75 L374.30,571.83 L374.80,571.15 L375.30,570.75 L375.80,570.63 L376.30,570.78 L376.80,571.15 L377.30,571.72 L377.80,572.45 L378.30,573.28 L378.80,574.11 L379.30,574.83 L379.80,575.38 L380.30,575.74 L380.80,575.91 L381.30,575.88 L381.80,575.65 L382.30,575.25 L382.80,574.73 L383.30,574.10 L383.80,573.41 L384.30,572.68 L384.80,571.94 L385.30,571.22 L385.80,570.58 L386.30,570.03 L386.80,569.58 L387.30,569.25 L387.80,569.06 L388.30,569.01 L388.80,569.12 L389.30,569.39 L389.80,569.84 L390.30,570.49 L390.80,571.33 L391.30,572.31 L391.80,573.35 L392.30,574.38 L392.80,575.34 L393.30,576.22 L393.80,577.02 L394.30,577.74 L394.80,578.38 L395.30,578.95 L395.80,579.44 L396.30,579.85 L396.80,580.17 L397.30,580.42 L397.80,580.60 L398.30,580.71 L398.80,580.75 L399.30,580.72 L399.80,580.65 L400.30,580.52 L400.80,580.36 L401.30,580.16 L401.80,579.93 L402.30,579.66 L402.80,579.34 L403.30,578.96 L403.80,578.52 L404.30,578.00 L404.80,577.41 L405.30,576.73 L405.80,575.99 L406.30,575.21 L406.80,574.41 L407.30,573.61 L407.80,572.80 L408.30,571.95 L408.80,571.00 L409.30,569.89 L409.80,568.60 L410.30,567.13 L410.80,565.51 L411.30,563.80 L411.80,562.03 L412.30,560.24 L412.80,558.46 L413.30,556.68 L413.80,554.92 L414.30,553.19 L414.80,551.49 L415.30,549.84 L415.80,548.23 L416.30,546.66 L416.80,545.17 L417.30,543.75 L417.80,542.43 L418.30,541.20 L418.80,540.06 L419.30,539.02 L419.80,538.06 L420.30,537.19 L420.80,536.40 L421.30,535.66 L421.80,534.93 L422.30,534.16 L422.80,533.32 L423.30,532.42 L423.80,531.51 L424.30,530.64 L424.80,529.85 L425.30,529.18 L425.80,528.63 L426.30,528.21 L426.80,527.94 L427.30,527.84 L427.80,527.93 L428.30,528.19 L428.80,528.61 L429.30,529.18 L429.80,529.85 L430.30,530.62 L430.80,531.49 L431.30,532.45 L431.80,533.48 L432.30,534.55 L432.80,535.64 L433.30,536.76 L433.80,537.90 L434.30,539.08 L434.80,540.31 L435.30,541.62 L435.80,543.02 L436.30,544.54 L436.80,546.18 L437.30,547.93 L437.80,549.77 L438.30,551.64 L438.80,553.50 L439.30,555.31 L439.80,557.02 L440.30,558.58 L440.80,559.94 L441.30,561.09 L441.80,562.04 L442.30,562.81 L442.80,563.40 L443.30,563.84 L443.80,564.17 L444.30,564.42 L444.80,564.64 L445.30,564.86 L445.80,565.09 L446.30,565.37 L446.80,565.69 L447.30,566.05 L447.80,566.46 L448.30,566.90 L448.80,567.38 L449.30,567.88 L449.80,568.39 L450.30,568.87 L450.80,569.30 L451.30,569.66 L451.80,569.95 L452.30,570.15 L452.80,570.24 L453.30,570.19 L453.80,569.98 L454.30,569.56 L454.80,568.88 L455.30,567.89 L455.80,566.51 L456.30,564.75 L456.80,562.62 L457.30,560.16 L457.80,557.40 L458.30,554.43 L458.80,551.41 L459.30,548.48 L459.80,545.77 L460.30,543.33 L460.80,541.22 L461.30,539.52 L461.80,538.23 L462.30,537.32 L462.80,536.73 L463.30,536.40 L463.80,536.33 L464.30,536.54 L464.80,537.03 L465.30,537.74 L465.80,538.61 L466.30,539.59 L466.80,540.61 L467.30,541.60 L467.80,542.49 L468.30,543.24 L468.80,543.86 L469.30,544.35 L469.80,544.76 L470.30,545.11 L470.80,545.42 L471.30,545.74 L471.80,546.12 L472.30,546.60 L472.80,547.22 L473.30,547.98 L473.80,548.87 L474.30,549.88 L474.80,550.99 L475.30,552.15 L475.80,553.32 L476.30,554.42 L476.80,555.41 L477.30,556.25 L477.80,556.94 L478.30,557.47 L478.80,557.85 L479.30,558.11 L479.80,558.29 L480.30,558.45 L480.80,558.67 L481.30,558.97 L481.80,559.39 L482.30,559.92 L482.80,560.57 L483.30,561.34 L483.80,562.23 L484.30,563.21 L484.80,564.26 L485.30,565.35 L485.80,566.37 L486.30,567.15" fill="none" stroke="#a03030" stroke-width="0.95" stroke-linejoin="round"/>
<path d="M179.80,597.90 L180.30,597.83 L180.80,597.77 L181.30,597.78 L181.80,597.92 L182.30,598.26 L182.80,598.84 L183.30,599.62 L183.80,600.54 L184.30,601.51 L184.80,602.47 L185.30,603.42 L185.80,604.33 L186.30,605.18 L186.80,605.96 L187.30,606.66 L187.80,607.27 L188.30,607.80 L188.80,608.26 L189.30,608.65 L189.80,608.96 L190.30,609.20 L190.80,609.38 L191.30,609.51 L191.80,609.61 L192.30,609.66 L192.80,609.67 L193.30,609.65 L193.80,609.58 L194.30,609.48 L194.80,609.35 L195.30,609.18 L195.80,608.98 L196.30,608.76 L196.80,608.49 L197.30,608.19 L197.80,607.85 L198.30,607.47 L198.80,607.05 L199.30,606.58 L199.80,606.07 L200.30,605.50 L200.80,604.85 L201.30,604.10 L201.80,603.22 L202.30,602.19 L202.80,600.96 L203.30,599.53 L203.80,597.93 L204.30,596.25 L204.80,594.60 L205.30,593.07 L205.80,591.69 L206.30,590.49 L206.80,589.48 L207.30,588.66 L207.80,588.04 L208.30,587.62 L208.80,587.43 L209.30,587.49 L209.80,587.79 L210.30,588.30 L210.80,588.99 L211.30,589.82 L211.80,590.76 L212.30,591.82 L212.80,592.95 L213.30,594.11 L213.80,595.26 L214.30,596.35 L214.80,597.36 L215.30,598.30 L215.80,599.15 L216.30,599.91 L216.80,600.57 L217.30,601.12 L217.80,601.57 L218.30,601.93 L218.80,602.21 L219.30,602.39 L219.80,602.46 L220.30,602.43 L220.80,602.30 L221.30,602.08 L221.80,601.81 L222.30,601.51 L222.80,601.21 L223.30,600.93 L223.80,600.68 L224.30,600.46 L224.80,600.30 L225.30,600.20 L225.80,600.18 L226.30,600.26 L226.80,600.43 L227.30,600.70 L227.80,601.05 L228.30,601.48 L228.80,601.98 L229.30,602.52 L229.80,603.07 L230.30,603.59 L230.80,604.03 L231.30,604.35 L231.80,604.52 L232.30,604.46 L232.80,604.13 L233.30,603.53 L233.80,602.68 L234.30,601.63 L234.80,600.41 L235.30,599.02 L235.80,597.49 L236.30,595.86 L236.80,594.17 L237.30,592.45 L237.80,590.77 L238.30,589.20 L238.80,587.82 L239.30,586.69 L239.80,585.87 L240.30,585.46 L240.80,585.48 L241.30,585.88 L241.80,586.53 L242.30,587.32 L242.80,588.15 L243.30,588.97 L243.80,589.70 L244.30,590.28 L244.80,590.68 L245.30,590.91 L245.80,590.95 L246.30,590.79 L246.80,590.40 L247.30,589.76 L247.80,588.84 L248.30,587.59 L248.80,586.00 L249.30,584.07 L249.80,581.88 L250.30,579.48 L250.80,576.95 L251.30,574.34 L251.80,571.69 L252.30,569.01 L252.80,566.34 L253.30,563.72 L253.80,561.19 L254.30,558.79 L254.80,556.57 L255.30,554.59 L255.80,552.91 L256.30,551.53 L256.80,550.42 L257.30,549.51 L257.80,548.78 L258.30,548.18 L258.80,547.67 L259.30,547.25 L259.80,546.91 L260.30,546.64 L260.80,546.43 L261.30,546.29 L261.80,546.23 L262.30,546.25 L262.80,546.37 L263.30,546.57 L263.80,546.85 L264.30,547.18 L264.80,547.55 L265.30,547.91 L265.80,548.23 L266.30,548.43 L266.80,548.49 L267.30,548.38 L267.80,548.11 L268.30,547.68 L268.80,547.14 L269.30,546.58 L269.80,546.07 L270.30,545.70 L270.80,545.52 L271.30,545.60 L271.80,546.01 L272.30,546.77 L272.80,547.93 L273.30,549.53 L273.80,551.60 L274.30,554.07 L274.80,556.86 L275.30,559.90 L275.80,563.09 L276.30,566.29 L276.80,569.38 L277.30,572.27 L277.80,574.95 L278.30,577.39 L278.80,579.59 L279.30,581.54 L279.80,583.25 L280.30,584.69 L280.80,585.82 L281.30,586.62 L281.80,587.11 L282.30,587.30 L282.80,587.21 L283.30,586.84 L283.80,586.27 L284.30,585.57 L284.80,584.79 L285.30,584.00 L285.80,583.23 L286.30,582.53 L286.80,581.98 L287.30,581.62 L287.80,581.47 L288.30,581.54 L288.80,581.90 L289.30,582.59 L289.80,583.65 L290.30,585.05 L290.80,586.77 L291.30,588.78 L291.80,591.03 L292.30,593.41 L292.80,595.80 L293.30,598.12 L293.80,600.32 L294.30,602.41 L294.80,604.38 L295.30,606.20 L295.80,607.88 L296.30,609.43 L296.80,610.85 L297.30,612.16 L297.80,613.37 L298.30,614.47 L298.80,615.47 L299.30,616.37 L299.80,617.19 L300.30,617.93 L300.80,618.60 L301.30,619.21 L301.80,619.76 L302.30,620.26 L302.80,620.70 L303.30,621.10 L303.80,621.45 L304.30,621.76 L304.80,621.99 L305.30,622.15 L305.80,622.22 L306.30,622.19 L306.80,622.07 L307.30,621.87 L307.80,621.62 L308.30,621.32 L308.80,620.98 L309.30,620.63 L309.80,620.26 L310.30,619.88 L310.80,619.47 L311.30,619.03 L311.80,618.55 L312.30,618.02 L312.80,617.44 L313.30,616.80 L313.80,616.07 L314.30,615.26 L314.80,614.36 L315.30,613.37 L315.80,612.26 L316.30,611.06 L316.80,609.78 L317.30,608.46 L317.80,607.20 L318.30,606.05 L318.80,605.06 L319.30,604.23 L319.80,603.55 L320.30,602.99 L320.80,602.54 L321.30,602.17 L321.80,601.89 L322.30,601.71 L322.80,601.67 L323.30,601.83 L323.80,602.18 L324.30,602.68 L324.80,603.26 L325.30,603.85 L325.80,604.37 L326.30,604.74 L326.80,604.86 L327.30,604.66 L327.80,604.12 L328.30,603.24 L328.80,602.06 L329.30,600.60 L329.80,598.87 L330.30,596.94 L330.80,594.90 L331.30,592.88 L331.80,590.98 L332.30,589.24 L332.80,587.75 L333.30,586.58 L333.80,585.75 L334.30,585.23 L334.80,584.97 L335.30,584.91 L335.80,585.02 L336.30,585.24 L336.80,585.56 L337.30,585.94 L337.80,586.34 L338.30,586.71 L338.80,586.96 L339.30,587.01 L339.80,586.76 L340.30,586.17 L340.80,585.20 L341.30,583.83 L341.80,582.06 L342.30,579.91 L342.80,577.56 L343.30,575.19 L343.80,572.97 L344.30,570.98 L344.80,569.24 L345.30,567.77 L345.80,566.55 L346.30,565.58 L346.80,564.81 L347.30,564.22 L347.80,563.77 L348.30,563.44 L348.80,563.15 L349.30,562.80 L349.80,562.29 L350.30,561.51 L350.80,560.44 L351.30,559.13 L351.80,557.65 L352.30,556.11 L352.80,554.56 L353.30,553.03 L353.80,551.57 L354.30,550.21 L354.80,548.99 L355.30,547.95 L355.80,547.12 L356.30,546.55 L356.80,546.25 L357.30,546.21 L357.80,546.45 L358.30,546.95 L358.80,547.69 L359.30,548.64 L359.80,549.78 L360.30,551.07 L360.80,552.42 L361.30,553.75 L361.80,555.00 L362.30,556.13 L362.80,557.14 L363.30,558.01 L363.80,558.73 L364.30,559.31 L364.80,559.78 L365.30,560.15 L365.80,560.43 L366.30,560.64 L366.80,560.80 L367.30,560.92 L367.80,561.01 L368.30,561.09 L368.80,561.18 L369.30,561.28 L369.80,561.43 L370.30,561.66 L370.80,561.99 L371.30,562.47 L371.80,563.10 L372.30,563.90 L372.80,564.89 L373.30,566.02 L373.80,567.22 L374.30,568.41 L374.80,569.55 L375.30,570.61 L375.80,571.59 L376.30,572.50 L376.80,573.34 L377.30,574.11 L377.80,574.79 L378.30,575.36 L378.80,575.80 L379.30,576.13 L379.80,576.33 L380.30,576.40 L380.80,576.32 L381.30,576.08 L381.80,575.68 L382.30,575.15 L382.80,574.49 L383.30,573.70 L383.80,572.79 L384.30,571.78 L384.80,570.71 L385.30,569.60 L385.80,568.47 L386.30,567.30 L386.80,566.11 L387.30,564.90 L387.80,563.66 L388.30,562.45 L388.80,561.33 L389.30,560.35 L389.80,559.59 L390.30,559.08 L390.80,558.90 L391.30,559.07 L391.80,559.60 L392.30,560.44 L392.80,561.56 L393.30,562.93 L393.80,564.49 L394.30,566.16 L394.80,567.88 L395.30,569.60 L395.80,571.26 L396.30,572.80 L396.80,574.18 L397.30,575.38 L397.80,576.41 L398.30,577.26 L398.80,577.94 L399.30,578.47 L399.80,578.86 L400.30,579.13 L400.80,579.28 L401.30,579.33 L401.80,579.31 L402.30,579.26 L402.80,579.19 L403.30,579.13 L403.80,579.10 L404.30,579.11 L404.80,579.15 L405.30,579.21 L405.80,579.27 L406.30,579.32 L406.80,579.34 L407.30,579.30 L407.80,579.20 L408.30,578.99 L408.80,578.68 L409.30,578.26 L409.80,577.72 L410.30,577.05 L410.80,576.24 L411.30,575.27 L411.80,574.13 L412.30,572.87 L412.80,571.53 L413.30,570.14 L413.80,568.75 L414.30,567.36 L414.80,565.97 L415.30,564.59 L415.80,563.22 L416.30,561.89 L416.80,560.58 L417.30,559.29 L417.80,558.03 L418.30,556.79 L418.80,555.56 L419.30,554.35 L419.80,553.14 L420.30,551.95 L420.80,550.79 L421.30,549.69 L421.80,548.66 L422.30,547.71 L422.80,546.84 L423.30,546.05 L423.80,545.34 L424.30,544.71 L424.80,544.15 L425.30,543.67 L425.80,543.25 L426.30,542.90 L426.80,542.64 L427.30,542.48 L427.80,542.42 L428.30,542.46 L428.80,542.62 L429.30,542.92 L429.80,543.33 L430.30,543.82 L430.80,544.34 L431.30,544.87 L431.80,545.38 L432.30,545.89 L432.80,546.38 L433.30,546.85 L433.80,547.30 L434.30,547.73 L434.80,548.17 L435.30,548.65 L435.80,549.20 L436.30,549.87 L436.80,550.69 L437.30,551.67 L437.80,552.84 L438.30,554.19 L438.80,555.71 L439.30,557.39 L439.80,559.21 L440.30,561.09 L440.80,562.98 L441.30,564.83 L441.80,566.60 L442.30,568.20 L442.80,569.56 L443.30,570.67 L443.80,571.53 L444.30,572.18 L444.80,572.64 L445.30,572.95 L445.80,573.16 L446.30,573.33 L446.80,573.51 L447.30,573.77 L447.80,574.12 L448.30,574.58 L448.80,575.13 L449.30,575.74 L449.80,576.41 L450.30,577.09 L450.80,577.75 L451.30,578.34 L451.80,578.84 L452.30,579.21 L452.80,579.44 L453.30,579.49 L453.80,579.32 L454.30,578.90 L454.80,578.21 L455.30,577.20 L455.80,575.83 L456.30,574.07 L456.80,571.93 L457.30,569.40 L457.80,566.53 L458.30,563.41 L458.80,560.21 L459.30,557.12 L459.80,554.25 L460.30,551.67 L460.80,549.39 L461.30,547.45 L461.80,545.86 L462.30,544.63 L462.80,543.76 L463.30,543.24 L463.80,543.06 L464.30,543.19 L464.80,543.60 L465.30,544.25 L465.80,545.06 L466.30,545.98 L466.80,546.96 L467.30,547.97 L467.80,548.95 L468.30,549.87 L468.80,550.69 L469.30,551.36 L469.80,551.81 L470.30,552.01 L470.80,551.95 L471.30,551.67 L471.80,551.20 L472.30,550.57 L472.80,549.79 L473.30,548.86 L473.80,547.80 L474.30,546.63 L474.80,545.38 L475.30,544.07 L475.80,542.73 L476.30,541.41 L476.80,540.15 L477.30,538.97 L477.80,537.87 L478.30,536.88 L478.80,536.02 L479.30,535.30 L479.80,534.74 L480.30,534.36 L480.80,534.20 L481.30,534.28 L481.80,534.58 L482.30,535.06 L482.80,535.68 L483.30,536.44 L483.80,537.35 L484.30,538.45 L484.80,539.74 L485.30,541.21 L485.80,542.69 L486.30,543.84" fill="none" stroke="#2828a4" stroke-width="0.95" stroke-linejoin="round"/>
<path d="M179.80,597.90 L180.30,597.83 L180.80,597.77 L181.30,597.78 L181.80,597.92 L182.30,598.26 L182.80,598.84 L183.30,599.62 L183.80,600.54 L184.30,601.51 L184.80,602.47 L185.30,603.42 L185.80,604.33 L186.30,605.18 L186.80,605.96 L187.30,606.66 L187.80,607.27 L188.30,607.80 L188.80,608.26 L189.30,608.65 L189.80,608.96 L190.30,609.20 L190.80,609.38 L191.30,609.51 L191.80,609.61 L192.30,609.66 L192.80,609.67 L193.30,609.65 L193.80,609.58 L194.30,609.48 L194.80,609.35 L195.30,609.18 L195.80,608.98 L196.30,608.76 L196.80,608.49 L197.30,608.19 L197.80,607.85 L198.30,607.47 L198.80,607.05 L199.30,606.58 L199.80,606.07 L200.30,605.50 L200.80,604.85 L201.30,604.10 L201.80,603.22 L202.30,602.19 L202.80,600.96 L203.30,599.53 L203.80,597.93 L204.30,596.25 L204.80,594.60 L205.30,593.07 L205.80,591.69 L206.30,590.49 L206.80,589.48 L207.30,588.66 L207.80,588.04 L208.30,587.62 L208.80,587.43 L209.30,587.49 L209.80,587.79 L210.30,588.30 L210.80,588.99 L211.30,589.82 L211.80,590.76 L212.30,591.82 L212.80,592.95 L213.30,594.11 L213.80,595.26 L214.30,596.35 L214.80,597.36 L215.30,598.30 L215.80,599.15 L216.30,599.91 L216.80,600.57 L217.30,601.12 L217.80,601.57 L218.30,601.93 L218.80,602.21 L219.30,602.39 L219.80,602.46 L220.30,602.43 L220.80,602.30 L221.30,602.08 L221.80,601.81 L222.30,601.51 L222.80,601.21 L223.30,600.93 L223.80,600.68 L224.30,600.46 L224.80,600.30 L225.30,600.20 L225.80,600.18 L226.30,600.26 L226.80,600.43 L227.30,600.70 L227.80,601.05 L228.30,601.48 L228.80,601.98 L229.30,602.52 L229.80,603.07 L230.30,603.59 L230.80,604.03 L231.30,604.35 L231.80,604.52 L232.30,604.46 L232.80,604.13 L233.30,603.53 L233.80,602.68 L234.30,601.63 L234.80,600.41 L235.30,599.02 L235.80,597.49 L236.30,595.86 L236.80,594.17 L237.30,592.45 L237.80,590.77 L238.30,589.20 L238.80,587.82 L239.30,586.69 L239.80,585.87 L240.30,585.46 L240.80,585.48 L241.30,585.88 L241.80,586.53 L242.30,587.32 L242.80,588.15 L243.30,588.97 L243.80,589.70 L244.30,590.28 L244.80,590.68 L245.30,590.91 L245.80,590.95 L246.30,590.79 L246.80,590.40 L247.30,589.76 L247.80,588.84 L248.30,587.59 L248.80,586.00 L249.30,584.07 L249.80,581.88 L250.30,579.48 L250.80,576.95 L251.30,574.34 L251.80,571.69 L252.30,569.01 L252.80,566.34 L253.30,563.72 L253.80,561.19 L254.30,558.79 L254.80,556.57 L255.30,554.59 L255.80,552.91 L256.30,551.53 L256.80,550.42 L257.30,549.51 L257.80,548.78 L258.30,548.18 L258.80,547.67 L259.30,547.25 L259.80,546.91 L260.30,546.64 L260.80,546.43 L261.30,546.29 L261.80,546.23 L262.30,546.25 L262.80,546.37 L263.30,546.57 L263.80,546.85 L264.30,547.18 L264.80,547.55 L265.30,547.91 L265.80,548.23 L266.30,548.43 L266.80,548.49 L267.30,548.38 L267.80,548.11 L268.30,547.68 L268.80,547.14 L269.30,546.58 L269.80,546.07 L270.30,545.70 L270.80,545.52 L271.30,545.60 L271.80,546.01 L272.30,546.77 L272.80,547.93 L273.30,549.53 L273.80,551.60 L274.30,554.07 L274.80,556.86 L275.30,559.90 L275.80,563.09 L276.30,566.29 L276.80,569.38 L277.30,572.27 L277.80,574.95 L278.30,577.39 L278.80,579.59 L279.30,581.54 L279.80,583.25 L280.30,584.69 L280.80,585.82 L281.30,586.62 L281.80,587.11 L282.30,587.30 L282.80,587.21 L283.30,586.84 L283.80,586.27 L284.30,585.57 L284.80,584.79 L285.30,584.00 L285.80,583.23 L286.30,582.53 L286.80,581.98 L287.30,581.62 L287.80,581.47 L288.30,581.54 L288.80,581.90 L289.30,582.59 L289.80,583.65 L290.30,585.05 L290.80,586.77 L291.30,588.78 L291.80,591.03 L292.30,593.41 L292.80,595.80 L293.30,598.12 L293.80,600.32 L294.30,602.41 L294.80,604.38 L295.30,606.20 L295.80,607.88 L296.30,609.43 L296.80,610.85 L297.30,612.16 L297.80,613.37 L298.30,614.47 L298.80,615.47 L299.30,616.37 L299.80,617.19 L300.30,617.93 L300.80,618.60 L301.30,619.21 L301.80,619.76 L302.30,620.26 L302.80,620.70 L303.30,621.10 L303.80,621.45 L304.30,621.76 L304.80,621.99 L305.30,622.15 L305.80,622.22 L306.30,622.19 L306.80,622.07 L307.30,621.87 L307.80,621.62 L308.30,621.32 L308.80,620.98 L309.30,620.63 L309.80,620.26 L310.30,619.88 L310.80,619.47 L311.30,619.03 L311.80,618.55 L312.30,618.02 L312.80,617.44 L313.30,616.80 L313.80,616.07 L314.30,615.26 L314.80,614.36 L315.30,613.37 L315.80,612.26 L316.30,611.06 L316.80,609.78 L317.30,608.46 L317.80,607.20 L318.30,606.05 L318.80,605.06 L319.30,604.23 L319.80,603.55 L320.30,602.99 L320.80,602.54 L321.30,602.17 L321.80,601.89 L322.30,601.71 L322.80,601.67 L323.30,601.83 L323.80,602.18 L324.30,602.68 L324.80,603.26 L325.30,603.85 L325.80,604.37 L326.30,604.74 L326.80,604.86 L327.30,604.66 L327.80,604.12 L328.30,603.24 L328.80,602.06 L329.30,600.60 L329.80,598.87 L330.30,596.94 L330.80,594.90 L331.30,592.88 L331.80,590.98 L332.30,589.24 L332.80,587.75 L333.30,586.58 L333.80,585.75 L334.30,585.23 L334.80,584.97 L335.30,584.91 L335.80,585.02 L336.30,585.24 L336.80,585.56 L337.30,585.94 L337.80,586.34 L338.30,586.71 L338.80,586.96 L339.30,587.01 L339.80,586.76 L340.30,586.17 L340.80,585.20 L341.30,583.83 L341.80,582.06 L342.30,579.91 L342.80,577.56 L343.30,575.19 L343.80,572.97 L344.30,570.98 L344.80,569.24 L345.30,567.77 L345.80,566.55 L346.30,565.58 L346.80,564.81 L347.30,564.22 L347.80,563.77 L348.30,563.44 L348.80,563.15 L349.30,562.80 L349.80,562.29 L350.30,561.51 L350.80,560.44 L351.30,559.13 L351.80,557.65 L352.30,556.11 L352.80,554.56 L353.30,553.03 L353.80,551.57 L354.30,550.21 L354.80,548.99 L355.30,547.95 L355.80,547.12 L356.30,546.55 L356.80,546.25 L357.30,546.21 L357.80,546.45 L358.30,546.95 L358.80,547.69 L359.30,548.64 L359.80,549.78 L360.30,551.07 L360.80,552.42 L361.30,553.75 L361.80,555.00 L362.30,556.13 L362.80,557.14 L363.30,558.01 L363.80,558.73 L364.30,559.31 L364.80,559.78 L365.30,560.15 L365.80,560.43 L366.30,560.64 L366.80,560.80 L367.30,560.92 L367.80,561.01 L368.30,561.09 L368.80,561.18 L369.30,561.28 L369.80,561.43 L370.30,561.66 L370.80,561.99 L371.30,562.47 L371.80,563.10 L372.30,563.90 L372.80,564.89 L373.30,566.02 L373.80,567.22 L374.30,568.41 L374.80,569.55 L375.30,570.61 L375.80,571.59 L376.30,572.50 L376.80,573.34 L377.30,574.11 L377.80,574.79 L378.30,575.36 L378.80,575.80 L379.30,576.13 L379.80,576.33 L380.30,576.40 L380.80,576.32 L381.30,576.08 L381.80,575.68 L382.30,575.15 L382.80,574.49 L383.30,573.70 L383.80,572.79 L384.30,571.78 L384.80,570.71 L385.30,569.60 L385.80,568.47 L386.30,567.30 L386.80,566.11 L387.30,564.90 L387.80,563.66 L388.30,562.45 L388.80,561.33 L389.30,560.35 L389.80,559.59 L390.30,559.08 L390.80,558.90 L391.30,559.07 L391.80,559.60 L392.30,560.44 L392.80,561.56 L393.30,562.93 L393.80,564.49 L394.30,566.16 L394.80,567.88 L395.30,569.60 L395.80,571.26 L396.30,572.80 L396.80,574.18 L397.30,575.38 L397.80,576.41 L398.30,577.26 L398.80,577.94 L399.30,578.47 L399.80,578.86 L400.30,579.13 L400.80,579.28 L401.30,579.33 L401.80,579.31 L402.30,579.26 L402.80,579.19 L403.30,579.13 L403.80,579.10 L404.30,579.11 L404.80,579.15 L405.30,579.21 L405.80,579.27 L406.30,579.32 L406.80,579.34 L407.30,579.30 L407.80,579.20 L408.30,578.99 L408.80,578.68 L409.30,578.26 L409.80,577.72 L410.30,577.05 L410.80,576.24 L411.30,575.27 L411.80,574.13 L412.30,572.87 L412.80,571.53 L413.30,570.14 L413.80,568.75 L414.30,567.36 L414.80,565.97 L415.30,564.59 L415.80,563.22 L416.30,561.89 L416.80,560.58 L417.30,559.29 L417.80,558.03 L418.30,556.79 L418.80,555.56 L419.30,554.35 L419.80,553.14 L420.30,551.95 L420.80,550.79 L421.30,549.69 L421.80,548.66 L422.30,547.71 L422.80,546.84 L423.30,546.05 L423.80,545.34 L424.30,544.71 L424.80,544.15 L425.30,543.67 L425.80,543.25 L426.30,542.90 L426.80,542.64 L427.30,542.48 L427.80,542.42 L428.30,542.46 L428.80,542.62 L429.30,542.92 L429.80,543.33 L430.30,543.82 L430.80,544.34 L431.30,544.87 L431.80,545.38 L432.30,545.89 L432.80,546.38 L433.30,546.85 L433.80,547.30 L434.30,547.73 L434.80,548.17 L435.30,548.65 L435.80,549.20 L436.30,549.87 L436.80,550.69 L437.30,551.67 L437.80,552.84 L438.30,554.19 L438.80,555.71 L439.30,557.39 L439.80,559.21 L440.30,561.09 L440.80,562.98 L441.30,564.83 L441.80,566.60 L442.30,568.20 L442.80,569.56 L443.30,570.67 L443.80,571.53 L444.30,572.18 L444.80,572.64 L445.30,572.95 L445.80,573.16 L446.30,573.33 L446.80,573.51 L447.30,573.77 L447.80,574.12 L448.30,574.58 L448.80,575.13 L449.30,575.74 L449.80,576.41 L450.30,577.09 L450.80,577.75 L451.30,578.34 L451.80,578.84 L452.30,579.21 L452.80,579.44 L453.30,579.49 L453.80,579.32 L454.30,578.90 L454.80,578.21 L455.30,577.20 L455.80,575.83 L456.30,574.07 L456.80,571.93 L457.30,569.40 L457.80,566.53 L458.30,563.41 L458.80,560.21 L459.30,557.12 L459.80,554.25 L460.30,551.67 L460.80,549.39 L461.30,547.45 L461.80,545.86 L462.30,544.63 L462.80,543.76 L463.30,543.24 L463.80,543.06 L464.30,543.19 L464.80,543.60 L465.30,544.25 L465.80,545.06 L466.30,545.98 L466.80,546.96 L467.30,547.97 L467.80,548.95 L468.30,549.87 L468.80,550.69 L469.30,551.36 L469.80,551.81 L470.30,552.01 L470.80,551.95 L471.30,551.67 L471.80,551.20 L472.30,550.57 L472.80,549.79 L473.30,548.86 L473.80,547.80 L474.30,546.63 L474.80,545.38 L475.30,544.07 L475.80,542.73 L476.30,541.41 L476.80,540.15 L477.30,538.97 L477.80,537.87 L478.30,536.88 L478.80,536.02 L479.30,535.30 L479.80,534.74 L480.30,534.36 L480.80,534.20 L481.30,534.28 L481.80,534.58 L482.30,535.06 L482.80,535.68 L483.30,536.44 L483.80,537.35 L484.30,538.45 L484.80,539.74 L485.30,541.21 L485.80,542.69 L486.30,543.84" fill="none" stroke="#2a2a2a" stroke-width="0.95" stroke-dasharray="3.2 2.6" stroke-linejoin="round"/>
<path d="M179.80,570.36 L180.30,570.21 L180.80,570.12 L181.30,570.25 L181.80,570.72 L182.30,571.58 L182.80,572.78 L183.30,574.22 L183.80,575.83 L184.30,577.56 L184.80,579.35 L185.30,581.15 L185.80,582.88 L186.30,584.49 L186.80,585.94 L187.30,587.23 L187.80,588.38 L188.30,589.38 L188.80,590.25 L189.30,590.98 L189.80,591.58 L190.30,592.03 L190.80,592.29 L191.30,592.32 L191.80,592.10 L192.30,591.66 L192.80,591.05 L193.30,590.32 L193.80,589.53 L194.30,588.72 L194.80,587.92 L195.30,587.14 L195.80,586.37 L196.30,585.61 L196.80,584.86 L197.30,584.12 L197.80,583.39 L198.30,582.68 L198.80,581.97 L199.30,581.28 L199.80,580.59 L200.30,579.90 L200.80,579.23 L201.30,578.56 L201.80,577.91 L202.30,577.27 L202.80,576.65 L203.30,576.03 L203.80,575.44 L204.30,574.86 L204.80,574.32 L205.30,573.82 L205.80,573.37 L206.30,573.00 L206.80,572.74 L207.30,572.66 L207.80,572.81 L208.30,573.20 L208.80,573.80 L209.30,574.53 L209.80,575.34 L210.30,576.16 L210.80,576.97 L211.30,577.77 L211.80,578.53 L212.30,579.23 L212.80,579.87 L213.30,580.43 L213.80,580.93 L214.30,581.38 L214.80,581.78 L215.30,582.15 L215.80,582.49 L216.30,582.81 L216.80,583.11 L217.30,583.41 L217.80,583.71 L218.30,583.99 L218.80,584.25 L219.30,584.47 L219.80,584.64 L220.30,584.72 L220.80,584.71 L221.30,584.57 L221.80,584.31 L222.30,583.90 L222.80,583.36 L223.30,582.68 L223.80,581.87 L224.30,580.91 L224.80,579.82 L225.30,578.66 L225.80,577.48 L226.30,576.33 L226.80,575.26 L227.30,574.28 L227.80,573.42 L228.30,572.74 L228.80,572.25 L229.30,571.97 L229.80,571.90 L230.30,572.06 L230.80,572.45 L231.30,573.03 L231.80,573.70 L232.30,574.39 L232.80,575.02 L233.30,575.55 L233.80,575.89 L234.30,575.96 L234.80,575.69 L235.30,575.04 L235.80,574.05 L236.30,572.73 L236.80,571.12 L237.30,569.26 L237.80,567.25 L238.30,565.24 L238.80,563.36 L239.30,561.66 L239.80,560.21 L240.30,559.03 L240.80,558.17 L241.30,557.63 L241.80,557.37 L242.30,557.39 L242.80,557.67 L243.30,558.17 L243.80,558.78 L244.30,559.44 L244.80,560.06 L245.30,560.61 L245.80,561.02 L246.30,561.24 L246.80,561.18 L247.30,560.79 L247.80,560.01 L248.30,558.81 L248.80,557.11 L249.30,554.86 L249.80,552.04 L250.30,548.73 L250.80,545.02 L251.30,540.96 L251.80,536.60 L252.30,531.98 L252.80,527.17 L253.30,522.25 L253.80,517.29 L254.30,512.38 L254.80,507.66 L255.30,503.24 L255.80,499.28 L256.30,495.83 L256.80,492.92 L257.30,490.53 L257.80,488.61 L258.30,487.17 L258.80,486.18 L259.30,485.57 L259.80,485.26 L260.30,485.17 L260.80,485.23 L261.30,485.38 L261.80,485.61 L262.30,485.86 L262.80,486.11 L263.30,486.30 L263.80,486.33 L264.30,486.15 L264.80,485.70 L265.30,485.01 L265.80,484.05 L266.30,482.83 L266.80,481.35 L267.30,479.66 L267.80,477.81 L268.30,475.90 L268.80,474.10 L269.30,472.58 L269.80,471.43 L270.30,470.66 L270.80,470.23 L271.30,470.14 L271.80,470.49 L272.30,471.42 L272.80,473.02 L273.30,475.36 L273.80,478.53 L274.30,482.58 L274.80,487.51 L275.30,493.23 L275.80,499.50 L276.30,505.96 L276.80,512.23 L277.30,518.12 L277.80,523.71 L278.30,529.21 L278.80,534.66 L279.30,539.88 L279.80,544.57 L280.30,548.56 L280.80,551.78 L281.30,554.22 L281.80,555.82 L282.30,556.52 L282.80,556.33 L283.30,555.42 L283.80,553.99 L284.30,552.25 L284.80,550.35 L285.30,548.41 L285.80,546.58 L286.30,545.01 L286.80,543.78 L287.30,542.94 L287.80,542.59 L288.30,542.79 L288.80,543.56 L289.30,544.89 L289.80,546.77 L290.30,549.18 L290.80,552.03 L291.30,555.19 L291.80,558.55 L292.30,562.06 L292.80,565.73 L293.30,569.54 L293.80,573.50 L294.30,577.56 L294.80,581.61 L295.30,585.50 L295.80,589.07 L296.30,592.27 L296.80,595.12 L297.30,597.67 L297.80,600.00 L298.30,602.15 L298.80,604.18 L299.30,606.13 L299.80,608.00 L300.30,609.77 L300.80,611.43 L301.30,612.97 L301.80,614.37 L302.30,615.66 L302.80,616.82 L303.30,617.85 L303.80,618.74 L304.30,619.50 L304.80,620.09 L305.30,620.48 L305.80,620.60 L306.30,620.41 L306.80,619.91 L307.30,619.16 L307.80,618.25 L308.30,617.22 L308.80,616.08 L309.30,614.86 L309.80,613.58 L310.30,612.25 L310.80,610.90 L311.30,609.52 L311.80,608.13 L312.30,606.73 L312.80,605.31 L313.30,603.90 L313.80,602.50 L314.30,601.12 L314.80,599.76 L315.30,598.42 L315.80,597.13 L316.30,595.89 L316.80,594.73 L317.30,593.66 L317.80,592.69 L318.30,591.80 L318.80,591.01 L319.30,590.33 L319.80,589.76 L320.30,589.31 L320.80,588.97 L321.30,588.71 L321.80,588.51 L322.30,588.37 L322.80,588.28 L323.30,588.22 L323.80,588.17 L324.30,588.10 L324.80,587.98 L325.30,587.76 L325.80,587.38 L326.30,586.79 L326.80,585.93 L327.30,584.74 L327.80,583.17 L328.30,581.20 L328.80,578.89 L329.30,576.28 L329.80,573.45 L330.30,570.47 L330.80,567.46 L331.30,564.56 L331.80,561.86 L332.30,559.41 L332.80,557.26 L333.30,555.45 L333.80,554.02 L334.30,552.92 L334.80,552.14 L335.30,551.63 L335.80,551.36 L336.30,551.31 L336.80,551.49 L337.30,551.86 L337.80,552.38 L338.30,552.94 L338.80,553.47 L339.30,553.87 L339.80,554.05 L340.30,553.91 L340.80,553.42 L341.30,552.60 L341.80,551.54 L342.30,550.30 L342.80,548.88 L343.30,547.29 L343.80,545.50 L344.30,543.50 L344.80,541.31 L345.30,539.00 L345.80,536.71 L346.30,534.60 L346.80,532.76 L347.30,531.20 L347.80,529.87 L348.30,528.71 L348.80,527.66 L349.30,526.64 L349.80,525.52 L350.30,524.17 L350.80,522.45 L351.30,520.26 L351.80,517.63 L352.30,514.63 L352.80,511.38 L353.30,507.97 L353.80,504.53 L354.30,501.19 L354.80,498.05 L355.30,495.21 L355.80,492.77 L356.30,490.79 L356.80,489.29 L357.30,488.23 L357.80,487.55 L358.30,487.25 L358.80,487.35 L359.30,487.92 L359.80,488.98 L360.30,490.53 L360.80,492.53 L361.30,494.85 L361.80,497.33 L362.30,499.86 L362.80,502.38 L363.30,504.87 L363.80,507.34 L364.30,509.77 L364.80,512.14 L365.30,514.39 L365.80,516.47 L366.30,518.34 L366.80,519.96 L367.30,521.30 L367.80,522.35 L368.30,523.11 L368.80,523.62 L369.30,523.92 L369.80,524.02 L370.30,523.96 L370.80,523.78 L371.30,523.52 L371.80,523.23 L372.30,522.98 L372.80,522.87 L373.30,523.00 L373.80,523.46 L374.30,524.24 L374.80,525.28 L375.30,526.54 L375.80,527.94 L376.30,529.44 L376.80,530.95 L377.30,532.41 L377.80,533.76 L378.30,534.95 L378.80,535.93 L379.30,536.69 L379.80,537.20 L380.30,537.49 L380.80,537.56 L381.30,537.42 L381.80,537.09 L382.30,536.60 L382.80,536.01 L383.30,535.34 L383.80,534.58 L384.30,533.75 L384.80,532.82 L385.30,531.81 L385.80,530.72 L386.30,529.56 L386.80,528.36 L387.30,527.17 L387.80,526.00 L388.30,524.94 L388.80,524.05 L389.30,523.40 L389.80,523.01 L390.30,522.88 L390.80,523.06 L391.30,523.55 L391.80,524.36 L392.30,525.51 L392.80,527.00 L393.30,528.83 L393.80,530.95 L394.30,533.29 L394.80,535.74 L395.30,538.14 L395.80,540.32 L396.30,542.17 L396.80,543.71 L397.30,544.97 L397.80,546.02 L398.30,546.89 L398.80,547.63 L399.30,548.24 L399.80,548.70 L400.30,549.01 L400.80,549.19 L401.30,549.25 L401.80,549.21 L402.30,549.07 L402.80,548.87 L403.30,548.60 L403.80,548.29 L404.30,547.94 L404.80,547.54 L405.30,547.07 L405.80,546.46 L406.30,545.66 L406.80,544.61 L407.30,543.24 L407.80,541.52 L408.30,539.44 L408.80,537.08 L409.30,534.56 L409.80,531.97 L410.30,529.37 L410.80,526.76 L411.30,524.10 L411.80,521.33 L412.30,518.40 L412.80,515.30 L413.30,512.02 L413.80,508.59 L414.30,505.04 L414.80,501.39 L415.30,497.71 L415.80,494.06 L416.30,490.51 L416.80,487.12 L417.30,483.92 L417.80,480.93 L418.30,478.17 L418.80,475.65 L419.30,473.37 L419.80,471.31 L420.30,469.48 L420.80,467.86 L421.30,466.43 L421.80,465.18 L422.30,464.08 L422.80,463.13 L423.30,462.29 L423.80,461.56 L424.30,460.91 L424.80,460.32 L425.30,459.78 L425.80,459.27 L426.30,458.80 L426.80,458.36 L427.30,457.99 L427.80,457.71 L428.30,457.54 L428.80,457.49 L429.30,457.57 L429.80,457.84 L430.30,458.30 L430.80,458.96 L431.30,459.83 L431.80,460.91 L432.30,462.21 L432.80,463.71 L433.30,465.41 L433.80,467.28 L434.30,469.35 L434.80,471.62 L435.30,474.12 L435.80,476.88 L436.30,479.90 L436.80,483.15 L437.30,486.54 L437.80,490.00 L438.30,493.48 L438.80,496.90 L439.30,500.23 L439.80,503.38 L440.30,506.32 L440.80,509.02 L441.30,511.42 L441.80,513.46 L442.30,515.11 L442.80,516.39 L443.30,517.36 L443.80,518.06 L444.30,518.54 L444.80,518.87 L445.30,519.08 L445.80,519.24 L446.30,519.37 L446.80,519.52 L447.30,519.74 L447.80,520.06 L448.30,520.57 L448.80,521.33 L449.30,522.37 L449.80,523.66 L450.30,525.09 L450.80,526.58 L451.30,528.06 L451.80,529.47 L452.30,530.76 L452.80,531.85 L453.30,532.69 L453.80,533.22 L454.30,533.36 L454.80,533.02 L455.30,532.13 L455.80,530.68 L456.30,528.63 L456.80,525.95 L457.30,522.68 L457.80,518.90 L458.30,514.72 L458.80,510.26 L459.30,505.66 L459.80,501.07 L460.30,496.61 L460.80,492.36 L461.30,488.44 L461.80,484.94 L462.30,482.01 L462.80,479.78 L463.30,478.36 L463.80,477.72 L464.30,477.76 L464.80,478.40 L465.30,479.47 L465.80,480.86 L466.30,482.43 L466.80,484.11 L467.30,485.77 L467.80,487.30 L468.30,488.61 L468.80,489.62 L469.30,490.24 L469.80,490.39 L470.30,490.06 L470.80,489.35 L471.30,488.39 L471.80,487.32 L472.30,486.21 L472.80,485.13 L473.30,484.14 L473.80,483.30 L474.30,482.62 L474.80,482.11 L475.30,481.78 L475.80,481.64 L476.30,481.71 L476.80,481.95 L477.30,482.35 L477.80,482.86 L478.30,483.45 L478.80,484.10 L479.30,484.81 L479.80,485.57 L480.30,486.39 L480.80,487.26 L481.30,488.19 L481.80,489.18 L482.30,490.23 L482.80,491.38 L483.30,492.64 L483.80,494.03 L484.30,495.54 L484.80,497.17 L485.30,498.87 L485.80,500.50 L486.30,501.73" fill="none" stroke="#1a1a1a" stroke-width="0.95" stroke-linejoin="round"/>
<path d="M492.3,455.3 H504.6" stroke="#1a1a1a" stroke-width="0.8" opacity="0.7"/>
<text x="509.1" y="457.9" font-family="Liberation Serif" font-size="8.09" font-weight="normal" text-anchor="start" textLength="19.4" lengthAdjust="spacingAndGlyphs" stroke="#222" stroke-width="0.12">Total</text>
<path d="M492.3,462.6 H504.6" stroke="#a03030" stroke-width="0.8" opacity="0.7"/>
<text x="509.1" y="465.2" font-family="Liberation Serif" font-size="8.09" font-weight="normal" text-anchor="start" textLength="34.5" lengthAdjust="spacingAndGlyphs" stroke="#222" stroke-width="0.12">Acceptor</text>
<path d="M492.3,469.8 H504.6" stroke="#223" stroke-width="0.8" opacity="0.7"/>
<text x="509.1" y="472.4" font-family="Liberation Serif" font-size="8.09" font-weight="normal" text-anchor="start" textLength="22.1" lengthAdjust="spacingAndGlyphs" stroke="#222" stroke-width="0.12">Donor</text>
<path d="M492.3,477.1 H504.6" stroke="#c032c0" stroke-width="0.8" opacity="0.7"/>
<text x="509.1" y="479.7" font-family="Liberation Serif" font-size="8.09" font-weight="normal" text-anchor="start" textLength="24.7" lengthAdjust="spacingAndGlyphs" stroke="#222" stroke-width="0.12">Bridge</text>
<text x="346.1" y="662.4" font-family="Liberation Sans" font-size="16.50" font-weight="bold" text-anchor="middle" style="fill:#000;stroke:#000;stroke-width:0.35px">A5</text>
</g>
</svg>
</body></html>
